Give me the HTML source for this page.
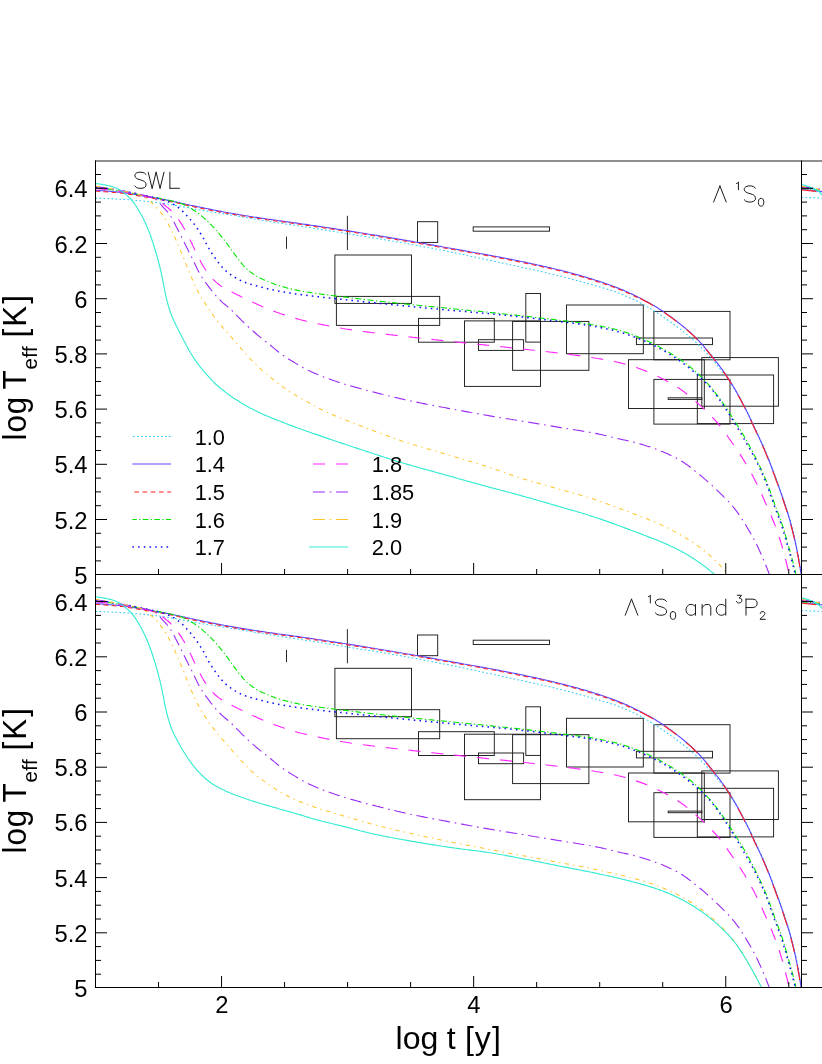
<!DOCTYPE html>
<html><head><meta charset="utf-8"><title>cooling curves</title>
<style>html,body{margin:0;padding:0;background:#fff;}svg{display:block;will-change:transform;}</style></head><body>
<svg width="822" height="1064" viewBox="0 0 822 1064">
<rect width="822" height="1064" fill="#fff"/>
<defs>
<clipPath id="c0"><rect x="95.5" y="161.0" width="706.6" height="413.5"/></clipPath>
<clipPath id="c1"><rect x="95.5" y="574.5" width="706.6" height="413.0"/></clipPath>
<clipPath id="r0"><rect x="801.5" y="161.0" width="20.5" height="413.5"/></clipPath>
<clipPath id="r1"><rect x="801.5" y="574.5" width="20.5" height="413.0"/></clipPath>
</defs>
<g clip-path="url(#c0)"><g fill="none" stroke="#1c1c1c" stroke-width="0.95">
<rect x="334.9" y="255.0" width="76.6" height="48.4"/>
<rect x="336.4" y="296.4" width="103.3" height="29.0"/>
<rect x="417.5" y="221.7" width="20.2" height="20.7"/>
<rect x="473.2" y="226.9" width="76.3" height="4.3"/>
<rect x="418.5" y="318.4" width="75.8" height="23.8"/>
<rect x="464.5" y="320.9" width="76.0" height="65.5"/>
<rect x="478.5" y="339.7" width="45.1" height="10.7"/>
<rect x="525.8" y="293.5" width="14.7" height="48.6"/>
<rect x="512.6" y="321.4" width="76.3" height="48.9"/>
<rect x="566.5" y="305.0" width="76.8" height="48.7"/>
<rect x="636.4" y="338.0" width="76.1" height="6.6"/>
<rect x="653.9" y="311.4" width="76.1" height="48.4"/>
<rect x="628.5" y="359.7" width="75.8" height="48.8"/>
<rect x="653.9" y="379.4" width="76.1" height="44.7"/>
<rect x="701.8" y="357.6" width="76.6" height="48.6"/>
<rect x="697.3" y="375.0" width="76.3" height="48.6"/>
<rect x="668.2" y="397.8" width="33.6" height="1.6"/>
<path d="M347.4 215.8V250.0"/>
<path d="M286.5 236.6V248.8"/>
</g><path d="M95.5 198.2L97.0 198.2L98.5 198.3L100.0 198.3L101.5 198.4L103.0 198.4L104.5 198.5L106.0 198.5L107.5 198.6L109.0 198.7L110.5 198.7L112.0 198.8L113.5 198.9L115.0 198.9L116.5 199.0L118.0 199.1L119.5 199.2L121.0 199.3L122.5 199.3L124.0 199.4L125.5 199.5L127.0 199.6L128.5 199.7L130.0 199.9L131.5 200.0L132.9 200.1L134.4 200.2L135.9 200.4L137.4 200.5L138.9 200.6L140.4 200.8L141.9 200.9L143.4 201.0L144.9 201.2L146.4 201.3L147.9 201.5L149.4 201.7L150.9 201.8L152.4 202.0L153.8 202.2L155.3 202.4L156.8 202.5L158.3 202.7L159.8 202.9L161.3 203.1L162.8 203.3L164.3 203.5L165.7 203.8L167.2 204.0L168.7 204.2L170.2 204.4L171.7 204.7L173.1 204.9L174.6 205.2L176.1 205.5L177.6 205.7L179.0 206.0L180.5 206.3L182.0 206.6L183.5 206.9L184.9 207.2L186.4 207.5L187.9 207.8L189.3 208.1L190.8 208.4L192.3 208.7L193.8 209.0L195.2 209.2L196.7 209.5L198.2 209.7L199.7 210.0L201.2 210.2L202.6 210.5L204.1 210.7L205.6 210.9L207.1 211.2L208.6 211.4L210.0 211.6L211.5 211.9L213.0 212.1L214.5 212.3L216.0 212.6L217.5 212.8L218.9 213.0L220.4 213.3L221.9 213.5L223.4 213.8L224.9 214.0L226.3 214.2L227.8 214.5L229.3 214.7L230.8 215.0L232.3 215.2L233.7 215.5L235.2 215.7L236.7 216.0L238.2 216.2L239.6 216.5L241.1 216.7L242.6 217.0L244.1 217.2L245.6 217.5L247.0 217.7L248.5 218.0L250.0 218.2L251.5 218.5L253.0 218.8L254.4 219.0L255.9 219.3L257.4 219.5L258.9 219.8L260.4 220.0L261.8 220.3L263.3 220.5L264.8 220.8L266.3 221.0L267.7 221.2L269.2 221.5L270.7 221.7L272.2 221.9L273.7 222.2L275.2 222.4L276.6 222.6L278.1 222.8L279.6 223.1L281.1 223.3L282.6 223.5L284.1 223.7L285.5 223.9L287.0 224.2L288.5 224.4L290.0 224.6L291.5 224.8L293.0 225.0L294.4 225.3L295.9 225.5L297.4 225.7L298.9 225.9L300.4 226.2L301.9 226.4L303.3 226.6L304.8 226.9L306.3 227.1L307.8 227.3L309.3 227.5L310.8 227.8L312.2 228.0L313.7 228.3L315.2 228.5L316.7 228.7L318.2 229.0L319.6 229.2L321.1 229.4L322.6 229.7L324.1 229.9L325.6 230.2L327.0 230.4L328.5 230.6L330.0 230.9L331.5 231.1L333.0 231.3L334.5 231.6L335.9 231.8L337.4 232.1L338.9 232.3L340.4 232.6L341.9 232.8L343.3 233.0L344.8 233.3L346.3 233.5L347.8 233.8L349.3 234.0L350.7 234.2L352.2 234.5L353.7 234.7L355.2 235.0L356.7 235.2L358.1 235.4L359.6 235.7L361.1 235.9L362.6 236.1L364.1 236.4L365.5 236.6L367.0 236.9L368.5 237.1L370.0 237.3L371.5 237.6L373.0 237.8L374.4 238.0L375.9 238.3L377.4 238.5L378.9 238.8L380.4 239.0L381.8 239.2L383.3 239.5L384.8 239.7L386.3 240.0L387.8 240.2L389.2 240.5L390.7 240.7L392.2 241.0L393.7 241.2L395.1 241.5L396.6 241.7L398.1 242.0L399.6 242.3L401.1 242.5L402.5 242.8L404.0 243.0L405.5 243.3L407.0 243.6L408.4 243.9L409.9 244.1L411.4 244.4L412.9 244.7L414.3 244.9L415.8 245.2L417.3 245.5L418.8 245.8L420.2 246.0L421.7 246.3L423.2 246.6L424.7 246.9L426.1 247.2L427.6 247.5L429.1 247.7L430.6 248.0L432.0 248.3L433.5 248.6L435.0 248.9L436.4 249.2L437.9 249.5L439.4 249.8L440.9 250.1L442.3 250.3L443.8 250.6L445.3 250.9L446.7 251.2L448.2 251.5L449.7 251.8L451.1 252.1L452.6 252.4L454.1 252.7L455.6 253.0L457.0 253.3L458.5 253.6L460.0 253.9L461.4 254.2L462.9 254.5L464.4 254.8L465.8 255.1L467.3 255.5L468.8 255.8L470.2 256.1L471.7 256.4L473.2 256.7L474.6 257.0L476.1 257.3L477.6 257.6L479.0 258.0L480.5 258.3L482.0 258.6L483.4 258.9L484.9 259.2L486.4 259.6L487.8 259.9L489.3 260.2L490.8 260.5L492.2 260.8L493.7 261.1L495.2 261.5L496.6 261.8L498.1 262.1L499.6 262.4L501.0 262.8L502.5 263.1L504.0 263.4L505.4 263.7L506.9 264.0L508.4 264.4L509.8 264.7L511.3 265.0L512.8 265.3L514.2 265.6L515.7 265.9L517.2 266.3L518.6 266.6L520.1 266.9L521.5 267.2L523.0 267.5L524.5 267.9L525.9 268.2L527.4 268.5L528.9 268.8L530.3 269.1L531.8 269.5L533.3 269.8L534.7 270.1L536.2 270.5L537.7 270.8L539.1 271.1L540.6 271.4L542.1 271.8L543.5 272.1L545.0 272.5L546.4 272.8L547.9 273.1L549.4 273.5L550.8 273.8L552.3 274.2L553.7 274.5L555.2 274.9L556.6 275.3L558.1 275.6L559.5 276.0L561.0 276.3L562.5 276.7L563.9 277.1L565.4 277.5L566.8 277.8L568.3 278.2L569.7 278.6L571.2 279.0L572.6 279.4L574.1 279.8L575.5 280.1L577.0 280.5L578.4 280.9L579.9 281.3L581.3 281.7L582.8 282.1L584.2 282.5L585.6 282.9L587.1 283.3L588.5 283.7L590.0 284.2L591.4 284.6L592.9 285.0L594.3 285.4L595.7 285.8L597.2 286.2L598.6 286.6L600.1 287.1L601.5 287.5L603.0 287.9L604.4 288.3L605.8 288.8L607.3 289.2L608.7 289.7L610.1 290.1L611.6 290.6L613.0 291.0L614.4 291.5L615.8 292.0L617.2 292.5L618.6 293.1L620.0 293.6L621.4 294.1L622.8 294.7L624.2 295.3L625.6 295.9L626.9 296.5L628.3 297.1L629.7 297.7L631.1 298.3L632.4 299.0L633.8 299.6L635.1 300.3L636.5 300.9L637.8 301.6L639.2 302.3L640.5 303.0L641.8 303.7L643.1 304.4L644.4 305.1L645.7 305.8L647.0 306.6L648.3 307.3L649.6 308.1L650.9 308.9L652.2 309.7L653.4 310.5L654.7 311.3L656.0 312.1L657.2 312.9L658.5 313.8L659.7 314.6L661.0 315.4L662.2 316.3L663.5 317.1L664.7 318.0L665.9 318.8L667.2 319.7L668.4 320.5L669.6 321.4L670.9 322.3L672.1 323.1L673.3 324.0L674.5 324.9L675.7 325.8L676.9 326.7L678.1 327.6L679.4 328.5L680.5 329.4L681.7 330.3L682.9 331.2L684.1 332.2L685.3 333.1L686.4 334.1L687.6 335.0L688.7 336.0L689.9 336.9L691.0 337.9L692.1 338.9L693.2 339.9L694.4 340.9L695.5 341.9L696.5 342.9L697.6 344.0L698.7 345.0L699.8 346.1L700.9 347.1L701.9 348.2L703.0 349.3L704.0 350.4L705.1 351.4L706.1 352.5L707.1 353.6L708.1 354.7L709.1 355.8L710.2 357.0L711.2 358.1L712.1 359.2L713.1 360.3L714.1 361.5L715.1 362.6L716.0 363.8L717.0 364.9L717.9 366.1L718.9 367.3L719.8 368.4L720.7 369.6L721.6 370.8L722.5 372.0L723.5 373.2L724.4 374.4L725.2 375.6L726.1 376.8L727.0 378.0L727.9 379.3L728.7 380.5L729.6 381.7L730.4 383.0L731.2 384.2L732.1 385.5L732.9 386.7L733.7 388.0L734.5 389.3L735.3 390.5L736.1 391.8L736.8 393.1L737.6 394.4L738.4 395.7L739.1 397.0L739.9 398.3L740.6 399.6L741.4 400.9L742.1 402.2L742.8 403.5L743.6 404.8L744.3 406.1L745.0 407.4L745.7 408.8L746.4 410.1L747.1 411.4L747.8 412.8L748.5 414.1L749.2 415.4L749.8 416.8L750.5 418.1L751.1 419.5L751.7 420.8L752.4 422.2L753.0 423.6L753.6 424.9L754.2 426.3L754.8 427.7L755.5 429.0L756.1 430.4L756.7 431.8L757.4 433.1L758.0 434.5L758.6 435.8L759.3 437.2L759.9 438.6L760.5 439.9L761.2 441.3L761.8 442.6L762.4 444.0L763.1 445.4L763.7 446.7L764.3 448.1L764.9 449.5L765.5 450.9L766.0 452.2L766.6 453.6L767.2 455.0L767.7 456.4L768.3 457.8L768.9 459.2L769.4 460.6L769.9 462.0L770.5 463.4L771.0 464.8L771.6 466.2L772.1 467.6L772.6 469.0L773.1 470.4L773.7 471.8L774.2 473.2L774.7 474.6L775.2 476.0L775.7 477.4L776.3 478.8L776.8 480.3L777.3 481.7L777.8 483.1L778.3 484.5L778.8 485.9L779.3 487.3L779.8 488.7L780.3 490.1L780.8 491.6L781.3 493.0L781.8 494.4L782.3 495.8L782.8 497.2L783.3 498.6L783.8 500.1L784.2 501.5L784.7 502.9L785.2 504.3L785.7 505.8L786.1 507.2L786.6 508.6L787.1 510.0L787.5 511.5L788.0 512.9L788.4 514.3L788.9 515.8L789.3 517.2L789.7 518.6L790.2 520.1L790.6 521.5L791.0 523.0L791.4 524.4L791.7 525.9L792.1 527.3L792.5 528.8L792.9 530.2L793.2 531.7L793.6 533.1L793.9 534.6L794.3 536.0L794.6 537.5L794.9 539.0L795.3 540.4L795.6 541.9L795.9 543.4L796.2 544.8L796.5 546.3L796.8 547.8L797.1 549.2L797.4 550.7L797.7 552.2L798.0 553.7L798.3 555.1L798.5 556.6L798.8 558.1L799.1 559.6L799.3 561.0L799.6 562.5L799.8 564.0L800.1 565.5L800.3 567.0L800.6 568.4L800.8 569.9L801.0 571.4L801.3 572.9L801.5 574.4L801.5 574.5" fill="none" stroke="#2cc8ff" stroke-width="1.05" stroke-dasharray="1.7 2.3" stroke-linejoin="round"/>
<path d="M95.5 190.4L97.0 190.5L98.5 190.5L100.0 190.6L101.5 190.7L103.0 190.8L104.5 190.9L106.0 191.0L107.5 191.1L109.0 191.3L110.5 191.4L112.0 191.5L113.5 191.7L115.0 191.8L116.5 191.9L117.9 192.1L119.4 192.2L120.9 192.4L122.4 192.6L123.9 192.8L125.4 193.0L126.9 193.2L128.3 193.4L129.8 193.6L131.3 193.9L132.8 194.1L134.3 194.3L135.8 194.6L137.2 194.9L138.7 195.1L140.2 195.4L141.7 195.6L143.2 195.9L144.6 196.1L146.1 196.4L147.6 196.6L149.1 196.9L150.5 197.1L152.0 197.4L153.5 197.6L155.0 197.9L156.5 198.2L157.9 198.4L159.4 198.7L160.9 199.0L162.4 199.2L163.8 199.5L165.3 199.8L166.8 200.1L168.3 200.4L169.7 200.6L171.2 200.9L172.7 201.2L174.1 201.6L175.6 201.9L177.1 202.2L178.5 202.5L180.0 202.8L181.5 203.2L182.9 203.5L184.4 203.8L185.8 204.2L187.3 204.5L188.8 204.8L190.2 205.2L191.7 205.5L193.2 205.8L194.6 206.1L196.1 206.4L197.6 206.7L199.0 207.0L200.5 207.3L202.0 207.6L203.4 207.9L204.9 208.2L206.4 208.5L207.9 208.8L209.3 209.1L210.8 209.4L212.3 209.7L213.7 210.0L215.2 210.3L216.7 210.6L218.2 210.9L219.6 211.1L221.1 211.4L222.6 211.7L224.1 212.0L225.5 212.2L227.0 212.5L228.5 212.8L230.0 213.0L231.4 213.3L232.9 213.5L234.4 213.8L235.9 214.1L237.4 214.3L238.8 214.6L240.3 214.8L241.8 215.1L243.3 215.3L244.7 215.6L246.2 215.8L247.7 216.0L249.2 216.3L250.7 216.5L252.2 216.7L253.6 217.0L255.1 217.2L256.6 217.4L258.1 217.6L259.6 217.9L261.1 218.1L262.5 218.3L264.0 218.5L265.5 218.7L267.0 219.0L268.5 219.2L270.0 219.4L271.4 219.6L272.9 219.8L274.4 220.0L275.9 220.2L277.4 220.5L278.9 220.7L280.4 220.9L281.8 221.1L283.3 221.3L284.8 221.5L286.3 221.7L287.8 221.9L289.3 222.1L290.8 222.3L292.2 222.5L293.7 222.7L295.2 222.9L296.7 223.1L298.2 223.3L299.7 223.6L301.2 223.8L302.6 224.0L304.1 224.2L305.6 224.4L307.1 224.6L308.6 224.8L310.1 225.1L311.5 225.3L313.0 225.5L314.5 225.7L316.0 225.9L317.5 226.2L319.0 226.4L320.4 226.6L321.9 226.8L323.4 227.0L324.9 227.3L326.4 227.5L327.9 227.7L329.3 227.9L330.8 228.2L332.3 228.4L333.8 228.6L335.3 228.8L336.8 229.1L338.2 229.3L339.7 229.5L341.2 229.7L342.7 230.0L344.2 230.2L345.7 230.4L347.1 230.7L348.6 230.9L350.1 231.1L351.6 231.4L353.1 231.6L354.5 231.8L356.0 232.1L357.5 232.3L359.0 232.5L360.5 232.8L362.0 233.0L363.4 233.3L364.9 233.5L366.4 233.7L367.9 234.0L369.4 234.2L370.8 234.5L372.3 234.7L373.8 234.9L375.3 235.2L376.8 235.4L378.2 235.7L379.7 235.9L381.2 236.2L382.7 236.4L384.2 236.7L385.6 236.9L387.1 237.2L388.6 237.4L390.1 237.7L391.6 237.9L393.0 238.2L394.5 238.4L396.0 238.7L397.5 238.9L398.9 239.2L400.4 239.4L401.9 239.7L403.4 239.9L404.9 240.2L406.3 240.4L407.8 240.7L409.3 240.9L410.8 241.2L412.3 241.4L413.7 241.7L415.2 242.0L416.7 242.2L418.2 242.5L419.6 242.7L421.1 243.0L422.6 243.3L424.1 243.5L425.5 243.8L427.0 244.1L428.5 244.3L430.0 244.6L431.5 244.8L432.9 245.1L434.4 245.4L435.9 245.6L437.4 245.9L438.8 246.2L440.3 246.4L441.8 246.7L443.3 247.0L444.7 247.2L446.2 247.5L447.7 247.8L449.2 248.0L450.6 248.3L452.1 248.6L453.6 248.8L455.1 249.1L456.6 249.3L458.0 249.6L459.5 249.9L461.0 250.1L462.5 250.4L463.9 250.7L465.4 250.9L466.9 251.2L468.4 251.4L469.8 251.7L471.3 252.0L472.8 252.2L474.3 252.5L475.8 252.8L477.2 253.0L478.7 253.3L480.2 253.6L481.7 253.8L483.1 254.1L484.6 254.4L486.1 254.6L487.6 254.9L489.0 255.2L490.5 255.4L492.0 255.7L493.5 256.0L494.9 256.3L496.4 256.6L497.9 256.8L499.4 257.1L500.8 257.4L502.3 257.7L503.8 258.0L505.2 258.3L506.7 258.6L508.2 258.9L509.7 259.1L511.1 259.4L512.6 259.7L514.1 260.0L515.5 260.3L517.0 260.6L518.5 260.9L519.9 261.2L521.4 261.5L522.9 261.8L524.4 262.1L525.8 262.4L527.3 262.8L528.8 263.1L530.2 263.4L531.7 263.7L533.2 264.0L534.6 264.3L536.1 264.6L537.6 265.0L539.0 265.3L540.5 265.6L542.0 265.9L543.4 266.3L544.9 266.6L546.3 266.9L547.8 267.3L549.3 267.6L550.7 267.9L552.2 268.3L553.6 268.6L555.1 269.0L556.6 269.3L558.0 269.7L559.5 270.0L560.9 270.4L562.4 270.8L563.8 271.1L565.3 271.5L566.7 271.9L568.2 272.3L569.6 272.7L571.1 273.0L572.5 273.4L574.0 273.8L575.4 274.2L576.9 274.6L578.3 275.0L579.8 275.4L581.2 275.9L582.7 276.3L584.1 276.7L585.5 277.1L587.0 277.5L588.4 278.0L589.8 278.4L591.3 278.8L592.7 279.3L594.1 279.7L595.6 280.2L597.0 280.6L598.4 281.1L599.9 281.6L601.3 282.0L602.7 282.5L604.1 283.0L605.5 283.5L607.0 284.0L608.4 284.5L609.8 285.0L611.2 285.5L612.6 286.0L614.0 286.5L615.4 287.0L616.8 287.6L618.2 288.1L619.6 288.7L621.0 289.3L622.4 289.8L623.8 290.4L625.1 291.0L626.5 291.6L627.9 292.2L629.3 292.9L630.6 293.5L632.0 294.1L633.3 294.8L634.7 295.4L636.0 296.1L637.4 296.7L638.7 297.4L640.1 298.1L641.4 298.8L642.7 299.5L644.1 300.2L645.4 300.9L646.7 301.6L648.0 302.3L649.3 303.0L650.6 303.8L652.0 304.5L653.2 305.3L654.5 306.0L655.8 306.8L657.1 307.6L658.4 308.4L659.6 309.2L660.9 310.0L662.1 310.8L663.4 311.6L664.6 312.5L665.9 313.3L667.1 314.2L668.3 315.1L669.5 316.0L670.8 316.8L672.0 317.7L673.2 318.6L674.4 319.5L675.6 320.4L676.7 321.3L677.9 322.3L679.1 323.2L680.3 324.1L681.5 325.1L682.6 326.0L683.8 327.0L685.0 327.9L686.1 328.9L687.3 329.9L688.4 330.8L689.5 331.8L690.7 332.8L691.8 333.8L692.9 334.9L694.0 335.9L695.0 336.9L696.1 338.0L697.1 339.0L698.1 340.1L699.2 341.2L700.2 342.3L701.2 343.4L702.2 344.5L703.2 345.7L704.2 346.8L705.1 347.9L706.1 349.1L707.1 350.3L708.0 351.4L709.0 352.6L709.9 353.8L710.9 354.9L711.8 356.1L712.7 357.3L713.7 358.5L714.6 359.7L715.5 360.8L716.4 362.0L717.4 363.2L718.3 364.4L719.2 365.6L720.1 366.8L721.0 368.0L721.9 369.2L722.8 370.4L723.6 371.6L724.5 372.8L725.4 374.1L726.2 375.3L727.0 376.6L727.9 377.8L728.7 379.1L729.5 380.3L730.3 381.6L731.1 382.9L731.9 384.1L732.7 385.4L733.4 386.7L734.2 388.0L735.0 389.3L735.7 390.6L736.5 391.9L737.2 393.2L737.9 394.5L738.6 395.8L739.4 397.1L740.1 398.5L740.8 399.8L741.5 401.1L742.2 402.4L742.9 403.8L743.6 405.1L744.3 406.4L744.9 407.8L745.6 409.1L746.3 410.5L747.0 411.8L747.6 413.1L748.3 414.5L749.0 415.8L749.6 417.2L750.2 418.5L750.9 419.9L751.5 421.3L752.1 422.6L752.8 424.0L753.4 425.4L754.0 426.7L754.6 428.1L755.2 429.5L755.9 430.8L756.5 432.2L757.1 433.5L757.8 434.9L758.4 436.3L759.1 437.6L759.7 439.0L760.3 440.3L761.0 441.7L761.6 443.1L762.2 444.4L762.8 445.8L763.4 447.2L764.1 448.5L764.6 449.9L765.2 451.3L765.8 452.7L766.4 454.0L766.9 455.4L767.5 456.8L768.1 458.2L768.6 459.6L769.2 461.0L769.7 462.4L770.2 463.8L770.8 465.2L771.3 466.6L771.8 468.0L772.4 469.4L772.9 470.8L773.4 472.2L773.9 473.6L774.5 475.0L775.0 476.5L775.5 477.9L776.0 479.3L776.5 480.7L777.1 482.1L777.6 483.5L778.1 484.9L778.6 486.3L779.1 487.7L779.6 489.1L780.1 490.6L780.6 492.0L781.1 493.4L781.6 494.8L782.1 496.2L782.5 497.6L783.0 499.1L783.5 500.5L784.0 501.9L784.4 503.3L784.9 504.8L785.4 506.2L785.9 507.6L786.3 509.0L786.8 510.5L787.3 511.9L787.7 513.3L788.2 514.8L788.6 516.2L789.0 517.6L789.5 519.1L789.9 520.5L790.3 521.9L790.7 523.4L791.1 524.8L791.4 526.3L791.8 527.7L792.2 529.2L792.6 530.6L792.9 532.1L793.3 533.6L793.6 535.0L794.0 536.5L794.3 537.9L794.6 539.4L795.0 540.9L795.3 542.3L795.6 543.8L795.9 545.3L796.2 546.7L796.5 548.2L796.8 549.7L797.1 551.2L797.4 552.6L797.7 554.1L798.0 555.6L798.3 557.0L798.5 558.5L798.8 560.0L799.1 561.5L799.3 562.9L799.6 564.4L799.8 565.9L800.1 567.4L800.3 568.9L800.6 570.3L800.8 571.8L801.0 573.3L801.2 574.5" fill="none" stroke="#5a46ff" stroke-width="1.15" stroke-linejoin="round"/>
<path d="M95.3 191.2L96.8 191.2L98.3 191.3L99.8 191.4L101.3 191.5L102.8 191.6L104.3 191.7L105.8 191.8L107.3 191.9L108.8 192.0L110.3 192.1L111.8 192.3L113.3 192.4L114.8 192.5L116.3 192.7L117.7 192.8L119.2 193.0L120.7 193.1L122.2 193.3L123.7 193.5L125.2 193.7L126.7 193.9L128.1 194.1L129.6 194.4L131.1 194.6L132.6 194.8L134.1 195.1L135.6 195.4L137.0 195.6L138.5 195.9L140.0 196.1L141.5 196.4L143.0 196.6L144.4 196.9L145.9 197.1L147.4 197.4L148.9 197.6L150.3 197.9L151.8 198.1L153.3 198.4L154.8 198.7L156.3 198.9L157.7 199.2L159.2 199.4L160.7 199.7L162.2 200.0L163.6 200.3L165.1 200.5L166.6 200.8L168.1 201.1L169.5 201.4L171.0 201.7L172.5 202.0L173.9 202.3L175.4 202.6L176.9 202.9L178.3 203.3L179.8 203.6L181.3 203.9L182.7 204.3L184.2 204.6L185.6 204.9L187.1 205.3L188.6 205.6L190.0 205.9L191.5 206.2L193.0 206.6L194.4 206.9L195.9 207.2L197.4 207.5L198.8 207.8L200.3 208.1L201.8 208.4L203.2 208.7L204.7 209.0L206.2 209.3L207.7 209.6L209.1 209.9L210.6 210.2L212.1 210.5L213.5 210.8L215.0 211.0L216.5 211.3L218.0 211.6L219.4 211.9L220.9 212.2L222.4 212.4L223.9 212.7L225.3 213.0L226.8 213.2L228.3 213.5L229.8 213.8L231.2 214.0L232.7 214.3L234.2 214.6L235.7 214.8L237.2 215.1L238.6 215.3L240.1 215.6L241.6 215.8L243.1 216.1L244.5 216.3L246.0 216.5L247.5 216.8L249.0 217.0L250.5 217.3L252.0 217.5L253.4 217.7L254.9 217.9L256.4 218.2L257.9 218.4L259.4 218.6L260.9 218.8L262.3 219.1L263.8 219.3L265.3 219.5L266.8 219.7L268.3 219.9L269.8 220.1L271.2 220.4L272.7 220.6L274.2 220.8L275.7 221.0L277.2 221.2L278.7 221.4L280.2 221.6L281.6 221.8L283.1 222.0L284.6 222.2L286.1 222.4L287.6 222.6L289.1 222.8L290.6 223.0L292.0 223.3L293.5 223.5L295.0 223.7L296.5 223.9L298.0 224.1L299.5 224.3L301.0 224.5L302.4 224.7L303.9 224.9L305.4 225.2L306.9 225.4L308.4 225.6L309.9 225.8L311.3 226.0L312.8 226.3L314.3 226.5L315.8 226.7L317.3 226.9L318.8 227.1L320.2 227.3L321.7 227.6L323.2 227.8L324.7 228.0L326.2 228.2L327.7 228.5L329.1 228.7L330.6 228.9L332.1 229.1L333.6 229.4L335.1 229.6L336.6 229.8L338.0 230.0L339.5 230.3L341.0 230.5L342.5 230.7L344.0 231.0L345.5 231.2L346.9 231.4L348.4 231.6L349.9 231.9L351.4 232.1L352.9 232.3L354.3 232.6L355.8 232.8L357.3 233.1L358.8 233.3L360.3 233.5L361.8 233.8L363.2 234.0L364.7 234.2L366.2 234.5L367.7 234.7L369.2 235.0L370.6 235.2L372.1 235.5L373.6 235.7L375.1 235.9L376.6 236.2L378.0 236.4L379.5 236.7L381.0 236.9L382.5 237.2L384.0 237.4L385.4 237.7L386.9 237.9L388.4 238.2L389.9 238.4L391.4 238.7L392.8 238.9L394.3 239.2L395.8 239.4L397.3 239.7L398.7 239.9L400.2 240.2L401.7 240.4L403.2 240.7L404.7 240.9L406.1 241.2L407.6 241.4L409.1 241.7L410.6 241.9L412.1 242.2L413.5 242.5L415.0 242.7L416.5 243.0L418.0 243.2L419.4 243.5L420.9 243.8L422.4 244.0L423.9 244.3L425.3 244.5L426.8 244.8L428.3 245.1L429.8 245.3L431.3 245.6L432.7 245.9L434.2 246.1L435.7 246.4L437.2 246.7L438.6 246.9L440.1 247.2L441.6 247.4L443.1 247.7L444.5 248.0L446.0 248.2L447.5 248.5L449.0 248.8L450.4 249.0L451.9 249.3L453.4 249.6L454.9 249.8L456.4 250.1L457.8 250.4L459.3 250.6L460.8 250.9L462.3 251.1L463.7 251.4L465.2 251.7L466.7 251.9L468.2 252.2L469.6 252.5L471.1 252.7L472.6 253.0L474.1 253.2L475.6 253.5L477.0 253.8L478.5 254.0L480.0 254.3L481.5 254.6L482.9 254.8L484.4 255.1L485.9 255.4L487.4 255.7L488.8 255.9L490.3 256.2L491.8 256.5L493.3 256.7L494.7 257.0L496.2 257.3L497.7 257.6L499.2 257.9L500.6 258.2L502.1 258.4L503.6 258.7L505.0 259.0L506.5 259.3L508.0 259.6L509.5 259.9L510.9 260.2L512.4 260.5L513.9 260.8L515.3 261.1L516.8 261.4L518.3 261.7L519.7 262.0L521.2 262.3L522.7 262.6L524.2 262.9L525.6 263.2L527.1 263.5L528.6 263.8L530.0 264.1L531.5 264.4L533.0 264.8L534.4 265.1L535.9 265.4L537.4 265.7L538.8 266.0L540.3 266.4L541.8 266.7L543.2 267.0L544.7 267.3L546.1 267.7L547.6 268.0L549.1 268.3L550.5 268.7L552.0 269.0L553.4 269.4L554.9 269.7L556.4 270.1L557.8 270.4L559.3 270.8L560.7 271.2L562.2 271.5L563.6 271.9L565.1 272.3L566.5 272.6L568.0 273.0L569.4 273.4L570.9 273.8L572.3 274.2L573.8 274.6L575.2 275.0L576.7 275.4L578.1 275.8L579.6 276.2L581.0 276.6L582.5 277.0L583.9 277.4L585.3 277.9L586.8 278.3L588.2 278.7L589.6 279.2L591.1 279.6L592.5 280.0L593.9 280.5L595.4 280.9L596.8 281.4L598.2 281.9L599.7 282.3L601.1 282.8L602.5 283.3L603.9 283.7L605.3 284.2L606.8 284.7L608.2 285.2L609.6 285.7L611.0 286.2L612.4 286.7L613.8 287.3L615.2 287.8L616.6 288.3L618.0 288.9L619.4 289.4L620.8 290.0L622.2 290.6L623.6 291.2L624.9 291.8L626.3 292.4L627.7 293.0L629.1 293.6L630.4 294.2L631.8 294.9L633.1 295.5L634.5 296.2L635.8 296.8L637.2 297.5L638.5 298.2L639.9 298.8" fill="none" stroke="#ff2020" stroke-width="1.05" stroke-dasharray="4.6 3.6"/><path d="M640.0 298.4L641.3 299.1L642.6 299.8L644.0 300.5L645.3 301.2L646.6 301.9L647.9 302.6L649.2 303.3L650.5 304.1L651.9 304.8L653.1 305.6L654.4 306.3L655.7 307.1L657.0 307.9L658.3 308.7L659.5 309.5L660.8 310.3L662.0 311.1L663.3 311.9L664.5 312.8L665.8 313.6L667.0 314.5L668.2 315.4L669.4 316.3L670.7 317.1L671.9 318.0L673.1 318.9L674.3 319.8L675.5 320.7L676.6 321.6L677.8 322.6L679.0 323.5L680.2 324.4L681.4 325.4L682.5 326.3L683.7 327.3L684.9 328.2L686.0 329.2L687.2 330.2L688.3 331.1L689.4 332.1L690.6 333.1L691.7 334.1L692.8 335.2L693.9 336.2L694.9 337.2L696.0 338.3L697.0 339.3L698.0 340.4L699.1 341.5L700.1 342.6L701.1 343.7L702.1 344.8L703.1 346.0L704.1 347.1L705.0 348.2L706.0 349.4L707.0 350.6L707.9 351.7L708.9 352.9L709.8 354.1L710.8 355.2L711.7 356.4L712.6 357.6L713.6 358.8L714.5 360.0L715.4 361.1L716.3 362.3L717.3 363.5L718.2 364.7L719.1 365.9L720.0 367.1L720.9 368.3L721.8 369.5L722.7 370.7L723.5 371.9L724.4 373.1L725.3 374.4L726.1 375.6L726.9 376.9L727.8 378.1L728.6 379.4L729.4 380.6L730.2 381.9L731.0 383.2L731.8 384.4L732.6 385.7L733.3 387.0L734.1 388.3L734.9 389.6L735.6 390.9L736.4 392.2L737.1 393.5L737.8 394.8L738.5 396.1L739.3 397.4L740.0 398.8L740.7 400.1L741.4 401.4L742.1 402.7L742.8 404.1L743.5 405.4L744.2 406.7L744.8 408.1L745.5 409.4L746.2 410.8L746.9 412.1L747.5 413.4L748.2 414.8L748.9 416.1L749.5 417.5L750.1 418.8L750.8 420.2L751.4 421.6L752.0 422.9L752.7 424.3L753.3 425.7L753.9 427.0L754.5 428.4L755.1 429.8L755.8 431.1L756.4 432.5L757.0 433.8L757.7 435.2L758.3 436.6L759.0 437.9L759.6 439.3L760.2 440.6L760.9 442.0L761.5 443.4L762.1 444.7L762.7 446.1L763.3 447.5L764.0 448.8L764.5 450.2L765.1 451.6L765.7 453.0L766.3 454.3L766.8 455.7L767.4 457.1L768.0 458.5L768.5 459.9L769.1 461.3L769.6 462.7L770.1 464.1L770.7 465.5L771.2 466.9L771.7 468.3L772.3 469.7L772.8 471.1L773.3 472.5L773.8 473.9L774.4 475.3L774.9 476.8L775.4 478.2L775.9 479.6L776.4 481.0L777.0 482.4L777.5 483.8L778.0 485.2L778.5 486.6L779.0 488.0L779.5 489.4L780.0 490.9L780.5 492.3L781.0 493.7L781.5 495.1L782.0 496.5L782.4 497.9L782.9 499.4L783.4 500.8L783.9 502.2L784.3 503.6L784.8 505.1L785.3 506.5L785.8 507.9L786.2 509.3L786.7 510.8L787.2 512.2L787.6 513.6L788.1 515.1L788.5 516.5L788.9 517.9L789.4 519.4L789.8 520.8L790.2 522.2L790.6 523.7L791.0 525.1L791.3 526.6L791.7 528.0L792.1 529.5L792.5 530.9L792.8 532.4L793.2 533.9L793.5 535.3L793.9 536.8L794.2 538.2L794.5 539.7L794.9 541.2L795.2 542.6L795.5 544.1L795.8 545.6L796.1 547.0L796.4 548.5L796.7 550.0L797.0 551.5L797.3 552.9L797.6 554.4L797.9 555.9L798.2 557.3L798.4 558.8L798.7 560.3L799.0 561.8L799.2 563.2L799.5 564.7L799.7 566.2L800.0 567.7L800.2 569.2L800.5 570.6L800.7 572.1L800.9 573.6L801.1 574.8" fill="none" stroke="#ff2020" stroke-width="1.1" stroke-dasharray="15 13"/>
<path d="M95.5 187.5L97.0 187.7L98.5 187.9L100.0 188.1L101.5 188.2L102.9 188.4L104.4 188.6L105.9 188.9L107.4 189.1L108.9 189.3L110.4 189.5L111.9 189.7L113.3 189.9L114.8 190.2L116.3 190.4L117.8 190.6L119.3 190.9L120.7 191.1L122.2 191.4L123.7 191.6L125.2 191.9L126.6 192.2L128.1 192.5L129.6 192.7L131.1 193.0L132.5 193.3L134.0 193.6L135.5 193.9L136.9 194.2L138.4 194.5L139.9 194.8L141.4 195.1L142.8 195.4L144.3 195.7L145.8 195.9L147.3 196.2L148.7 196.5L150.2 196.7L151.7 197.0L153.2 197.3L154.7 197.5L156.1 197.8L157.6 198.0L159.1 198.3L160.6 198.6L162.0 198.8L163.5 199.1L165.0 199.4L166.5 199.7L167.9 200.0L169.4 200.4L170.8 200.7L172.3 201.0L173.8 201.4L175.2 201.8L176.7 202.2L178.1 202.6L179.6 203.0L181.0 203.5L182.4 204.0L183.7 204.6L185.1 205.2L186.4 205.9L187.8 206.6L189.1 207.3L190.4 208.1L191.7 208.9L193.0 209.7L194.2 210.5L195.5 211.3L196.7 212.2L197.9 213.0L199.1 214.0L200.3 214.9L201.5 215.8L202.6 216.8L203.8 217.8L204.9 218.8L206.0 219.8L207.1 220.8L208.2 221.8L209.3 222.9L210.3 223.9L211.4 225.0L212.4 226.1L213.5 227.2L214.5 228.3L215.5 229.4L216.5 230.5L217.5 231.6L218.4 232.8L219.4 233.9L220.3 235.1L221.3 236.3L222.2 237.4L223.1 238.6L224.1 239.8L225.0 241.0L225.9 242.2L226.8 243.4L227.7 244.6L228.5 245.8L229.4 247.0L230.3 248.3L231.2 249.5L232.0 250.7L232.9 251.9L233.8 253.1L234.7 254.3L235.6 255.5L236.5 256.7L237.4 258.0L238.3 259.1L239.2 260.3L240.2 261.5L241.1 262.6L242.1 263.8L243.0 265.0L244.0 266.1L245.1 267.2L246.1 268.3L247.2 269.3L248.3 270.2L249.5 271.2L250.6 272.1L251.9 273.0L253.1 273.9L254.4 274.7L255.6 275.5L256.9 276.3L258.2 277.0L259.5 277.7L260.9 278.4L262.2 279.0L263.6 279.7L265.0 280.3L266.4 280.9L267.8 281.5L269.1 282.0L270.5 282.6L271.9 283.1L273.3 283.6L274.8 284.2L276.2 284.7L277.6 285.1L279.0 285.6L280.5 286.0L281.9 286.5L283.3 286.9L284.8 287.3L286.2 287.7L287.7 288.1L289.1 288.4L290.6 288.8L292.1 289.1L293.5 289.5L295.0 289.8L296.5 290.1L297.9 290.4L299.4 290.7L300.9 291.0L302.3 291.2L303.8 291.5L305.3 291.7L306.8 292.0L308.2 292.2L309.7 292.4L311.2 292.7L312.7 292.9L314.2 293.1L315.6 293.3L317.1 293.5L318.6 293.8L320.1 294.0L321.6 294.2L323.1 294.4L324.6 294.6L326.1 294.8L327.5 294.9L329.0 295.1L330.5 295.3L332.0 295.5L333.5 295.7L335.0 295.9L336.5 296.1L338.0 296.2L339.5 296.4L341.0 296.6L342.5 296.8L343.9 297.0L345.4 297.1L346.9 297.3L348.4 297.5L349.9 297.7L351.4 297.9L352.9 298.1L354.4 298.3L355.9 298.4L357.3 298.6L358.8 298.8L360.3 299.0L361.8 299.2L363.3 299.3L364.8 299.5L366.3 299.7L367.8 299.9L369.3 300.0L370.8 300.2L372.2 300.4L373.7 300.5L375.2 300.7L376.7 300.9L378.2 301.0L379.7 301.2L381.2 301.4L382.7 301.5L384.2 301.7L385.7 301.9L387.2 302.0L388.6 302.2L390.1 302.4L391.6 302.5L393.1 302.7L394.6 302.8L396.1 303.0L397.6 303.2L399.1 303.3L400.6 303.5L402.1 303.6L403.6 303.8L405.1 304.0L406.5 304.1L408.0 304.3L409.5 304.4L411.0 304.6L412.5 304.7L414.0 304.9L415.5 305.0L417.0 305.2L418.5 305.3L420.0 305.5L421.5 305.6L423.0 305.8L424.5 305.9L425.9 306.1L427.4 306.2L428.9 306.4L430.4 306.5L431.9 306.6L433.4 306.8L434.9 306.9L436.4 307.1L437.9 307.2L439.4 307.4L440.9 307.5L442.4 307.7L443.9 307.8L445.4 308.0L446.8 308.1L448.3 308.3L449.8 308.4L451.3 308.6L452.8 308.7L454.3 308.9L455.8 309.0L457.3 309.2L458.8 309.3L460.3 309.5L461.8 309.6L463.3 309.8L464.8 309.9L466.2 310.1L467.7 310.2L469.2 310.4L470.7 310.5L472.2 310.7L473.7 310.8L475.2 311.0L476.7 311.1L478.2 311.2L479.7 311.4L481.2 311.5L482.7 311.7L484.2 311.8L485.7 312.0L487.1 312.1L488.6 312.3L490.1 312.5L491.6 312.6L493.1 312.8L494.6 312.9L496.1 313.1L497.6 313.2L499.1 313.4L500.6 313.5L502.1 313.7L503.6 313.9L505.0 314.0L506.5 314.2L508.0 314.3L509.5 314.5L511.0 314.7L512.5 314.8L514.0 315.0L515.5 315.1L517.0 315.3L518.5 315.5L520.0 315.6L521.4 315.8L522.9 316.0L524.4 316.1L525.9 316.3L527.4 316.5L528.9 316.6L530.4 316.8L531.9 317.0L533.4 317.2L534.9 317.3L536.4 317.5L537.8 317.7L539.3 317.8L540.8 318.0L542.3 318.2L543.8 318.4L545.3 318.5L546.8 318.7L548.3 318.9L549.8 319.1L551.2 319.3L552.7 319.4L554.2 319.6L555.7 319.8L557.2 320.0L558.7 320.2L560.2 320.4L561.7 320.5L563.2 320.7L564.7 320.9L566.1 321.1L567.6 321.3L569.1 321.5L570.6 321.6L572.1 321.8L573.6 322.0L575.1 322.2L576.6 322.4L578.1 322.6L579.5 322.8L581.0 323.0L582.5 323.2L584.0 323.4L585.5 323.7L587.0 323.9L588.4 324.1L589.9 324.3L591.4 324.6L592.9 324.8L594.4 325.1L595.8 325.3L597.3 325.6L598.8 325.8L600.3 326.1L601.8 326.4L603.2 326.7L604.7 327.0L606.2 327.3L607.7 327.6L609.1 327.9L610.6 328.2L612.0 328.6L613.5 328.9L615.0 329.3L616.4 329.6L617.8 330.0L619.3 330.4L620.7 330.8L622.2 331.2L623.6 331.7L625.0 332.1L626.4 332.6L627.9 333.1L629.3 333.6L630.7 334.1L632.1 334.6L633.5 335.2L634.9 335.7L636.3 336.2L637.7 336.8L639.1 337.4L640.5 337.9L641.9 338.5L643.3 339.1L644.6 339.7L646.0 340.3L647.4 340.9L648.7 341.5L650.1 342.2L651.5 342.8L652.8 343.5L654.2 344.1L655.5 344.8L656.8 345.5L658.2 346.2L659.5 346.9L660.8 347.7L662.1 348.4L663.4 349.1L664.7 349.9L666.0 350.6L667.3 351.3L668.6 352.1L669.9 352.9L671.2 353.7L672.4 354.5L673.7 355.3L675.0 356.1L676.3 356.9L677.5 357.7L678.8 358.6L680.0 359.4L681.2 360.3L682.5 361.2L683.7 362.0L684.9 362.9L686.1 363.8L687.3 364.7L688.5 365.6L689.7 366.6L690.8 367.5L692.0 368.4L693.1 369.4L694.2 370.4L695.4 371.4L696.5 372.4L697.6 373.4L698.7 374.4L699.8 375.5L700.8 376.5L701.9 377.6L703.0 378.7L704.0 379.8L705.1 380.8L706.1 381.9L707.1 383.0L708.1 384.2L709.1 385.3L710.1 386.4L711.1 387.5L712.0 388.7L713.0 389.8L713.9 391.0L714.8 392.2L715.8 393.4L716.7 394.6L717.6 395.8L718.5 397.0L719.4 398.2L720.3 399.4L721.1 400.6L722.0 401.8L722.9 403.1L723.8 404.3L724.6 405.5L725.5 406.7L726.3 408.0L727.2 409.2L728.0 410.5L728.8 411.7L729.6 413.0L730.4 414.2L731.2 415.5L732.0 416.8L732.8 418.0L733.6 419.3L734.4 420.6L735.2 421.9L736.0 423.1L736.8 424.4L737.6 425.7L738.4 426.9L739.2 428.2L740.0 429.5L740.8 430.8L741.6 432.0L742.4 433.3L743.1 434.6L743.9 435.9L744.7 437.2L745.4 438.5L746.2 439.8L746.9 441.1L747.6 442.4L748.3 443.7L749.1 445.0L749.8 446.4L750.5 447.7L751.2 449.0L751.9 450.3L752.6 451.7L753.3 453.0L753.9 454.3L754.6 455.7L755.3 457.0L756.0 458.4L756.6 459.7L757.3 461.1L757.9 462.4L758.6 463.8L759.2 465.1L759.8 466.5L760.5 467.8L761.1 469.2L761.7 470.6L762.4 471.9L763.0 473.3L763.6 474.7L764.2 476.1L764.8 477.4L765.3 478.8L765.9 480.2L766.5 481.6L767.0 483.0L767.6 484.4L768.1 485.8L768.6 487.2L769.1 488.6L769.7 490.0L770.2 491.4L770.7 492.8L771.2 494.3L771.7 495.7L772.2 497.1L772.7 498.5L773.2 499.9L773.7 501.3L774.2 502.7L774.7 504.2L775.2 505.6L775.7 507.0L776.3 508.4L776.8 509.8L777.3 511.2L777.9 512.6L778.4 514.0L778.9 515.4L779.4 516.8L779.9 518.2L780.5 519.6L781.0 521.0L781.4 522.4L781.9 523.9L782.4 525.3L782.9 526.7L783.3 528.1L783.7 529.6L784.2 531.0L784.6 532.4L785.0 533.9L785.5 535.3L785.9 536.8L786.3 538.2L786.7 539.7L787.1 541.1L787.5 542.5L788.0 544.0L788.4 545.4L788.8 546.9L789.2 548.3L789.6 549.7L790.0 551.2L790.4 552.6L790.8 554.1L791.2 555.5L791.6 557.0L792.0 558.4L792.4 559.9L792.8 561.3L793.1 562.8L793.5 564.2L793.9 565.7L794.2 567.1L794.6 568.6L795.0 570.1L795.3 571.5L795.6 573.0L796.0 574.4L796.0 574.5" fill="none" stroke="#00e400" stroke-width="1.1" stroke-dasharray="6 2.5 1.3 2.5" stroke-linejoin="round"/>
<path d="M95.5 187.0L97.0 187.2L98.5 187.4L100.0 187.5L101.5 187.7L102.9 187.9L104.4 188.1L105.9 188.3L107.4 188.5L108.9 188.8L110.4 189.0L111.9 189.2L113.3 189.4L114.8 189.7L116.3 189.9L117.8 190.1L119.3 190.4L120.7 190.6L122.2 190.9L123.7 191.1L125.2 191.4L126.6 191.7L128.1 192.0L129.6 192.3L131.1 192.6L132.5 192.8L134.0 193.2L135.5 193.5L136.9 193.8L138.4 194.1L139.9 194.4L141.3 194.7L142.8 195.0L144.3 195.3L145.7 195.7L147.2 196.0L148.7 196.3L150.1 196.6L151.6 196.9L153.1 197.3L154.5 197.6L156.0 197.9L157.5 198.3L158.9 198.7L160.3 199.1L161.8 199.5L163.2 200.0L164.7 200.4L166.1 200.9L167.5 201.4L168.9 202.0L170.2 202.6L171.6 203.3L172.9 204.0L174.2 204.7L175.5 205.6L176.7 206.4L178.0 207.3L179.1 208.2L180.3 209.1L181.4 210.1L182.5 211.1L183.6 212.2L184.7 213.2L185.7 214.4L186.7 215.5L187.7 216.6L188.7 217.7L189.7 218.8L190.7 219.9L191.7 221.1L192.6 222.2L193.6 223.4L194.5 224.6L195.4 225.8L196.2 227.0L197.1 228.2L198.0 229.5L198.8 230.7L199.6 232.0L200.4 233.3L201.2 234.5L202.0 235.8L202.8 237.1L203.5 238.4L204.2 239.7L204.9 241.0L205.6 242.4L206.3 243.7L207.0 245.0L207.7 246.4L208.5 247.7L209.2 249.0L210.0 250.3L210.8 251.5L211.6 252.8L212.4 254.1L213.2 255.3L214.0 256.6L214.9 257.8L215.8 259.0L216.6 260.2L217.5 261.4L218.4 262.6L219.4 263.8L220.3 265.0L221.3 266.2L222.3 267.3L223.3 268.4L224.3 269.5L225.4 270.5L226.5 271.4L227.7 272.4L228.9 273.3L230.1 274.2L231.3 275.1L232.6 275.9L233.9 276.7L235.1 277.5L236.4 278.3L237.7 279.0L239.1 279.7L240.4 280.4L241.8 281.0L243.2 281.6L244.6 282.2L245.9 282.7L247.4 283.2L248.8 283.6L250.2 284.1L251.7 284.5L253.1 284.9L254.6 285.3L256.0 285.7L257.5 286.1L258.9 286.5L260.4 286.9L261.8 287.3L263.3 287.7L264.7 288.0L266.2 288.4L267.6 288.7L269.1 289.1L270.6 289.4L272.0 289.7L273.5 290.0L275.0 290.4L276.4 290.7L277.9 290.9L279.4 291.2L280.8 291.5L282.3 291.8L283.8 292.0L285.3 292.3L286.8 292.5L288.2 292.8L289.7 293.0L291.2 293.2L292.7 293.5L294.2 293.7L295.7 293.9L297.1 294.1L298.6 294.3L300.1 294.5L301.6 294.7L303.1 294.9L304.6 295.1L306.1 295.3L307.5 295.5L309.0 295.7L310.5 295.8L312.0 296.0L313.5 296.2L315.0 296.4L316.5 296.6L318.0 296.7L319.5 296.9L321.0 297.1L322.4 297.2L323.9 297.4L325.4 297.6L326.9 297.7L328.4 297.9L329.9 298.1L331.4 298.2L332.9 298.4L334.4 298.5L335.9 298.7L337.4 298.9L338.9 299.0L340.3 299.2L341.8 299.3L343.3 299.5L344.8 299.7L346.3 299.8L347.8 300.0L349.3 300.1L350.8 300.3L352.3 300.5L353.8 300.6L355.3 300.8L356.7 300.9L358.2 301.1L359.7 301.3L361.2 301.4L362.7 301.6L364.2 301.7L365.7 301.9L367.2 302.1L368.7 302.2L370.2 302.4L371.7 302.5L373.2 302.7L374.6 302.8L376.1 303.0L377.6 303.1L379.1 303.3L380.6 303.5L382.1 303.6L383.6 303.8L385.1 303.9L386.6 304.1L388.1 304.2L389.6 304.4L391.1 304.5L392.6 304.7L394.0 304.8L395.5 305.0L397.0 305.1L398.5 305.3L400.0 305.4L401.5 305.6L403.0 305.7L404.5 305.9L406.0 306.0L407.5 306.2L409.0 306.3L410.5 306.5L412.0 306.6L413.5 306.8L414.9 306.9L416.4 307.0L417.9 307.2L419.4 307.3L420.9 307.5L422.4 307.6L423.9 307.8L425.4 307.9L426.9 308.1L428.4 308.2L429.9 308.3L431.4 308.5L432.9 308.6L434.4 308.8L435.8 308.9L437.3 309.0L438.8 309.2L440.3 309.3L441.8 309.5L443.3 309.6L444.8 309.8L446.3 309.9L447.8 310.0L449.3 310.2L450.8 310.3L452.3 310.4L453.8 310.6L455.3 310.7L456.8 310.9L458.3 311.0L459.7 311.1L461.2 311.3L462.7 311.4L464.2 311.5L465.7 311.6L467.2 311.8L468.7 311.9L470.2 312.0L471.7 312.2L473.2 312.3L474.7 312.4L476.2 312.6L477.7 312.7L479.2 312.8L480.7 312.9L482.2 313.1L483.7 313.2L485.2 313.3L486.6 313.5L488.1 313.6L489.6 313.7L491.1 313.9L492.6 314.0L494.1 314.2L495.6 314.3L497.1 314.4L498.6 314.6L500.1 314.7L501.6 314.9L503.1 315.0L504.6 315.2L506.1 315.3L507.5 315.5L509.0 315.6L510.5 315.8L512.0 315.9L513.5 316.1L515.0 316.3L516.5 316.4L518.0 316.6L519.5 316.7L521.0 316.9L522.5 317.1L524.0 317.2L525.4 317.4L526.9 317.6L528.4 317.7L529.9 317.9L531.4 318.1L532.9 318.3L534.4 318.4L535.9 318.6L537.4 318.8L538.9 319.0L540.3 319.1L541.8 319.3L543.3 319.5L544.8 319.7L546.3 319.9L547.8 320.0L549.3 320.2L550.8 320.4L552.3 320.6L553.7 320.8L555.2 321.0L556.7 321.1L558.2 321.3L559.7 321.5L561.2 321.7L562.7 321.9L564.2 322.1L565.7 322.2L567.1 322.4L568.6 322.6L570.1 322.8L571.6 323.0L573.1 323.2L574.6 323.4L576.1 323.6L577.6 323.8L579.1 324.0L580.5 324.2L582.0 324.4L583.5 324.6L585.0 324.9L586.5 325.1L588.0 325.3L589.4 325.5L590.9 325.8L592.4 326.0L593.9 326.3L595.3 326.5L596.8 326.8L598.3 327.1L599.8 327.4L601.2 327.7L602.7 328.0L604.2 328.3L605.7 328.6L607.1 328.9L608.6 329.2L610.1 329.6L611.5 329.9L613.0 330.3L614.4 330.6L615.9 331.0L617.3 331.4L618.8 331.8L620.2 332.2L621.6 332.6L623.1 333.0L624.5 333.5L625.9 333.9L627.4 334.4L628.8 334.9L630.2 335.4L631.6 335.9L633.0 336.4L634.5 337.0L635.9 337.5L637.3 338.0L638.7 338.6L640.0 339.1L641.4 339.7L642.8 340.3L644.2 340.9L645.5 341.5L646.9 342.1L648.3 342.7L649.6 343.4L651.0 344.0L652.3 344.7L653.7 345.3L655.0 346.0L656.4 346.7L657.7 347.4L659.0 348.1L660.4 348.9L661.7 349.6L663.0 350.3L664.3 351.1L665.6 351.8L666.9 352.6L668.1 353.3L669.4 354.1L670.7 354.9L672.0 355.7L673.2 356.5L674.5 357.3L675.7 358.2L677.0 359.0L678.2 359.9L679.5 360.7L680.7 361.6L681.9 362.5L683.1 363.3L684.3 364.2L685.6 365.1L686.8 366.0L687.9 367.0L689.1 367.9L690.3 368.8L691.5 369.7L692.6 370.7L693.8 371.6L694.9 372.6L696.1 373.5L697.2 374.5L698.4 375.5L699.5 376.5L700.6 377.5L701.7 378.6L702.8 379.6L703.9 380.6L705.0 381.7L706.0 382.8L707.1 383.8L708.1 384.9L709.1 386.0L710.1 387.1L711.0 388.3L712.0 389.4L712.9 390.6L713.8 391.8L714.7 393.0L715.6 394.2L716.5 395.4L717.4 396.6L718.3 397.9L719.1 399.1L720.0 400.3L720.8 401.6L721.7 402.8L722.5 404.1L723.4 405.3L724.2 406.5L725.1 407.8L725.9 409.0L726.7 410.3L727.5 411.5L728.3 412.8L729.1 414.1L729.9 415.3L730.7 416.6L731.5 417.9L732.3 419.2L733.1 420.5L733.9 421.7L734.7 423.0L735.4 424.3L736.2 425.6L737.0 426.9L737.8 428.2L738.5 429.4L739.3 430.7L740.0 432.0L740.8 433.3L741.6 434.6L742.3 435.9L743.1 437.2L743.8 438.5L744.5 439.8L745.3 441.1L746.0 442.4L746.8 443.7L747.5 445.0L748.3 446.3L749.0 447.6L749.8 448.9L750.5 450.3L751.2 451.6L752.0 452.9L752.7 454.2L753.4 455.5L754.1 456.8L754.8 458.2L755.5 459.5L756.2 460.8L756.8 462.2L757.5 463.5L758.1 464.9L758.8 466.2L759.4 467.6L760.1 468.9L760.7 470.3L761.3 471.7L761.9 473.0L762.5 474.4L763.1 475.8L763.7 477.2L764.3 478.6L764.9 479.9L765.4 481.3L766.0 482.7L766.6 484.1L767.1 485.5L767.6 486.9L768.1 488.3L768.7 489.7L769.2 491.1L769.7 492.5L770.2 494.0L770.7 495.4L771.2 496.8L771.7 498.2L772.2 499.6L772.7 501.0L773.2 502.4L773.7 503.9L774.2 505.3L774.7 506.7L775.3 508.1L775.8 509.5L776.3 510.9L776.8 512.3L777.4 513.7L777.9 515.1L778.4 516.5L778.9 517.9L779.5 519.3L780.0 520.7L780.5 522.1L781.0 523.6L781.4 525.0L781.9 526.4L782.4 527.8L782.8 529.3L783.2 530.7L783.7 532.1L784.1 533.6L784.5 535.0L785.0 536.5L785.4 537.9L785.8 539.3L786.2 540.8L786.6 542.2L787.0 543.7L787.4 545.1L787.9 546.5L788.3 548.0L788.7 549.4L789.1 550.9L789.5 552.3L789.9 553.8L790.3 555.2L790.7 556.7L791.1 558.1L791.5 559.6L791.9 561.0L792.3 562.5L792.6 563.9L793.0 565.3L793.4 566.8L793.8 568.3L794.2 569.7L794.5 571.2L794.9 572.6L795.3 574.1L795.4 574.5" fill="none" stroke="#1010ff" stroke-width="1.55" stroke-dasharray="1.55 4.15" stroke-linejoin="round"/>
<path d="M95.5 188.5L97.0 188.6L98.5 188.8L100.0 188.9L101.5 189.1L103.0 189.3L104.5 189.4L105.9 189.6L107.4 189.8L108.9 190.0L110.4 190.2L111.9 190.4L113.4 190.6L114.9 190.8L116.4 191.0L117.8 191.2L119.3 191.4L120.8 191.6L122.3 191.8L123.8 192.1L125.3 192.3L126.7 192.5L128.2 192.8L129.7 193.0L131.2 193.3L132.7 193.5L134.1 193.8L135.6 194.1L137.1 194.4L138.6 194.6L140.0 194.9L141.5 195.2L143.0 195.6L144.4 195.9L145.9 196.2L147.4 196.6L148.8 196.9L150.2 197.4L151.7 197.8L153.1 198.4L154.4 199.0L155.8 199.6L157.1 200.3L158.4 201.1L159.7 201.8L161.0 202.6L162.2 203.5L163.5 204.3L164.7 205.2L165.8 206.2L167.0 207.1L168.2 208.0L169.3 209.0L170.4 210.0L171.5 211.1L172.6 212.2L173.6 213.3L174.5 214.4L175.5 215.5L176.4 216.7L177.3 217.9L178.2 219.1L179.1 220.4L179.9 221.6L180.8 222.9L181.6 224.1L182.3 225.4L183.1 226.7L183.9 228.0L184.6 229.3L185.3 230.6L186.1 231.9L186.8 233.2L187.5 234.6L188.1 235.9L188.8 237.3L189.5 238.6L190.1 239.9L190.8 241.3L191.5 242.6L192.1 244.0L192.7 245.4L193.4 246.7L194.0 248.1L194.6 249.4L195.3 250.8L195.9 252.2L196.6 253.5L197.2 254.8L197.9 256.2L198.6 257.5L199.3 258.9L200.0 260.2L200.7 261.5L201.4 262.9L202.1 264.2L202.9 265.5L203.6 266.8L204.4 268.0L205.2 269.3L206.0 270.5L206.9 271.8L207.7 273.0L208.6 274.3L209.6 275.5L210.5 276.6L211.5 277.7L212.5 278.8L213.5 279.9L214.6 280.9L215.7 281.9L216.9 282.9L218.1 283.8L219.3 284.8L220.5 285.7L221.7 286.5L223.0 287.4L224.2 288.2L225.5 289.0L226.8 289.7L228.1 290.4L229.5 291.1L230.8 291.7L232.2 292.3L233.6 293.0L234.9 293.6L236.2 294.3L237.6 295.0L238.9 295.6L240.3 296.3L241.6 297.0L243.0 297.6L244.3 298.3L245.7 298.9L247.0 299.6L248.4 300.2L249.8 300.8L251.1 301.5L252.5 302.1L253.8 302.7L255.2 303.3L256.6 304.0L257.9 304.6L259.3 305.2L260.7 305.8L262.0 306.4L263.4 307.1L264.8 307.7L266.2 308.3L267.5 308.9L268.9 309.4L270.3 310.0L271.7 310.5L273.1 311.0L274.5 311.5L275.9 312.0L277.4 312.5L278.8 313.0L280.2 313.5L281.6 314.0L283.1 314.4L284.5 314.9L285.9 315.4L287.3 315.9L288.8 316.3L290.2 316.8L291.6 317.2L293.1 317.7L294.5 318.1L295.9 318.5L297.4 318.9L298.8 319.3L300.3 319.7L301.7 320.0L303.2 320.4L304.6 320.7L306.1 321.1L307.5 321.4L309.0 321.8L310.5 322.1L311.9 322.4L313.4 322.8L314.9 323.1L316.3 323.4L317.8 323.7L319.3 324.0L320.7 324.3L322.2 324.6L323.7 324.9L325.2 325.2L326.6 325.5L328.1 325.8L329.6 326.1L331.1 326.4L332.5 326.7L334.0 326.9L335.5 327.2L337.0 327.5L338.4 327.7L339.9 328.0L341.4 328.2L342.9 328.5L344.4 328.7L345.8 329.0L347.3 329.2L348.8 329.4L350.3 329.7L351.8 329.9L353.2 330.1L354.7 330.3L356.2 330.5L357.7 330.7L359.2 330.9L360.7 331.1L362.2 331.3L363.6 331.5L365.1 331.7L366.6 331.9L368.1 332.1L369.6 332.3L371.1 332.5L372.6 332.7L374.1 332.8L375.6 333.0L377.0 333.2L378.5 333.4L380.0 333.5L381.5 333.7L383.0 333.9L384.5 334.0L386.0 334.2L387.5 334.4L389.0 334.6L390.5 334.7L392.0 334.9L393.4 335.1L394.9 335.2L396.4 335.4L397.9 335.6L399.4 335.8L400.9 335.9L402.4 336.1L403.9 336.3L405.4 336.4L406.9 336.6L408.4 336.8L409.8 337.0L411.3 337.1L412.8 337.3L414.3 337.5L415.8 337.6L417.3 337.8L418.8 338.0L420.3 338.1L421.8 338.3L423.3 338.4L424.8 338.6L426.2 338.8L427.7 338.9L429.2 339.1L430.7 339.3L432.2 339.4L433.7 339.6L435.2 339.7L436.7 339.9L438.2 340.1L439.7 340.2L441.2 340.4L442.6 340.6L444.1 340.7L445.6 340.9L447.1 341.0L448.6 341.2L450.1 341.4L451.6 341.5L453.1 341.7L454.6 341.8L456.1 342.0L457.6 342.1L459.1 342.3L460.5 342.5L462.0 342.6L463.5 342.8L465.0 342.9L466.5 343.1L468.0 343.2L469.5 343.4L471.0 343.6L472.5 343.7L474.0 343.9L475.5 344.0L477.0 344.2L478.4 344.3L479.9 344.5L481.4 344.6L482.9 344.8L484.4 344.9L485.9 345.1L487.4 345.3L488.9 345.4L490.4 345.6L491.9 345.7L493.4 345.9L494.9 346.0L496.4 346.2L497.8 346.3L499.3 346.5L500.8 346.7L502.3 346.8L503.8 347.0L505.3 347.1L506.8 347.3L508.3 347.5L509.8 347.6L511.3 347.8L512.8 347.9L514.3 348.1L515.7 348.3L517.2 348.4L518.7 348.6L520.2 348.7L521.7 348.9L523.2 349.0L524.7 349.2L526.2 349.4L527.7 349.5L529.2 349.7L530.7 349.9L532.1 350.0L533.6 350.2L535.1 350.3L536.6 350.5L538.1 350.7L539.6 350.8L541.1 351.0L542.6 351.2L544.1 351.3L545.6 351.5L547.1 351.7L548.5 351.9L550.0 352.0L551.5 352.2L553.0 352.4L554.5 352.6L556.0 352.7L557.5 352.9L559.0 353.1L560.5 353.3L561.9 353.5L563.4 353.7L564.9 353.8L566.4 354.0L567.9 354.2L569.4 354.4L570.9 354.6L572.4 354.8L573.9 355.0L575.3 355.2L576.8 355.4L578.3 355.6L579.8 355.8L581.3 356.0L582.8 356.2L584.3 356.4L585.7 356.6L587.2 356.8L588.7 357.1L590.2 357.3L591.7 357.5L593.2 357.7L594.6 358.0L596.1 358.2L597.6 358.5L599.1 358.7L600.6 358.9L602.1 359.2L603.5 359.4L605.0 359.7L606.5 360.0L608.0 360.2L609.4 360.5L610.9 360.8L612.4 361.1L613.9 361.4L615.3 361.7L616.8 362.0L618.2 362.4L619.7 362.7L621.1 363.1L622.6 363.5L624.0 363.8L625.5 364.2L626.9 364.7L628.4 365.1L629.8 365.5L631.2 366.0L632.7 366.4L634.1 366.9L635.5 367.4L637.0 367.8L638.4 368.3L639.8 368.8L641.2 369.3L642.6 369.8L644.0 370.3L645.4 370.9L646.8 371.5L648.2 372.0L649.6 372.6L651.0 373.2L652.3 373.8L653.7 374.5L655.0 375.1L656.4 375.7L657.7 376.4L659.1 377.1L660.4 377.7L661.8 378.4L663.1 379.1L664.5 379.8L665.8 380.5L667.1 381.2L668.5 381.9L669.8 382.7L671.1 383.4L672.4 384.2L673.7 384.9L674.9 385.7L676.2 386.5L677.5 387.3L678.7 388.1L680.0 388.9L681.2 389.8L682.4 390.6L683.6 391.5L684.8 392.4L686.0 393.3L687.2 394.3L688.3 395.2L689.5 396.2L690.7 397.1L691.8 398.1L693.0 399.1L694.1 400.1L695.2 401.1L696.4 402.1L697.5 403.1L698.6 404.1L699.7 405.1L700.8 406.1L701.9 407.1L703.0 408.1L704.1 409.1L705.2 410.2L706.3 411.2L707.4 412.2L708.5 413.3L709.6 414.3L710.6 415.4L711.7 416.5L712.7 417.6L713.7 418.7L714.7 419.8L715.7 420.9L716.7 422.0L717.7 423.1L718.6 424.3L719.6 425.4L720.5 426.6L721.4 427.8L722.3 429.0L723.2 430.2L724.1 431.4L725.0 432.6L725.9 433.9L726.8 435.1L727.6 436.3L728.5 437.5L729.3 438.8L730.2 440.0L731.1 441.3L731.9 442.5L732.8 443.7L733.6 444.9L734.5 446.2L735.3 447.4L736.2 448.6L737.0 449.9L737.9 451.1L738.7 452.4L739.6 453.6L740.4 454.9L741.2 456.1L742.0 457.4L742.8 458.7L743.6 459.9L744.4 461.2L745.2 462.5L745.9 463.8L746.7 465.1L747.5 466.4L748.2 467.7L748.9 469.0L749.7 470.3L750.4 471.6L751.1 472.9L751.8 474.2L752.6 475.6L753.3 476.9L754.0 478.2L754.6 479.5L755.3 480.9L756.0 482.2L756.7 483.6L757.3 484.9L758.0 486.2L758.6 487.6L759.3 489.0L759.9 490.3L760.5 491.7L761.1 493.0L761.8 494.4L762.4 495.8L763.0 497.2L763.6 498.5L764.2 499.9L764.8 501.3L765.4 502.7L766.0 504.0L766.6 505.4L767.2 506.8L767.8 508.2L768.4 509.5L769.0 510.9L769.6 512.3L770.2 513.7L770.8 515.0L771.4 516.4L772.0 517.8L772.6 519.2L773.1 520.6L773.7 522.0L774.3 523.4L774.8 524.7L775.4 526.1L775.9 527.5L776.4 529.0L776.9 530.4L777.4 531.8L777.9 533.2L778.4 534.6L778.8 536.0L779.3 537.5L779.8 538.9L780.2 540.3L780.7 541.8L781.1 543.2L781.5 544.6L782.0 546.1L782.4 547.5L782.8 549.0L783.2 550.4L783.6 551.8L784.0 553.3L784.4 554.7L784.8 556.2L785.1 557.6L785.5 559.1L785.9 560.5L786.2 562.0L786.6 563.5L787.0 564.9L787.3 566.4L787.6 567.8L788.0 569.3L788.3 570.8L788.6 572.2L788.9 573.7L789.1 574.5" fill="none" stroke="#ff22ff" stroke-width="1.15" stroke-dasharray="12 11" stroke-linejoin="round"/>
<path d="M95.5 186.5L97.0 186.7L98.5 186.9L100.0 187.2L101.4 187.4L102.9 187.6L104.4 187.8L105.9 188.1L107.4 188.3L108.8 188.6L110.3 188.8L111.8 189.1L113.3 189.3L114.8 189.6L116.2 189.8L117.7 190.1L119.2 190.4L120.7 190.6L122.1 190.9L123.6 191.2L125.1 191.4L126.6 191.7L128.1 192.0L129.5 192.2L131.0 192.5L132.5 192.8L134.0 193.1L135.4 193.4L136.9 193.7L138.4 194.0L139.8 194.4L141.3 194.7L142.7 195.0L144.2 195.4L145.6 195.8L147.1 196.1L148.6 196.5L150.1 196.9L151.6 197.4L153.0 197.9L154.3 198.4L155.5 199.1L156.7 199.9L157.7 200.9L158.8 202.1L159.8 203.2L160.8 204.5L161.8 205.6L162.8 206.8L163.8 207.9L164.9 209.0L165.9 210.1L166.9 211.2L167.9 212.3L168.8 213.5L169.7 214.7L170.5 215.9L171.3 217.2L172.0 218.5L172.8 219.8L173.5 221.1L174.2 222.5L174.9 223.8L175.5 225.2L176.2 226.5L176.9 227.8L177.6 229.2L178.3 230.5L179.0 231.8L179.6 233.2L180.3 234.5L181.0 235.9L181.6 237.2L182.3 238.6L183.0 239.9L183.6 241.3L184.3 242.6L185.0 243.9L185.6 245.3L186.3 246.6L187.0 248.0L187.7 249.3L188.3 250.6L189.0 252.0L189.7 253.3L190.4 254.6L191.0 256.0L191.7 257.3L192.4 258.7L193.0 260.0L193.7 261.4L194.3 262.7L195.0 264.1L195.6 265.5L196.3 266.8L196.9 268.2L197.6 269.5L198.3 270.9L199.0 272.2L199.7 273.5L200.4 274.8L201.2 276.0L202.0 277.3L202.9 278.6L203.7 279.8L204.6 281.0L205.4 282.3L206.3 283.5L207.2 284.7L208.1 285.9L209.0 287.1L209.9 288.3L210.8 289.5L211.8 290.6L212.7 291.8L213.7 293.0L214.6 294.1L215.6 295.3L216.6 296.4L217.6 297.5L218.6 298.6L219.7 299.7L220.7 300.7L221.8 301.8L222.9 302.8L224.0 303.8L225.2 304.7L226.3 305.7L227.5 306.7L228.6 307.7L229.7 308.7L230.9 309.7L232.0 310.7L233.0 311.7L234.1 312.8L235.2 313.8L236.2 314.9L237.3 316.0L238.3 317.1L239.4 318.1L240.4 319.2L241.4 320.3L242.5 321.4L243.6 322.4L244.7 323.4L245.7 324.5L246.8 325.5L247.9 326.5L249.0 327.5L250.2 328.5L251.3 329.5L252.4 330.5L253.5 331.5L254.7 332.5L255.8 333.5L256.9 334.5L258.1 335.4L259.2 336.4L260.4 337.3L261.6 338.3L262.8 339.2L263.9 340.1L265.1 341.1L266.3 342.0L267.5 342.9L268.6 343.8L269.8 344.8L271.0 345.7L272.1 346.7L273.3 347.6L274.4 348.6L275.6 349.6L276.8 350.5L277.9 351.5L279.1 352.4L280.3 353.3L281.5 354.2L282.7 355.1L283.9 355.9L285.2 356.8L286.4 357.6L287.7 358.4L288.9 359.2L290.2 360.0L291.5 360.8L292.8 361.6L294.1 362.3L295.4 363.1L296.7 363.9L298.0 364.6L299.3 365.4L300.6 366.1L301.9 366.9L303.2 367.7L304.5 368.4L305.8 369.1L307.1 369.8L308.4 370.5L309.8 371.1L311.2 371.7L312.5 372.3L313.9 372.9L315.3 373.5L316.7 374.1L318.0 374.7L319.4 375.2L320.8 375.8L322.2 376.3L323.6 376.9L325.0 377.4L326.5 377.9L327.9 378.5L329.3 379.0L330.7 379.5L332.1 380.0L333.5 380.5L335.0 381.0L336.4 381.4L337.8 381.9L339.2 382.4L340.6 382.8L342.1 383.3L343.5 383.7L344.9 384.2L346.4 384.6L347.8 385.1L349.2 385.5L350.7 385.9L352.1 386.3L353.6 386.7L355.0 387.1L356.5 387.5L357.9 387.9L359.3 388.3L360.8 388.7L362.3 389.1L363.7 389.5L365.2 389.9L366.6 390.3L368.1 390.6L369.5 391.0L371.0 391.4L372.4 391.8L373.9 392.1L375.3 392.5L376.8 392.9L378.2 393.2L379.7 393.6L381.1 394.0L382.6 394.3L384.1 394.7L385.5 395.1L387.0 395.4L388.4 395.8L389.9 396.1L391.3 396.5L392.8 396.8L394.3 397.2L395.7 397.5L397.2 397.9L398.6 398.2L400.1 398.6L401.6 398.9L403.0 399.2L404.5 399.6L406.0 399.9L407.4 400.2L408.9 400.5L410.4 400.9L411.8 401.2L413.3 401.5L414.7 401.8L416.2 402.1L417.7 402.4L419.2 402.7L420.6 403.0L422.1 403.3L423.6 403.6L425.0 403.9L426.5 404.2L428.0 404.5L429.5 404.8L430.9 405.0L432.4 405.3L433.9 405.6L435.3 405.9L436.8 406.2L438.3 406.4L439.8 406.7L441.2 407.0L442.7 407.3L444.2 407.5L445.7 407.8L447.1 408.1L448.6 408.4L450.1 408.6L451.6 408.9L453.0 409.2L454.5 409.5L456.0 409.7L457.5 410.0L458.9 410.3L460.4 410.6L461.9 410.8L463.4 411.1L464.8 411.4L466.3 411.6L467.8 411.9L469.3 412.2L470.7 412.5L472.2 412.7L473.7 413.0L475.2 413.3L476.7 413.5L478.1 413.8L479.6 414.1L481.1 414.3L482.6 414.6L484.0 414.8L485.5 415.1L487.0 415.3L488.5 415.6L489.9 415.9L491.4 416.1L492.9 416.4L494.4 416.6L495.9 416.8L497.3 417.1L498.8 417.3L500.3 417.6L501.8 417.8L503.3 418.1L504.7 418.3L506.2 418.6L507.7 418.8L509.2 419.0L510.7 419.3L512.1 419.5L513.6 419.8L515.1 420.0L516.6 420.2L518.1 420.5L519.5 420.7L521.0 421.0L522.5 421.2L524.0 421.5L525.5 421.7L526.9 422.0L528.4 422.2L529.9 422.4L531.4 422.7L532.9 422.9L534.3 423.2L535.8 423.4L537.3 423.7L538.8 423.9L540.3 424.2L541.7 424.4L543.2 424.6L544.7 424.9L546.2 425.1L547.7 425.4L549.1 425.6L550.6 425.9L552.1 426.1L553.6 426.4L555.1 426.6L556.5 426.9L558.0 427.1L559.5 427.4L561.0 427.6L562.5 427.8L563.9 428.1L565.4 428.3L566.9 428.6L568.4 428.8L569.9 429.0L571.4 429.3L572.8 429.5L574.3 429.7L575.8 430.0L577.3 430.2L578.8 430.4L580.3 430.7L581.7 430.9L583.2 431.2L584.7 431.4L586.2 431.7L587.6 431.9L589.1 432.2L590.6 432.4L592.1 432.7L593.5 433.0L595.0 433.3L596.5 433.6L598.0 433.9L599.4 434.2L600.9 434.5L602.3 434.8L603.8 435.2L605.3 435.5L606.7 435.9L608.2 436.2L609.6 436.6L611.1 437.0L612.5 437.3L614.0 437.7L615.5 438.0L616.9 438.4L618.4 438.7L619.9 439.0L621.3 439.4L622.8 439.7L624.3 440.0L625.7 440.3L627.2 440.6L628.7 441.0L630.1 441.3L631.6 441.6L633.0 442.0L634.5 442.4L635.9 442.8L637.4 443.2L638.8 443.6L640.3 444.0L641.7 444.4L643.1 444.8L644.6 445.3L646.0 445.7L647.4 446.2L648.9 446.6L650.3 447.1L651.7 447.6L653.1 448.1L654.6 448.6L656.0 449.1L657.4 449.6L658.8 450.2L660.2 450.7L661.5 451.3L662.9 451.8L664.3 452.4L665.7 453.0L667.1 453.6L668.5 454.2L669.8 454.9L671.2 455.5L672.6 456.2L673.9 456.8L675.2 457.5L676.6 458.2L677.9 459.0L679.2 459.7L680.4 460.4L681.7 461.2L683.0 462.0L684.2 462.8L685.4 463.7L686.7 464.5L687.9 465.4L689.1 466.3L690.3 467.2L691.5 468.2L692.7 469.1L693.9 470.0L695.0 471.0L696.2 471.9L697.4 472.9L698.5 473.8L699.7 474.8L700.9 475.7L702.0 476.7L703.2 477.6L704.3 478.6L705.4 479.6L706.6 480.6L707.7 481.6L708.8 482.6L709.9 483.6L711.1 484.6L712.2 485.6L713.3 486.6L714.4 487.6L715.4 488.7L716.5 489.7L717.6 490.8L718.7 491.8L719.8 492.8L720.8 493.9L721.9 494.9L723.0 496.0L724.0 497.1L725.1 498.1L726.2 499.2L727.2 500.3L728.3 501.4L729.3 502.5L730.3 503.6L731.3 504.7L732.3 505.8L733.2 507.0L734.2 508.1L735.1 509.3L736.0 510.5L736.9 511.7L737.8 512.9L738.7 514.1L739.5 515.3L740.3 516.6L741.2 517.8L742.0 519.1L742.8 520.4L743.6 521.6L744.4 522.9L745.2 524.2L746.0 525.5L746.7 526.8L747.5 528.1L748.3 529.3L749.0 530.6L749.8 531.9L750.6 533.2L751.3 534.5L752.0 535.8L752.8 537.2L753.5 538.5L754.2 539.8L754.9 541.1L755.6 542.5L756.3 543.8L756.9 545.1L757.6 546.5L758.2 547.8L758.8 549.2L759.5 550.6L760.1 551.9L760.7 553.3L761.3 554.7L761.9 556.1L762.5 557.4L763.1 558.8L763.7 560.2L764.2 561.6L764.8 563.0L765.4 564.4L766.0 565.7L766.5 567.1L767.1 568.5L767.6 569.9L768.2 571.3L768.7 572.7L769.3 574.1L769.4 574.5" fill="none" stroke="#9a28f5" stroke-width="1.1" stroke-dasharray="11.5 4.8 1.6 4.8" stroke-linejoin="round"/>
<path d="M95.5 186.0L97.0 186.3L98.5 186.5L99.9 186.8L101.4 187.0L102.9 187.3L104.4 187.6L105.8 187.8L107.3 188.1L108.8 188.4L110.3 188.6L111.7 188.9L113.2 189.2L114.7 189.5L116.2 189.8L117.6 190.0L119.1 190.3L120.6 190.6L122.1 190.9L123.5 191.2L125.0 191.4L126.5 191.7L128.0 192.0L129.4 192.3L130.9 192.6L132.4 192.9L133.9 193.2L135.3 193.5L136.8 193.9L138.2 194.3L139.7 194.7L141.1 195.2L142.5 195.7L143.8 196.4L145.0 197.3L146.2 198.2L147.4 199.1L148.6 200.1L149.7 201.0L150.9 202.0L152.0 203.0L153.1 204.1L154.1 205.1L155.2 206.2L156.3 207.2L157.3 208.3L158.4 209.4L159.3 210.5L160.3 211.7L161.2 212.8L162.1 214.1L162.9 215.3L163.8 216.5L164.6 217.8L165.4 219.1L166.2 220.4L166.9 221.7L167.7 223.0L168.4 224.3L169.1 225.6L169.8 226.9L170.5 228.3L171.1 229.6L171.8 231.0L172.4 232.3L173.1 233.7L173.7 235.0L174.3 236.4L175.0 237.8L175.6 239.1L176.2 240.5L176.8 241.9L177.4 243.2L178.0 244.6L178.6 246.0L179.2 247.4L179.8 248.8L180.4 250.1L180.9 251.5L181.5 252.9L182.1 254.3L182.7 255.7L183.2 257.1L183.8 258.5L184.3 259.9L184.9 261.3L185.4 262.7L186.0 264.1L186.5 265.4L187.1 266.8L187.6 268.2L188.2 269.6L188.8 271.0L189.3 272.4L189.9 273.8L190.5 275.2L191.1 276.5L191.7 277.9L192.3 279.3L192.9 280.7L193.5 282.1L194.1 283.4L194.7 284.8L195.4 286.2L196.0 287.5L196.7 288.9L197.3 290.2L198.0 291.5L198.7 292.8L199.5 294.1L200.2 295.4L201.0 296.7L201.7 298.0L202.5 299.3L203.3 300.6L204.2 301.8L205.0 303.1L205.8 304.4L206.6 305.6L207.4 306.9L208.3 308.1L209.1 309.4L209.9 310.6L210.8 311.9L211.6 313.1L212.5 314.3L213.3 315.6L214.2 316.8L215.1 318.0L216.0 319.2L216.9 320.4L217.8 321.6L218.7 322.8L219.7 323.9L220.6 325.1L221.6 326.2L222.6 327.3L223.6 328.4L224.6 329.5L225.7 330.6L226.7 331.8L227.7 332.9L228.7 334.0L229.6 335.1L230.6 336.3L231.6 337.4L232.5 338.6L233.5 339.7L234.4 340.9L235.4 342.1L236.4 343.2L237.3 344.3L238.3 345.5L239.3 346.6L240.3 347.7L241.3 348.9L242.3 350.0L243.2 351.1L244.2 352.3L245.2 353.4L246.2 354.5L247.2 355.6L248.2 356.7L249.3 357.8L250.3 358.9L251.3 360.0L252.4 361.1L253.4 362.1L254.5 363.2L255.6 364.2L256.7 365.3L257.8 366.3L258.9 367.3L260.0 368.3L261.1 369.4L262.2 370.4L263.3 371.3L264.4 372.3L265.6 373.3L266.7 374.3L267.9 375.2L269.0 376.2L270.2 377.1L271.4 378.1L272.5 379.0L273.7 379.9L274.9 380.9L276.1 381.8L277.3 382.7L278.5 383.6L279.7 384.5L280.9 385.4L282.1 386.3L283.3 387.2L284.5 388.1L285.7 389.0L286.9 389.8L288.2 390.7L289.4 391.5L290.7 392.3L292.0 393.1L293.3 393.9L294.6 394.6L295.9 395.3L297.2 396.1L298.5 396.8L299.8 397.5L301.1 398.2L302.4 399.0L303.7 399.7L305.1 400.4L306.4 401.2L307.7 401.9L309.0 402.7L310.3 403.4L311.6 404.1L312.9 404.9L314.2 405.6L315.5 406.3L316.9 407.1L318.2 407.8L319.5 408.5L320.8 409.2L322.2 409.8L323.5 410.5L324.8 411.2L326.2 411.8L327.5 412.5L328.9 413.1L330.3 413.7L331.6 414.3L333.0 414.9L334.4 415.5L335.7 416.1L337.1 416.7L338.5 417.2L339.9 417.8L341.3 418.4L342.7 418.9L344.1 419.5L345.5 420.0L346.9 420.6L348.3 421.1L349.7 421.7L351.1 422.2L352.5 422.7L353.9 423.3L355.3 423.8L356.7 424.3L358.1 424.9L359.5 425.4L360.9 425.9L362.3 426.5L363.7 427.0L365.1 427.5L366.5 428.1L367.9 428.6L369.3 429.1L370.7 429.7L372.1 430.2L373.5 430.7L374.9 431.3L376.3 431.8L377.7 432.3L379.2 432.9L380.6 433.4L382.0 433.9L383.4 434.5L384.8 435.0L386.2 435.5L387.6 436.0L389.0 436.5L390.4 437.0L391.8 437.5L393.2 438.0L394.7 438.5L396.1 439.0L397.5 439.5L398.9 440.0L400.3 440.5L401.7 441.0L403.2 441.4L404.6 441.9L406.0 442.3L407.5 442.8L408.9 443.2L410.3 443.7L411.7 444.1L413.2 444.6L414.6 445.0L416.1 445.4L417.5 445.8L418.9 446.3L420.4 446.7L421.8 447.1L423.3 447.5L424.7 447.9L426.1 448.4L427.6 448.8L429.0 449.2L430.5 449.6L431.9 450.0L433.3 450.4L434.8 450.9L436.2 451.3L437.7 451.7L439.1 452.2L440.5 452.6L442.0 453.0L443.4 453.4L444.9 453.9L446.3 454.3L447.7 454.7L449.2 455.2L450.6 455.6L452.0 456.0L453.5 456.4L454.9 456.9L456.4 457.3L457.8 457.7L459.2 458.1L460.7 458.6L462.1 459.0L463.5 459.4L465.0 459.9L466.4 460.3L467.9 460.7L469.3 461.2L470.7 461.6L472.2 462.0L473.6 462.5L475.0 462.9L476.5 463.3L477.9 463.8L479.3 464.2L480.8 464.7L482.2 465.1L483.6 465.6L485.1 466.0L486.5 466.5L487.9 466.9L489.3 467.4L490.8 467.9L492.2 468.3L493.6 468.8L495.0 469.3L496.5 469.8L497.9 470.3L499.3 470.8L500.7 471.3L502.1 471.8L503.5 472.3L505.0 472.7L506.4 473.2L507.8 473.7L509.2 474.2L510.6 474.7L512.0 475.2L513.5 475.7L514.9 476.2L516.3 476.6L517.7 477.1L519.2 477.6L520.6 478.0L522.0 478.5L523.4 478.9L524.9 479.4L526.3 479.8L527.7 480.2L529.2 480.7L530.6 481.1L532.1 481.5L533.5 481.9L534.9 482.3L536.4 482.7L537.8 483.1L539.3 483.6L540.7 484.0L542.2 484.4L543.6 484.8L545.1 485.2L546.5 485.6L547.9 486.0L549.4 486.4L550.8 486.8L552.3 487.2L553.7 487.6L555.2 488.0L556.6 488.4L558.1 488.8L559.5 489.2L560.9 489.6L562.4 490.0L563.8 490.4L565.3 490.8L566.7 491.2L568.2 491.6L569.6 492.0L571.1 492.4L572.5 492.8L574.0 493.2L575.4 493.6L576.9 494.0L578.3 494.4L579.7 494.8L581.2 495.3L582.6 495.7L584.1 496.1L585.5 496.5L586.9 497.0L588.4 497.4L589.8 497.8L591.2 498.3L592.7 498.8L594.1 499.2L595.5 499.7L596.9 500.2L598.3 500.7L599.7 501.2L601.2 501.7L602.6 502.2L604.0 502.7L605.4 503.2L606.8 503.7L608.2 504.2L609.6 504.8L611.0 505.3L612.4 505.8L613.8 506.3L615.3 506.8L616.7 507.4L618.1 507.9L619.5 508.4L620.9 509.0L622.3 509.5L623.7 510.0L625.1 510.6L626.5 511.1L627.9 511.6L629.3 512.2L630.7 512.7L632.1 513.2L633.5 513.8L634.9 514.3L636.3 514.8L637.7 515.4L639.1 515.9L640.5 516.5L641.9 517.0L643.3 517.5L644.7 518.1L646.1 518.6L647.5 519.1L648.9 519.7L650.3 520.2L651.7 520.8L653.1 521.3L654.5 521.9L655.9 522.5L657.2 523.0L658.6 523.6L660.0 524.2L661.4 524.9L662.7 525.5L664.1 526.2L665.4 526.8L666.8 527.5L668.1 528.1L669.4 528.8L670.8 529.5L672.1 530.2L673.4 530.9L674.7 531.6L676.0 532.4L677.4 533.1L678.7 533.8L680.0 534.5L681.3 535.3L682.6 536.0L683.9 536.8L685.2 537.6L686.4 538.3L687.7 539.1L689.0 539.9L690.3 540.7L691.5 541.6L692.8 542.4L694.0 543.2L695.2 544.1L696.5 545.0L697.7 545.8L698.9 546.7L700.1 547.6L701.3 548.5L702.5 549.5L703.7 550.4L704.8 551.3L706.0 552.2L707.2 553.2L708.3 554.1L709.5 555.1L710.6 556.1L711.7 557.1L712.8 558.1L713.9 559.1L715.0 560.2L716.1 561.2L717.2 562.3L718.2 563.3L719.2 564.4L720.2 565.5L721.2 566.7L722.2 567.8L723.2 569.0L724.1 570.1L725.1 571.3L726.0 572.5L726.8 573.7L727.4 574.5" fill="none" stroke="#ffc428" stroke-width="1.05" stroke-dasharray="4.4 4.3 1.4 4.3" stroke-linejoin="round"/>
<path d="M95.5 183.5L97.0 183.7L98.5 183.8L100.0 184.1L101.5 184.3L102.9 184.6L104.4 184.8L105.9 185.1L107.3 185.5L108.8 185.8L110.3 186.1L111.7 186.5L113.2 187.0L114.6 187.5L116.0 188.0L117.3 188.6L118.7 189.3L119.9 190.1L121.2 190.9L122.4 191.8L123.6 192.7L124.8 193.6L125.9 194.6L127.1 195.6L128.2 196.6L129.3 197.6L130.4 198.7L131.4 199.8L132.4 200.9L133.3 202.1L134.2 203.3L135.1 204.5L135.9 205.8L136.7 207.0L137.5 208.3L138.3 209.6L139.0 210.9L139.8 212.2L140.5 213.5L141.3 214.8L142.0 216.1L142.7 217.5L143.4 218.8L144.0 220.1L144.7 221.5L145.3 222.8L145.9 224.2L146.5 225.6L147.1 227.0L147.7 228.4L148.2 229.8L148.8 231.1L149.3 232.6L149.9 234.0L150.4 235.4L150.9 236.8L151.4 238.2L151.9 239.6L152.3 241.0L152.8 242.4L153.3 243.9L153.7 245.3L154.2 246.7L154.6 248.2L155.1 249.6L155.5 251.0L155.9 252.5L156.3 253.9L156.8 255.4L157.2 256.8L157.6 258.3L158.0 259.7L158.4 261.2L158.7 262.6L159.1 264.1L159.5 265.5L159.8 267.0L160.2 268.4L160.5 269.9L160.9 271.3L161.2 272.8L161.5 274.3L161.8 275.7L162.1 277.2L162.4 278.7L162.7 280.2L163.0 281.6L163.3 283.1L163.6 284.6L163.9 286.0L164.1 287.5L164.4 289.0L164.7 290.5L165.0 291.9L165.3 293.4L165.6 294.9L166.0 296.3L166.3 297.8L166.6 299.3L167.0 300.7L167.4 302.2L167.8 303.6L168.1 305.1L168.6 306.5L169.0 307.9L169.4 309.4L169.9 310.8L170.4 312.2L170.9 313.6L171.4 315.0L172.0 316.4L172.6 317.8L173.2 319.2L173.8 320.6L174.4 321.9L175.1 323.3L175.7 324.6L176.4 326.0L177.1 327.3L177.7 328.6L178.4 330.0L179.1 331.3L179.7 332.7L180.4 334.0L181.1 335.3L181.8 336.7L182.5 338.0L183.2 339.3L183.9 340.7L184.6 342.0L185.3 343.3L186.0 344.7L186.7 346.0L187.4 347.3L188.1 348.6L188.8 349.9L189.6 351.2L190.3 352.5L191.1 353.8L191.9 355.1L192.7 356.3L193.5 357.6L194.4 358.9L195.2 360.1L196.1 361.3L196.9 362.6L197.8 363.8L198.7 365.0L199.6 366.2L200.5 367.3L201.5 368.5L202.4 369.7L203.4 370.8L204.4 371.9L205.4 373.1L206.4 374.2L207.4 375.3L208.4 376.4L209.4 377.6L210.4 378.7L211.4 379.8L212.4 380.9L213.5 381.9L214.5 383.0L215.6 384.0L216.7 385.0L217.9 386.0L219.0 387.0L220.2 388.0L221.3 388.9L222.5 389.8L223.7 390.8L224.9 391.7L226.0 392.6L227.2 393.5L228.4 394.4L229.6 395.3L230.9 396.2L232.1 397.1L233.3 397.9L234.6 398.7L235.8 399.5L237.1 400.3L238.4 401.1L239.7 401.9L240.9 402.7L242.2 403.5L243.5 404.2L244.8 405.0L246.1 405.8L247.4 406.5L248.7 407.2L250.0 407.9L251.4 408.6L252.7 409.3L254.0 410.0L255.4 410.7L256.7 411.3L258.1 412.0L259.4 412.6L260.8 413.3L262.2 413.9L263.5 414.5L264.9 415.1L266.3 415.7L267.7 416.3L269.1 416.8L270.4 417.4L271.8 418.0L273.2 418.5L274.6 419.1L276.0 419.6L277.4 420.2L278.8 420.8L280.2 421.3L281.6 421.9L283.0 422.4L284.4 423.0L285.8 423.5L287.2 424.0L288.6 424.6L290.0 425.1L291.4 425.6L292.8 426.1L294.2 426.6L295.6 427.2L297.0 427.7L298.4 428.2L299.8 428.7L301.3 429.2L302.7 429.7L304.1 430.2L305.5 430.7L306.9 431.2L308.3 431.7L309.7 432.2L311.2 432.7L312.6 433.2L314.0 433.6L315.4 434.1L316.8 434.6L318.3 435.1L319.7 435.6L321.1 436.1L322.5 436.6L323.9 437.1L325.3 437.6L326.8 438.1L328.2 438.6L329.6 439.1L331.0 439.5L332.4 440.0L333.9 440.5L335.3 441.0L336.7 441.5L338.1 442.0L339.5 442.4L341.0 442.9L342.4 443.4L343.8 443.9L345.2 444.3L346.6 444.8L348.1 445.3L349.5 445.8L350.9 446.2L352.3 446.7L353.8 447.2L355.2 447.6L356.6 448.1L358.0 448.6L359.5 449.1L360.9 449.5L362.3 450.0L363.7 450.5L365.2 450.9L366.6 451.4L368.0 451.9L369.4 452.3L370.9 452.8L372.3 453.3L373.7 453.7L375.1 454.2L376.6 454.7L378.0 455.1L379.4 455.6L380.8 456.1L382.3 456.5L383.7 457.0L385.1 457.5L386.6 457.9L388.0 458.4L389.4 458.8L390.8 459.3L392.3 459.7L393.7 460.2L395.1 460.6L396.6 461.1L398.0 461.5L399.4 462.0L400.9 462.4L402.3 462.8L403.7 463.3L405.2 463.7L406.6 464.1L408.1 464.5L409.5 464.9L410.9 465.4L412.4 465.8L413.8 466.2L415.3 466.6L416.7 467.0L418.2 467.4L419.6 467.8L421.1 468.2L422.5 468.6L423.9 469.0L425.4 469.4L426.8 469.8L428.3 470.2L429.7 470.6L431.2 471.0L432.6 471.4L434.1 471.8L435.5 472.2L437.0 472.6L438.4 473.0L439.9 473.4L441.3 473.8L442.7 474.2L444.2 474.6L445.6 475.0L447.1 475.4L448.5 475.8L450.0 476.2L451.4 476.6L452.9 477.0L454.3 477.4L455.7 477.8L457.2 478.2L458.6 478.7L460.1 479.1L461.5 479.5L463.0 479.9L464.4 480.3L465.8 480.7L467.3 481.1L468.7 481.5L470.2 481.9L471.6 482.3L473.1 482.7L474.5 483.1L476.0 483.5L477.4 483.9L478.8 484.3L480.3 484.7L481.7 485.1L483.2 485.5L484.6 485.9L486.1 486.3L487.5 486.7L489.0 487.1L490.4 487.5L491.9 487.9L493.3 488.2L494.8 488.6L496.2 489.0L497.7 489.4L499.1 489.8L500.6 490.2L502.0 490.5L503.5 490.9L504.9 491.3L506.4 491.7L507.8 492.1L509.3 492.5L510.7 492.8L512.2 493.2L513.6 493.6L515.1 494.0L516.5 494.4L518.0 494.8L519.4 495.2L520.9 495.6L522.3 496.0L523.8 496.4L525.2 496.8L526.6 497.2L528.1 497.6L529.5 498.0L531.0 498.4L532.4 498.8L533.9 499.2L535.3 499.6L536.7 500.0L538.2 500.5L539.6 500.9L541.1 501.3L542.5 501.7L544.0 502.1L545.4 502.5L546.8 502.9L548.3 503.4L549.7 503.8L551.2 504.2L552.6 504.6L554.0 505.0L555.5 505.4L556.9 505.9L558.4 506.3L559.8 506.7L561.2 507.1L562.7 507.5L564.1 508.0L565.6 508.4L567.0 508.8L568.5 509.2L569.9 509.6L571.3 510.0L572.8 510.4L574.2 510.8L575.7 511.3L577.1 511.7L578.5 512.1L580.0 512.5L581.4 513.0L582.9 513.4L584.3 513.8L585.7 514.3L587.2 514.7L588.6 515.2L590.0 515.6L591.4 516.1L592.9 516.5L594.3 517.0L595.7 517.5L597.1 518.0L598.6 518.5L600.0 518.9L601.4 519.4L602.8 519.9L604.2 520.4L605.6 520.9L607.1 521.4L608.5 521.9L609.9 522.4L611.3 522.9L612.7 523.4L614.1 523.9L615.5 524.5L616.9 525.0L618.3 525.5L619.8 526.0L621.2 526.5L622.6 527.0L624.0 527.6L625.4 528.1L626.8 528.6L628.2 529.1L629.6 529.6L631.0 530.2L632.4 530.7L633.8 531.2L635.2 531.8L636.6 532.3L638.0 532.8L639.4 533.4L640.8 533.9L642.2 534.4L643.6 535.0L645.0 535.5L646.4 536.0L647.8 536.6L649.2 537.1L650.6 537.6L652.0 538.2L653.4 538.7L654.8 539.3L656.2 539.8L657.6 540.4L659.0 541.0L660.4 541.5L661.8 542.1L663.2 542.7L664.5 543.3L665.9 543.9L667.3 544.5L668.6 545.1L670.0 545.7L671.4 546.4L672.7 547.0L674.1 547.7L675.4 548.3L676.8 549.0L678.1 549.7L679.4 550.4L680.8 551.1L682.1 551.8L683.4 552.5L684.7 553.3L686.0 554.0L687.3 554.8L688.6 555.5L689.8 556.3L691.1 557.1L692.4 557.9L693.7 558.7L694.9 559.5L696.2 560.4L697.4 561.2L698.6 562.1L699.9 562.9L701.1 563.8L702.3 564.7L703.5 565.5L704.7 566.4L705.9 567.3L707.1 568.3L708.3 569.2L709.5 570.1L710.6 571.1L711.8 572.1L712.9 573.0L714.0 574.0L714.5 574.5" fill="none" stroke="#33ebd0" stroke-width="1.15" stroke-linejoin="round"/></g>
<g clip-path="url(#c1)"><g fill="none" stroke="#1c1c1c" stroke-width="0.95">
<rect x="334.9" y="668.3" width="76.6" height="48.4"/>
<rect x="336.4" y="709.7" width="103.3" height="29.0"/>
<rect x="417.5" y="635.0" width="20.2" height="20.7"/>
<rect x="473.2" y="640.2" width="76.3" height="4.3"/>
<rect x="418.5" y="731.7" width="75.8" height="23.8"/>
<rect x="464.5" y="734.2" width="76.0" height="65.5"/>
<rect x="478.5" y="753.0" width="45.1" height="10.7"/>
<rect x="525.8" y="706.8" width="14.7" height="48.6"/>
<rect x="512.6" y="734.7" width="76.3" height="48.9"/>
<rect x="566.5" y="718.3" width="76.8" height="48.7"/>
<rect x="636.4" y="751.3" width="76.1" height="6.6"/>
<rect x="653.9" y="724.7" width="76.1" height="48.4"/>
<rect x="628.5" y="773.0" width="75.8" height="48.8"/>
<rect x="653.9" y="792.7" width="76.1" height="44.7"/>
<rect x="701.8" y="770.9" width="76.6" height="48.6"/>
<rect x="697.3" y="788.3" width="76.3" height="48.6"/>
<rect x="668.2" y="811.1" width="33.6" height="1.6"/>
<path d="M347.4 629.1V663.3"/>
<path d="M286.5 649.9V662.1"/>
</g><path d="M95.5 611.5L97.0 611.5L98.5 611.6L100.0 611.6L101.5 611.7L103.0 611.7L104.5 611.8L106.0 611.8L107.5 611.9L109.0 612.0L110.5 612.0L112.0 612.1L113.5 612.2L115.0 612.2L116.5 612.3L118.0 612.4L119.5 612.5L121.0 612.6L122.5 612.6L124.0 612.7L125.5 612.8L127.0 612.9L128.5 613.0L130.0 613.2L131.5 613.3L132.9 613.4L134.4 613.5L135.9 613.7L137.4 613.8L138.9 613.9L140.4 614.1L141.9 614.2L143.4 614.3L144.9 614.5L146.4 614.6L147.9 614.8L149.4 615.0L150.9 615.1L152.4 615.3L153.8 615.5L155.3 615.7L156.8 615.8L158.3 616.0L159.8 616.2L161.3 616.4L162.8 616.6L164.3 616.8L165.7 617.1L167.2 617.3L168.7 617.5L170.2 617.7L171.7 618.0L173.1 618.2L174.6 618.5L176.1 618.8L177.6 619.0L179.0 619.3L180.5 619.6L182.0 619.9L183.5 620.2L184.9 620.5L186.4 620.8L187.9 621.1L189.3 621.4L190.8 621.7L192.3 622.0L193.8 622.3L195.2 622.5L196.7 622.8L198.2 623.0L199.7 623.3L201.2 623.5L202.6 623.8L204.1 624.0L205.6 624.2L207.1 624.5L208.6 624.7L210.0 624.9L211.5 625.2L213.0 625.4L214.5 625.6L216.0 625.9L217.5 626.1L218.9 626.3L220.4 626.6L221.9 626.8L223.4 627.1L224.9 627.3L226.3 627.5L227.8 627.8L229.3 628.0L230.8 628.3L232.3 628.5L233.7 628.8L235.2 629.0L236.7 629.3L238.2 629.5L239.6 629.8L241.1 630.0L242.6 630.3L244.1 630.5L245.6 630.8L247.0 631.0L248.5 631.3L250.0 631.5L251.5 631.8L253.0 632.1L254.4 632.3L255.9 632.6L257.4 632.8L258.9 633.1L260.4 633.3L261.8 633.6L263.3 633.8L264.8 634.1L266.3 634.3L267.7 634.5L269.2 634.8L270.7 635.0L272.2 635.2L273.7 635.5L275.2 635.7L276.6 635.9L278.1 636.1L279.6 636.4L281.1 636.6L282.6 636.8L284.1 637.0L285.5 637.2L287.0 637.5L288.5 637.7L290.0 637.9L291.5 638.1L293.0 638.3L294.4 638.6L295.9 638.8L297.4 639.0L298.9 639.2L300.4 639.5L301.9 639.7L303.3 639.9L304.8 640.2L306.3 640.4L307.8 640.6L309.3 640.8L310.8 641.1L312.2 641.3L313.7 641.6L315.2 641.8L316.7 642.0L318.2 642.3L319.6 642.5L321.1 642.7L322.6 643.0L324.1 643.2L325.6 643.5L327.0 643.7L328.5 643.9L330.0 644.2L331.5 644.4L333.0 644.6L334.5 644.9L335.9 645.1L337.4 645.4L338.9 645.6L340.4 645.9L341.9 646.1L343.3 646.3L344.8 646.6L346.3 646.8L347.8 647.1L349.3 647.3L350.7 647.5L352.2 647.8L353.7 648.0L355.2 648.3L356.7 648.5L358.1 648.7L359.6 649.0L361.1 649.2L362.6 649.4L364.1 649.7L365.5 649.9L367.0 650.2L368.5 650.4L370.0 650.6L371.5 650.9L373.0 651.1L374.4 651.3L375.9 651.6L377.4 651.8L378.9 652.1L380.4 652.3L381.8 652.5L383.3 652.8L384.8 653.0L386.3 653.3L387.8 653.5L389.2 653.8L390.7 654.0L392.2 654.3L393.7 654.5L395.1 654.8L396.6 655.0L398.1 655.3L399.6 655.6L401.1 655.8L402.5 656.1L404.0 656.3L405.5 656.6L407.0 656.9L408.4 657.2L409.9 657.4L411.4 657.7L412.9 658.0L414.3 658.2L415.8 658.5L417.3 658.8L418.8 659.1L420.2 659.3L421.7 659.6L423.2 659.9L424.7 660.2L426.1 660.5L427.6 660.8L429.1 661.0L430.6 661.3L432.0 661.6L433.5 661.9L435.0 662.2L436.4 662.5L437.9 662.8L439.4 663.1L440.9 663.4L442.3 663.6L443.8 663.9L445.3 664.2L446.7 664.5L448.2 664.8L449.7 665.1L451.1 665.4L452.6 665.7L454.1 666.0L455.6 666.3L457.0 666.6L458.5 666.9L460.0 667.2L461.4 667.5L462.9 667.8L464.4 668.1L465.8 668.4L467.3 668.8L468.8 669.1L470.2 669.4L471.7 669.7L473.2 670.0L474.6 670.3L476.1 670.6L477.6 670.9L479.0 671.3L480.5 671.6L482.0 671.9L483.4 672.2L484.9 672.5L486.4 672.9L487.8 673.2L489.3 673.5L490.8 673.8L492.2 674.1L493.7 674.4L495.2 674.8L496.6 675.1L498.1 675.4L499.6 675.7L501.0 676.1L502.5 676.4L504.0 676.7L505.4 677.0L506.9 677.3L508.4 677.7L509.8 678.0L511.3 678.3L512.8 678.6L514.2 678.9L515.7 679.2L517.2 679.6L518.6 679.9L520.1 680.2L521.5 680.5L523.0 680.8L524.5 681.2L525.9 681.5L527.4 681.8L528.9 682.1L530.3 682.4L531.8 682.8L533.3 683.1L534.7 683.4L536.2 683.8L537.7 684.1L539.1 684.4L540.6 684.7L542.1 685.1L543.5 685.4L545.0 685.8L546.4 686.1L547.9 686.4L549.4 686.8L550.8 687.1L552.3 687.5L553.7 687.8L555.2 688.2L556.6 688.6L558.1 688.9L559.5 689.3L561.0 689.6L562.5 690.0L563.9 690.4L565.4 690.8L566.8 691.1L568.3 691.5L569.7 691.9L571.2 692.3L572.6 692.7L574.1 693.1L575.5 693.4L577.0 693.8L578.4 694.2L579.9 694.6L581.3 695.0L582.8 695.4L584.2 695.8L585.6 696.2L587.1 696.6L588.5 697.0L590.0 697.5L591.4 697.9L592.9 698.3L594.3 698.7L595.7 699.1L597.2 699.5L598.6 699.9L600.1 700.4L601.5 700.8L603.0 701.2L604.4 701.6L605.8 702.1L607.3 702.5L608.7 703.0L610.1 703.4L611.6 703.9L613.0 704.3L614.4 704.8L615.8 705.3L617.2 705.8L618.6 706.4L620.0 706.9L621.4 707.4L622.8 708.0L624.2 708.6L625.6 709.2L626.9 709.8L628.3 710.4L629.7 711.0L631.1 711.6L632.4 712.3L633.8 712.9L635.1 713.6L636.5 714.2L637.8 714.9L639.2 715.6L640.5 716.3L641.8 717.0L643.1 717.7L644.4 718.4L645.7 719.1L647.0 719.9L648.3 720.6L649.6 721.4L650.9 722.2L652.2 723.0L653.4 723.8L654.7 724.6L656.0 725.4L657.2 726.2L658.5 727.1L659.7 727.9L661.0 728.7L662.2 729.6L663.5 730.4L664.7 731.3L665.9 732.1L667.2 733.0L668.4 733.8L669.6 734.7L670.9 735.6L672.1 736.4L673.3 737.3L674.5 738.2L675.7 739.1L676.9 740.0L678.1 740.9L679.4 741.8L680.5 742.7L681.7 743.6L682.9 744.5L684.1 745.5L685.3 746.4L686.4 747.4L687.6 748.3L688.7 749.3L689.9 750.2L691.0 751.2L692.1 752.2L693.2 753.2L694.4 754.2L695.5 755.2L696.5 756.2L697.6 757.3L698.7 758.3L699.8 759.4L700.9 760.4L701.9 761.5L703.0 762.6L704.0 763.7L705.1 764.7L706.1 765.8L707.1 766.9L708.1 768.0L709.1 769.1L710.2 770.3L711.2 771.4L712.1 772.5L713.1 773.6L714.1 774.8L715.1 775.9L716.0 777.1L717.0 778.2L717.9 779.4L718.9 780.6L719.8 781.7L720.7 782.9L721.6 784.1L722.5 785.3L723.5 786.5L724.4 787.7L725.2 788.9L726.1 790.1L727.0 791.3L727.9 792.6L728.7 793.8L729.6 795.0L730.4 796.3L731.2 797.5L732.1 798.8L732.9 800.0L733.7 801.3L734.5 802.6L735.3 803.8L736.1 805.1L736.8 806.4L737.6 807.7L738.4 809.0L739.1 810.3L739.9 811.6L740.6 812.9L741.4 814.2L742.1 815.5L742.8 816.8L743.6 818.1L744.3 819.4L745.0 820.7L745.7 822.1L746.4 823.4L747.1 824.7L747.8 826.1L748.5 827.4L749.2 828.7L749.8 830.1L750.5 831.4L751.1 832.8L751.7 834.1L752.4 835.5L753.0 836.9L753.6 838.2L754.2 839.6L754.8 841.0L755.5 842.3L756.1 843.7L756.7 845.1L757.4 846.4L758.0 847.8L758.6 849.1L759.3 850.5L759.9 851.9L760.5 853.2L761.2 854.6L761.8 855.9L762.4 857.3L763.1 858.7L763.7 860.0L764.3 861.4L764.9 862.8L765.5 864.2L766.0 865.5L766.6 866.9L767.2 868.3L767.7 869.7L768.3 871.1L768.9 872.5L769.4 873.9L769.9 875.3L770.5 876.7L771.0 878.1L771.6 879.5L772.1 880.9L772.6 882.3L773.1 883.7L773.7 885.1L774.2 886.5L774.7 887.9L775.2 889.3L775.7 890.7L776.3 892.1L776.8 893.6L777.3 895.0L777.8 896.4L778.3 897.8L778.8 899.2L779.3 900.6L779.8 902.0L780.3 903.4L780.8 904.9L781.3 906.3L781.8 907.7L782.3 909.1L782.8 910.5L783.3 911.9L783.8 913.4L784.2 914.8L784.7 916.2L785.2 917.6L785.7 919.1L786.1 920.5L786.6 921.9L787.1 923.3L787.5 924.8L788.0 926.2L788.4 927.6L788.9 929.1L789.3 930.5L789.7 931.9L790.2 933.4L790.6 934.8L791.0 936.3L791.4 937.7L791.7 939.2L792.1 940.6L792.5 942.1L792.9 943.5L793.2 945.0L793.6 946.4L793.9 947.9L794.3 949.3L794.6 950.8L794.9 952.3L795.3 953.7L795.6 955.2L795.9 956.7L796.2 958.1L796.5 959.6L796.8 961.1L797.1 962.5L797.4 964.0L797.7 965.5L798.0 967.0L798.3 968.4L798.5 969.9L798.8 971.4L799.1 972.9L799.3 974.3L799.6 975.8L799.8 977.3L800.1 978.8L800.3 980.3L800.6 981.7L800.8 983.2L801.0 984.7L801.3 986.2L801.5 987.7L801.5 987.8" fill="none" stroke="#2cc8ff" stroke-width="1.05" stroke-dasharray="1.7 2.3" stroke-linejoin="round"/>
<path d="M95.5 603.7L97.0 603.8L98.5 603.8L100.0 603.9L101.5 604.0L103.0 604.1L104.5 604.2L106.0 604.3L107.5 604.4L109.0 604.6L110.5 604.7L112.0 604.8L113.5 605.0L115.0 605.1L116.5 605.2L117.9 605.4L119.4 605.5L120.9 605.7L122.4 605.9L123.9 606.1L125.4 606.3L126.9 606.5L128.3 606.7L129.8 606.9L131.3 607.2L132.8 607.4L134.3 607.6L135.8 607.9L137.2 608.2L138.7 608.4L140.2 608.7L141.7 608.9L143.2 609.2L144.6 609.4L146.1 609.7L147.6 609.9L149.1 610.2L150.5 610.4L152.0 610.7L153.5 610.9L155.0 611.2L156.5 611.5L157.9 611.7L159.4 612.0L160.9 612.3L162.4 612.5L163.8 612.8L165.3 613.1L166.8 613.4L168.3 613.7L169.7 613.9L171.2 614.2L172.7 614.5L174.1 614.9L175.6 615.2L177.1 615.5L178.5 615.8L180.0 616.1L181.5 616.5L182.9 616.8L184.4 617.1L185.8 617.5L187.3 617.8L188.8 618.1L190.2 618.5L191.7 618.8L193.2 619.1L194.6 619.4L196.1 619.7L197.6 620.0L199.0 620.3L200.5 620.6L202.0 620.9L203.4 621.2L204.9 621.5L206.4 621.8L207.9 622.1L209.3 622.4L210.8 622.7L212.3 623.0L213.7 623.3L215.2 623.6L216.7 623.9L218.2 624.2L219.6 624.4L221.1 624.7L222.6 625.0L224.1 625.3L225.5 625.5L227.0 625.8L228.5 626.1L230.0 626.3L231.4 626.6L232.9 626.8L234.4 627.1L235.9 627.4L237.4 627.6L238.8 627.9L240.3 628.1L241.8 628.4L243.3 628.6L244.7 628.9L246.2 629.1L247.7 629.3L249.2 629.6L250.7 629.8L252.2 630.0L253.6 630.3L255.1 630.5L256.6 630.7L258.1 630.9L259.6 631.2L261.1 631.4L262.5 631.6L264.0 631.8L265.5 632.0L267.0 632.3L268.5 632.5L270.0 632.7L271.4 632.9L272.9 633.1L274.4 633.3L275.9 633.5L277.4 633.8L278.9 634.0L280.4 634.2L281.8 634.4L283.3 634.6L284.8 634.8L286.3 635.0L287.8 635.2L289.3 635.4L290.8 635.6L292.2 635.8L293.7 636.0L295.2 636.2L296.7 636.4L298.2 636.6L299.7 636.9L301.2 637.1L302.6 637.3L304.1 637.5L305.6 637.7L307.1 637.9L308.6 638.1L310.1 638.4L311.5 638.6L313.0 638.8L314.5 639.0L316.0 639.2L317.5 639.5L319.0 639.7L320.4 639.9L321.9 640.1L323.4 640.3L324.9 640.6L326.4 640.8L327.9 641.0L329.3 641.2L330.8 641.5L332.3 641.7L333.8 641.9L335.3 642.1L336.8 642.4L338.2 642.6L339.7 642.8L341.2 643.0L342.7 643.3L344.2 643.5L345.7 643.7L347.1 644.0L348.6 644.2L350.1 644.4L351.6 644.7L353.1 644.9L354.5 645.1L356.0 645.4L357.5 645.6L359.0 645.8L360.5 646.1L362.0 646.3L363.4 646.6L364.9 646.8L366.4 647.0L367.9 647.3L369.4 647.5L370.8 647.8L372.3 648.0L373.8 648.2L375.3 648.5L376.8 648.7L378.2 649.0L379.7 649.2L381.2 649.5L382.7 649.7L384.2 650.0L385.6 650.2L387.1 650.5L388.6 650.7L390.1 651.0L391.6 651.2L393.0 651.5L394.5 651.7L396.0 652.0L397.5 652.2L398.9 652.5L400.4 652.7L401.9 653.0L403.4 653.2L404.9 653.5L406.3 653.7L407.8 654.0L409.3 654.2L410.8 654.5L412.3 654.7L413.7 655.0L415.2 655.3L416.7 655.5L418.2 655.8L419.6 656.0L421.1 656.3L422.6 656.6L424.1 656.8L425.5 657.1L427.0 657.4L428.5 657.6L430.0 657.9L431.5 658.1L432.9 658.4L434.4 658.7L435.9 658.9L437.4 659.2L438.8 659.5L440.3 659.7L441.8 660.0L443.3 660.3L444.7 660.5L446.2 660.8L447.7 661.1L449.2 661.3L450.6 661.6L452.1 661.9L453.6 662.1L455.1 662.4L456.6 662.6L458.0 662.9L459.5 663.2L461.0 663.4L462.5 663.7L463.9 664.0L465.4 664.2L466.9 664.5L468.4 664.7L469.8 665.0L471.3 665.3L472.8 665.5L474.3 665.8L475.8 666.1L477.2 666.3L478.7 666.6L480.2 666.9L481.7 667.1L483.1 667.4L484.6 667.7L486.1 667.9L487.6 668.2L489.0 668.5L490.5 668.7L492.0 669.0L493.5 669.3L494.9 669.6L496.4 669.9L497.9 670.1L499.4 670.4L500.8 670.7L502.3 671.0L503.8 671.3L505.2 671.6L506.7 671.9L508.2 672.2L509.7 672.4L511.1 672.7L512.6 673.0L514.1 673.3L515.5 673.6L517.0 673.9L518.5 674.2L519.9 674.5L521.4 674.8L522.9 675.1L524.4 675.4L525.8 675.7L527.3 676.1L528.8 676.4L530.2 676.7L531.7 677.0L533.2 677.3L534.6 677.6L536.1 677.9L537.6 678.3L539.0 678.6L540.5 678.9L542.0 679.2L543.4 679.6L544.9 679.9L546.3 680.2L547.8 680.6L549.3 680.9L550.7 681.2L552.2 681.6L553.6 681.9L555.1 682.3L556.6 682.6L558.0 683.0L559.5 683.3L560.9 683.7L562.4 684.1L563.8 684.4L565.3 684.8L566.7 685.2L568.2 685.6L569.6 686.0L571.1 686.3L572.5 686.7L574.0 687.1L575.4 687.5L576.9 687.9L578.3 688.3L579.8 688.7L581.2 689.2L582.7 689.6L584.1 690.0L585.5 690.4L587.0 690.8L588.4 691.3L589.8 691.7L591.3 692.1L592.7 692.6L594.1 693.0L595.6 693.5L597.0 693.9L598.4 694.4L599.9 694.9L601.3 695.3L602.7 695.8L604.1 696.3L605.5 696.8L607.0 697.3L608.4 697.8L609.8 698.3L611.2 698.8L612.6 699.3L614.0 699.8L615.4 700.3L616.8 700.9L618.2 701.4L619.6 702.0L621.0 702.6L622.4 703.1L623.8 703.7L625.1 704.3L626.5 704.9L627.9 705.5L629.3 706.2L630.6 706.8L632.0 707.4L633.3 708.1L634.7 708.7L636.0 709.4L637.4 710.0L638.7 710.7L640.1 711.4L641.4 712.1L642.7 712.8L644.1 713.5L645.4 714.2L646.7 714.9L648.0 715.6L649.3 716.3L650.6 717.1L652.0 717.8L653.2 718.6L654.5 719.3L655.8 720.1L657.1 720.9L658.4 721.7L659.6 722.5L660.9 723.3L662.1 724.1L663.4 724.9L664.6 725.8L665.9 726.6L667.1 727.5L668.3 728.4L669.5 729.3L670.8 730.1L672.0 731.0L673.2 731.9L674.4 732.8L675.6 733.7L676.7 734.6L677.9 735.6L679.1 736.5L680.3 737.4L681.5 738.4L682.6 739.3L683.8 740.3L685.0 741.2L686.1 742.2L687.3 743.2L688.4 744.1L689.5 745.1L690.7 746.1L691.8 747.1L692.9 748.2L694.0 749.2L695.0 750.2L696.1 751.3L697.1 752.3L698.1 753.4L699.2 754.5L700.2 755.6L701.2 756.7L702.2 757.8L703.2 759.0L704.2 760.1L705.1 761.2L706.1 762.4L707.1 763.6L708.0 764.7L709.0 765.9L709.9 767.1L710.9 768.2L711.8 769.4L712.7 770.6L713.7 771.8L714.6 773.0L715.5 774.1L716.4 775.3L717.4 776.5L718.3 777.7L719.2 778.9L720.1 780.1L721.0 781.3L721.9 782.5L722.8 783.7L723.6 784.9L724.5 786.1L725.4 787.4L726.2 788.6L727.0 789.9L727.9 791.1L728.7 792.4L729.5 793.6L730.3 794.9L731.1 796.2L731.9 797.4L732.7 798.7L733.4 800.0L734.2 801.3L735.0 802.6L735.7 803.9L736.5 805.2L737.2 806.5L737.9 807.8L738.6 809.1L739.4 810.4L740.1 811.8L740.8 813.1L741.5 814.4L742.2 815.7L742.9 817.1L743.6 818.4L744.3 819.7L744.9 821.1L745.6 822.4L746.3 823.8L747.0 825.1L747.6 826.4L748.3 827.8L749.0 829.1L749.6 830.5L750.2 831.8L750.9 833.2L751.5 834.6L752.1 835.9L752.8 837.3L753.4 838.7L754.0 840.0L754.6 841.4L755.2 842.8L755.9 844.1L756.5 845.5L757.1 846.8L757.8 848.2L758.4 849.6L759.1 850.9L759.7 852.3L760.3 853.6L761.0 855.0L761.6 856.4L762.2 857.7L762.8 859.1L763.4 860.5L764.1 861.8L764.6 863.2L765.2 864.6L765.8 866.0L766.4 867.3L766.9 868.7L767.5 870.1L768.1 871.5L768.6 872.9L769.2 874.3L769.7 875.7L770.2 877.1L770.8 878.5L771.3 879.9L771.8 881.3L772.4 882.7L772.9 884.1L773.4 885.5L773.9 886.9L774.5 888.3L775.0 889.8L775.5 891.2L776.0 892.6L776.5 894.0L777.1 895.4L777.6 896.8L778.1 898.2L778.6 899.6L779.1 901.0L779.6 902.4L780.1 903.9L780.6 905.3L781.1 906.7L781.6 908.1L782.1 909.5L782.5 910.9L783.0 912.4L783.5 913.8L784.0 915.2L784.4 916.6L784.9 918.1L785.4 919.5L785.9 920.9L786.3 922.3L786.8 923.8L787.3 925.2L787.7 926.6L788.2 928.1L788.6 929.5L789.0 930.9L789.5 932.4L789.9 933.8L790.3 935.2L790.7 936.7L791.1 938.1L791.4 939.6L791.8 941.0L792.2 942.5L792.6 943.9L792.9 945.4L793.3 946.9L793.6 948.3L794.0 949.8L794.3 951.2L794.6 952.7L795.0 954.2L795.3 955.6L795.6 957.1L795.9 958.6L796.2 960.0L796.5 961.5L796.8 963.0L797.1 964.5L797.4 965.9L797.7 967.4L798.0 968.9L798.3 970.3L798.5 971.8L798.8 973.3L799.1 974.8L799.3 976.2L799.6 977.7L799.8 979.2L800.1 980.7L800.3 982.2L800.6 983.6L800.8 985.1L801.0 986.6L801.2 987.8" fill="none" stroke="#5a46ff" stroke-width="1.15" stroke-linejoin="round"/>
<path d="M95.3 604.5L96.8 604.5L98.3 604.6L99.8 604.7L101.3 604.8L102.8 604.9L104.3 605.0L105.8 605.1L107.3 605.2L108.8 605.3L110.3 605.4L111.8 605.6L113.3 605.7L114.8 605.8L116.3 606.0L117.7 606.1L119.2 606.3L120.7 606.4L122.2 606.6L123.7 606.8L125.2 607.0L126.7 607.2L128.1 607.4L129.6 607.7L131.1 607.9L132.6 608.1L134.1 608.4L135.6 608.7L137.0 608.9L138.5 609.2L140.0 609.4L141.5 609.7L143.0 609.9L144.4 610.2L145.9 610.4L147.4 610.7L148.9 610.9L150.3 611.2L151.8 611.4L153.3 611.7L154.8 612.0L156.3 612.2L157.7 612.5L159.2 612.7L160.7 613.0L162.2 613.3L163.6 613.6L165.1 613.8L166.6 614.1L168.1 614.4L169.5 614.7L171.0 615.0L172.5 615.3L173.9 615.6L175.4 615.9L176.9 616.2L178.3 616.6L179.8 616.9L181.3 617.2L182.7 617.6L184.2 617.9L185.6 618.2L187.1 618.6L188.6 618.9L190.0 619.2L191.5 619.5L193.0 619.9L194.4 620.2L195.9 620.5L197.4 620.8L198.8 621.1L200.3 621.4L201.8 621.7L203.2 622.0L204.7 622.3L206.2 622.6L207.7 622.9L209.1 623.2L210.6 623.5L212.1 623.8L213.5 624.1L215.0 624.3L216.5 624.6L218.0 624.9L219.4 625.2L220.9 625.5L222.4 625.7L223.9 626.0L225.3 626.3L226.8 626.5L228.3 626.8L229.8 627.1L231.2 627.3L232.7 627.6L234.2 627.9L235.7 628.1L237.2 628.4L238.6 628.6L240.1 628.9L241.6 629.1L243.1 629.4L244.5 629.6L246.0 629.8L247.5 630.1L249.0 630.3L250.5 630.6L252.0 630.8L253.4 631.0L254.9 631.2L256.4 631.5L257.9 631.7L259.4 631.9L260.9 632.1L262.3 632.4L263.8 632.6L265.3 632.8L266.8 633.0L268.3 633.2L269.8 633.4L271.2 633.7L272.7 633.9L274.2 634.1L275.7 634.3L277.2 634.5L278.7 634.7L280.2 634.9L281.6 635.1L283.1 635.3L284.6 635.5L286.1 635.7L287.6 635.9L289.1 636.1L290.6 636.3L292.0 636.6L293.5 636.8L295.0 637.0L296.5 637.2L298.0 637.4L299.5 637.6L301.0 637.8L302.4 638.0L303.9 638.2L305.4 638.5L306.9 638.7L308.4 638.9L309.9 639.1L311.3 639.3L312.8 639.6L314.3 639.8L315.8 640.0L317.3 640.2L318.8 640.4L320.2 640.6L321.7 640.9L323.2 641.1L324.7 641.3L326.2 641.5L327.7 641.8L329.1 642.0L330.6 642.2L332.1 642.4L333.6 642.7L335.1 642.9L336.6 643.1L338.0 643.3L339.5 643.6L341.0 643.8L342.5 644.0L344.0 644.3L345.5 644.5L346.9 644.7L348.4 644.9L349.9 645.2L351.4 645.4L352.9 645.6L354.3 645.9L355.8 646.1L357.3 646.4L358.8 646.6L360.3 646.8L361.8 647.1L363.2 647.3L364.7 647.5L366.2 647.8L367.7 648.0L369.2 648.3L370.6 648.5L372.1 648.8L373.6 649.0L375.1 649.2L376.6 649.5L378.0 649.7L379.5 650.0L381.0 650.2L382.5 650.5L384.0 650.7L385.4 651.0L386.9 651.2L388.4 651.5L389.9 651.7L391.4 652.0L392.8 652.2L394.3 652.5L395.8 652.7L397.3 653.0L398.7 653.2L400.2 653.5L401.7 653.7L403.2 654.0L404.7 654.2L406.1 654.5L407.6 654.7L409.1 655.0L410.6 655.2L412.1 655.5L413.5 655.8L415.0 656.0L416.5 656.3L418.0 656.5L419.4 656.8L420.9 657.1L422.4 657.3L423.9 657.6L425.3 657.8L426.8 658.1L428.3 658.4L429.8 658.6L431.3 658.9L432.7 659.2L434.2 659.4L435.7 659.7L437.2 660.0L438.6 660.2L440.1 660.5L441.6 660.7L443.1 661.0L444.5 661.3L446.0 661.5L447.5 661.8L449.0 662.1L450.4 662.3L451.9 662.6L453.4 662.9L454.9 663.1L456.4 663.4L457.8 663.7L459.3 663.9L460.8 664.2L462.3 664.4L463.7 664.7L465.2 665.0L466.7 665.2L468.2 665.5L469.6 665.8L471.1 666.0L472.6 666.3L474.1 666.5L475.6 666.8L477.0 667.1L478.5 667.3L480.0 667.6L481.5 667.9L482.9 668.1L484.4 668.4L485.9 668.7L487.4 669.0L488.8 669.2L490.3 669.5L491.8 669.8L493.3 670.0L494.7 670.3L496.2 670.6L497.7 670.9L499.2 671.2L500.6 671.5L502.1 671.7L503.6 672.0L505.0 672.3L506.5 672.6L508.0 672.9L509.5 673.2L510.9 673.5L512.4 673.8L513.9 674.1L515.3 674.4L516.8 674.7L518.3 675.0L519.7 675.3L521.2 675.6L522.7 675.9L524.2 676.2L525.6 676.5L527.1 676.8L528.6 677.1L530.0 677.4L531.5 677.7L533.0 678.1L534.4 678.4L535.9 678.7L537.4 679.0L538.8 679.3L540.3 679.7L541.8 680.0L543.2 680.3L544.7 680.6L546.1 681.0L547.6 681.3L549.1 681.6L550.5 682.0L552.0 682.3L553.4 682.7L554.9 683.0L556.4 683.4L557.8 683.7L559.3 684.1L560.7 684.5L562.2 684.8L563.6 685.2L565.1 685.6L566.5 685.9L568.0 686.3L569.4 686.7L570.9 687.1L572.3 687.5L573.8 687.9L575.2 688.3L576.7 688.7L578.1 689.1L579.6 689.5L581.0 689.9L582.5 690.3L583.9 690.7L585.3 691.2L586.8 691.6L588.2 692.0L589.6 692.5L591.1 692.9L592.5 693.3L593.9 693.8L595.4 694.2L596.8 694.7L598.2 695.2L599.7 695.6L601.1 696.1L602.5 696.6L603.9 697.0L605.3 697.5L606.8 698.0L608.2 698.5L609.6 699.0L611.0 699.5L612.4 700.0L613.8 700.6L615.2 701.1L616.6 701.6L618.0 702.2L619.4 702.7L620.8 703.3L622.2 703.9L623.6 704.5L624.9 705.1L626.3 705.7L627.7 706.3L629.1 706.9L630.4 707.5L631.8 708.2L633.1 708.8L634.5 709.5L635.8 710.1L637.2 710.8L638.5 711.5L639.9 712.1" fill="none" stroke="#ff2020" stroke-width="1.05" stroke-dasharray="4.6 3.6"/><path d="M640.0 711.7L641.3 712.4L642.6 713.1L644.0 713.8L645.3 714.5L646.6 715.2L647.9 715.9L649.2 716.6L650.5 717.4L651.9 718.1L653.1 718.9L654.4 719.6L655.7 720.4L657.0 721.2L658.3 722.0L659.5 722.8L660.8 723.6L662.0 724.4L663.3 725.2L664.5 726.1L665.8 726.9L667.0 727.8L668.2 728.7L669.4 729.6L670.7 730.4L671.9 731.3L673.1 732.2L674.3 733.1L675.5 734.0L676.6 734.9L677.8 735.9L679.0 736.8L680.2 737.7L681.4 738.7L682.5 739.6L683.7 740.6L684.9 741.5L686.0 742.5L687.2 743.5L688.3 744.4L689.4 745.4L690.6 746.4L691.7 747.4L692.8 748.5L693.9 749.5L694.9 750.5L696.0 751.6L697.0 752.6L698.0 753.7L699.1 754.8L700.1 755.9L701.1 757.0L702.1 758.1L703.1 759.3L704.1 760.4L705.0 761.5L706.0 762.7L707.0 763.9L707.9 765.0L708.9 766.2L709.8 767.4L710.8 768.5L711.7 769.7L712.6 770.9L713.6 772.1L714.5 773.3L715.4 774.4L716.3 775.6L717.3 776.8L718.2 778.0L719.1 779.2L720.0 780.4L720.9 781.6L721.8 782.8L722.7 784.0L723.5 785.2L724.4 786.4L725.3 787.7L726.1 788.9L726.9 790.2L727.8 791.4L728.6 792.7L729.4 793.9L730.2 795.2L731.0 796.5L731.8 797.7L732.6 799.0L733.3 800.3L734.1 801.6L734.9 802.9L735.6 804.2L736.4 805.5L737.1 806.8L737.8 808.1L738.5 809.4L739.3 810.7L740.0 812.1L740.7 813.4L741.4 814.7L742.1 816.0L742.8 817.4L743.5 818.7L744.2 820.0L744.8 821.4L745.5 822.7L746.2 824.1L746.9 825.4L747.5 826.7L748.2 828.1L748.9 829.4L749.5 830.8L750.1 832.1L750.8 833.5L751.4 834.9L752.0 836.2L752.7 837.6L753.3 839.0L753.9 840.3L754.5 841.7L755.1 843.1L755.8 844.4L756.4 845.8L757.0 847.1L757.7 848.5L758.3 849.9L759.0 851.2L759.6 852.6L760.2 853.9L760.9 855.3L761.5 856.7L762.1 858.0L762.7 859.4L763.3 860.8L764.0 862.1L764.5 863.5L765.1 864.9L765.7 866.3L766.3 867.6L766.8 869.0L767.4 870.4L768.0 871.8L768.5 873.2L769.1 874.6L769.6 876.0L770.1 877.4L770.7 878.8L771.2 880.2L771.7 881.6L772.3 883.0L772.8 884.4L773.3 885.8L773.8 887.2L774.4 888.6L774.9 890.1L775.4 891.5L775.9 892.9L776.4 894.3L777.0 895.7L777.5 897.1L778.0 898.5L778.5 899.9L779.0 901.3L779.5 902.7L780.0 904.2L780.5 905.6L781.0 907.0L781.5 908.4L782.0 909.8L782.4 911.2L782.9 912.7L783.4 914.1L783.9 915.5L784.3 916.9L784.8 918.4L785.3 919.8L785.8 921.2L786.2 922.6L786.7 924.1L787.2 925.5L787.6 926.9L788.1 928.4L788.5 929.8L788.9 931.2L789.4 932.7L789.8 934.1L790.2 935.5L790.6 937.0L791.0 938.4L791.3 939.9L791.7 941.3L792.1 942.8L792.5 944.2L792.8 945.7L793.2 947.2L793.5 948.6L793.9 950.1L794.2 951.5L794.5 953.0L794.9 954.5L795.2 955.9L795.5 957.4L795.8 958.9L796.1 960.3L796.4 961.8L796.7 963.3L797.0 964.8L797.3 966.2L797.6 967.7L797.9 969.2L798.2 970.6L798.4 972.1L798.7 973.6L799.0 975.1L799.2 976.5L799.5 978.0L799.7 979.5L800.0 981.0L800.2 982.5L800.5 983.9L800.7 985.4L800.9 986.9L801.1 988.1" fill="none" stroke="#ff2020" stroke-width="1.1" stroke-dasharray="15 13"/>
<path d="M95.5 600.8L97.0 601.0L98.5 601.2L100.0 601.4L101.5 601.5L102.9 601.7L104.4 601.9L105.9 602.2L107.4 602.4L108.9 602.6L110.4 602.8L111.9 603.0L113.3 603.2L114.8 603.5L116.3 603.7L117.8 603.9L119.3 604.2L120.7 604.4L122.2 604.7L123.7 604.9L125.2 605.2L126.6 605.5L128.1 605.8L129.6 606.0L131.1 606.3L132.5 606.6L134.0 606.9L135.5 607.2L136.9 607.5L138.4 607.8L139.9 608.1L141.4 608.4L142.8 608.7L144.3 609.0L145.8 609.2L147.3 609.5L148.7 609.8L150.2 610.0L151.7 610.3L153.2 610.6L154.7 610.8L156.1 611.1L157.6 611.3L159.1 611.6L160.6 611.9L162.0 612.1L163.5 612.4L165.0 612.7L166.5 613.0L167.9 613.3L169.4 613.7L170.8 614.0L172.3 614.3L173.8 614.7L175.2 615.1L176.7 615.5L178.1 615.9L179.6 616.3L181.0 616.8L182.4 617.3L183.7 617.9L185.1 618.5L186.4 619.2L187.8 619.9L189.1 620.6L190.4 621.4L191.7 622.2L193.0 623.0L194.2 623.8L195.5 624.6L196.7 625.5L197.9 626.3L199.1 627.3L200.3 628.2L201.5 629.1L202.6 630.1L203.8 631.1L204.9 632.1L206.0 633.1L207.1 634.1L208.2 635.1L209.3 636.2L210.3 637.2L211.4 638.3L212.4 639.4L213.5 640.5L214.5 641.6L215.5 642.7L216.5 643.8L217.5 644.9L218.4 646.1L219.4 647.2L220.3 648.4L221.3 649.6L222.2 650.7L223.1 651.9L224.1 653.1L225.0 654.3L225.9 655.5L226.8 656.7L227.7 657.9L228.5 659.1L229.4 660.3L230.3 661.6L231.2 662.8L232.0 664.0L232.9 665.2L233.8 666.4L234.7 667.6L235.6 668.8L236.5 670.0L237.4 671.3L238.3 672.4L239.2 673.6L240.2 674.8L241.1 675.9L242.1 677.1L243.0 678.3L244.0 679.4L245.1 680.5L246.1 681.6L247.2 682.6L248.3 683.5L249.5 684.5L250.6 685.4L251.9 686.3L253.1 687.2L254.4 688.0L255.6 688.8L256.9 689.6L258.2 690.3L259.5 691.0L260.9 691.7L262.2 692.3L263.6 693.0L265.0 693.6L266.4 694.2L267.8 694.8L269.1 695.3L270.5 695.9L271.9 696.4L273.3 696.9L274.8 697.5L276.2 698.0L277.6 698.4L279.0 698.9L280.5 699.3L281.9 699.8L283.3 700.2L284.8 700.6L286.2 701.0L287.7 701.4L289.1 701.7L290.6 702.1L292.1 702.4L293.5 702.8L295.0 703.1L296.5 703.4L297.9 703.7L299.4 704.0L300.9 704.3L302.3 704.5L303.8 704.8L305.3 705.0L306.8 705.3L308.2 705.5L309.7 705.7L311.2 706.0L312.7 706.2L314.2 706.4L315.6 706.6L317.1 706.8L318.6 707.1L320.1 707.3L321.6 707.5L323.1 707.7L324.6 707.9L326.1 708.1L327.5 708.2L329.0 708.4L330.5 708.6L332.0 708.8L333.5 709.0L335.0 709.2L336.5 709.4L338.0 709.5L339.5 709.7L341.0 709.9L342.5 710.1L343.9 710.3L345.4 710.4L346.9 710.6L348.4 710.8L349.9 711.0L351.4 711.2L352.9 711.4L354.4 711.6L355.9 711.7L357.3 711.9L358.8 712.1L360.3 712.3L361.8 712.5L363.3 712.6L364.8 712.8L366.3 713.0L367.8 713.2L369.3 713.3L370.8 713.5L372.2 713.7L373.7 713.8L375.2 714.0L376.7 714.2L378.2 714.3L379.7 714.5L381.2 714.7L382.7 714.8L384.2 715.0L385.7 715.2L387.2 715.3L388.6 715.5L390.1 715.7L391.6 715.8L393.1 716.0L394.6 716.1L396.1 716.3L397.6 716.5L399.1 716.6L400.6 716.8L402.1 716.9L403.6 717.1L405.1 717.3L406.5 717.4L408.0 717.6L409.5 717.7L411.0 717.9L412.5 718.0L414.0 718.2L415.5 718.3L417.0 718.5L418.5 718.6L420.0 718.8L421.5 718.9L423.0 719.1L424.5 719.2L425.9 719.4L427.4 719.5L428.9 719.7L430.4 719.8L431.9 719.9L433.4 720.1L434.9 720.2L436.4 720.4L437.9 720.5L439.4 720.7L440.9 720.8L442.4 721.0L443.9 721.1L445.4 721.3L446.8 721.4L448.3 721.6L449.8 721.7L451.3 721.9L452.8 722.0L454.3 722.2L455.8 722.3L457.3 722.5L458.8 722.6L460.3 722.8L461.8 722.9L463.3 723.1L464.8 723.2L466.2 723.4L467.7 723.5L469.2 723.7L470.7 723.8L472.2 724.0L473.7 724.1L475.2 724.3L476.7 724.4L478.2 724.5L479.7 724.7L481.2 724.8L482.7 725.0L484.2 725.1L485.7 725.3L487.1 725.4L488.6 725.6L490.1 725.8L491.6 725.9L493.1 726.1L494.6 726.2L496.1 726.4L497.6 726.5L499.1 726.7L500.6 726.8L502.1 727.0L503.6 727.2L505.0 727.3L506.5 727.5L508.0 727.6L509.5 727.8L511.0 728.0L512.5 728.1L514.0 728.3L515.5 728.4L517.0 728.6L518.5 728.8L520.0 728.9L521.4 729.1L522.9 729.3L524.4 729.4L525.9 729.6L527.4 729.8L528.9 729.9L530.4 730.1L531.9 730.3L533.4 730.5L534.9 730.6L536.4 730.8L537.8 731.0L539.3 731.1L540.8 731.3L542.3 731.5L543.8 731.7L545.3 731.8L546.8 732.0L548.3 732.2L549.8 732.4L551.2 732.6L552.7 732.7L554.2 732.9L555.7 733.1L557.2 733.3L558.7 733.5L560.2 733.7L561.7 733.8L563.2 734.0L564.7 734.2L566.1 734.4L567.6 734.6L569.1 734.8L570.6 734.9L572.1 735.1L573.6 735.3L575.1 735.5L576.6 735.7L578.1 735.9L579.5 736.1L581.0 736.3L582.5 736.5L584.0 736.7L585.5 737.0L587.0 737.2L588.4 737.4L589.9 737.6L591.4 737.9L592.9 738.1L594.4 738.4L595.8 738.6L597.3 738.9L598.8 739.1L600.3 739.4L601.8 739.7L603.2 740.0L604.7 740.3L606.2 740.6L607.7 740.9L609.1 741.2L610.6 741.5L612.0 741.9L613.5 742.2L615.0 742.6L616.4 742.9L617.8 743.3L619.3 743.7L620.7 744.1L622.2 744.5L623.6 745.0L625.0 745.4L626.4 745.9L627.9 746.4L629.3 746.9L630.7 747.4L632.1 747.9L633.5 748.5L634.9 749.0L636.3 749.5L637.7 750.1L639.1 750.7L640.5 751.2L641.9 751.8L643.3 752.4L644.6 753.0L646.0 753.6L647.4 754.2L648.7 754.8L650.1 755.5L651.5 756.1L652.8 756.8L654.2 757.4L655.5 758.1L656.8 758.8L658.2 759.5L659.5 760.2L660.8 761.0L662.1 761.7L663.4 762.4L664.7 763.2L666.0 763.9L667.3 764.6L668.6 765.4L669.9 766.2L671.2 767.0L672.4 767.8L673.7 768.6L675.0 769.4L676.3 770.2L677.5 771.0L678.8 771.9L680.0 772.7L681.2 773.6L682.5 774.5L683.7 775.3L684.9 776.2L686.1 777.1L687.3 778.0L688.5 778.9L689.7 779.9L690.8 780.8L692.0 781.7L693.1 782.7L694.2 783.7L695.4 784.7L696.5 785.7L697.6 786.7L698.7 787.7L699.8 788.8L700.8 789.8L701.9 790.9L703.0 792.0L704.0 793.1L705.1 794.1L706.1 795.2L707.1 796.3L708.1 797.5L709.1 798.6L710.1 799.7L711.1 800.8L712.0 802.0L713.0 803.1L713.9 804.3L714.8 805.5L715.8 806.7L716.7 807.9L717.6 809.1L718.5 810.3L719.4 811.5L720.3 812.7L721.1 813.9L722.0 815.1L722.9 816.4L723.8 817.6L724.6 818.8L725.5 820.0L726.3 821.3L727.2 822.5L728.0 823.8L728.8 825.0L729.6 826.3L730.4 827.5L731.2 828.8L732.0 830.1L732.8 831.3L733.6 832.6L734.4 833.9L735.2 835.2L736.0 836.4L736.8 837.7L737.6 839.0L738.4 840.2L739.2 841.5L740.0 842.8L740.8 844.1L741.6 845.3L742.4 846.6L743.1 847.9L743.9 849.2L744.7 850.5L745.4 851.8L746.2 853.1L746.9 854.4L747.6 855.7L748.3 857.0L749.1 858.3L749.8 859.7L750.5 861.0L751.2 862.3L751.9 863.6L752.6 865.0L753.3 866.3L753.9 867.6L754.6 869.0L755.3 870.3L756.0 871.7L756.6 873.0L757.3 874.4L757.9 875.7L758.6 877.1L759.2 878.4L759.8 879.8L760.5 881.1L761.1 882.5L761.7 883.9L762.4 885.2L763.0 886.6L763.6 888.0L764.2 889.4L764.8 890.7L765.3 892.1L765.9 893.5L766.5 894.9L767.0 896.3L767.6 897.7L768.1 899.1L768.6 900.5L769.1 901.9L769.7 903.3L770.2 904.7L770.7 906.1L771.2 907.6L771.7 909.0L772.2 910.4L772.7 911.8L773.2 913.2L773.7 914.6L774.2 916.0L774.7 917.5L775.2 918.9L775.7 920.3L776.3 921.7L776.8 923.1L777.3 924.5L777.9 925.9L778.4 927.3L778.9 928.7L779.4 930.1L779.9 931.5L780.5 932.9L781.0 934.3L781.4 935.7L781.9 937.2L782.4 938.6L782.9 940.0L783.3 941.4L783.7 942.9L784.2 944.3L784.6 945.7L785.0 947.2L785.5 948.6L785.9 950.1L786.3 951.5L786.7 953.0L787.1 954.4L787.5 955.8L788.0 957.3L788.4 958.7L788.8 960.2L789.2 961.6L789.6 963.0L790.0 964.5L790.4 965.9L790.8 967.4L791.2 968.8L791.6 970.3L792.0 971.7L792.4 973.2L792.8 974.6L793.1 976.1L793.5 977.5L793.9 979.0L794.2 980.4L794.6 981.9L795.0 983.4L795.3 984.8L795.6 986.3L796.0 987.7L796.0 987.8" fill="none" stroke="#00e400" stroke-width="1.1" stroke-dasharray="6 2.5 1.3 2.5" stroke-linejoin="round"/>
<path d="M95.5 600.3L97.0 600.5L98.5 600.7L100.0 600.8L101.5 601.0L102.9 601.2L104.4 601.4L105.9 601.6L107.4 601.8L108.9 602.1L110.4 602.3L111.9 602.5L113.3 602.7L114.8 603.0L116.3 603.2L117.8 603.4L119.3 603.7L120.7 603.9L122.2 604.2L123.7 604.4L125.2 604.7L126.6 605.0L128.1 605.3L129.6 605.6L131.1 605.9L132.5 606.1L134.0 606.5L135.5 606.8L136.9 607.1L138.4 607.4L139.9 607.7L141.3 608.0L142.8 608.3L144.3 608.6L145.7 609.0L147.2 609.3L148.7 609.6L150.1 609.9L151.6 610.2L153.1 610.6L154.5 610.9L156.0 611.2L157.5 611.6L158.9 612.0L160.3 612.4L161.8 612.8L163.2 613.3L164.7 613.7L166.1 614.2L167.5 614.7L168.9 615.3L170.2 615.9L171.6 616.6L172.9 617.3L174.2 618.0L175.5 618.9L176.7 619.7L178.0 620.6L179.1 621.5L180.3 622.4L181.4 623.4L182.5 624.4L183.6 625.5L184.7 626.5L185.7 627.7L186.7 628.8L187.7 629.9L188.7 631.0L189.7 632.1L190.7 633.2L191.7 634.4L192.6 635.5L193.6 636.7L194.5 637.9L195.4 639.1L196.2 640.3L197.1 641.5L198.0 642.8L198.8 644.0L199.6 645.3L200.4 646.6L201.2 647.8L202.0 649.1L202.8 650.4L203.5 651.7L204.2 653.0L204.9 654.3L205.6 655.7L206.3 657.0L207.0 658.3L207.7 659.7L208.5 661.0L209.2 662.3L210.0 663.6L210.8 664.8L211.6 666.1L212.4 667.4L213.2 668.6L214.0 669.9L214.9 671.1L215.8 672.3L216.6 673.5L217.5 674.7L218.4 675.9L219.4 677.1L220.3 678.3L221.3 679.5L222.3 680.6L223.3 681.7L224.3 682.8L225.4 683.8L226.5 684.7L227.7 685.7L228.9 686.6L230.1 687.5L231.3 688.4L232.6 689.2L233.9 690.0L235.1 690.8L236.4 691.6L237.7 692.3L239.1 693.0L240.4 693.7L241.8 694.3L243.2 694.9L244.6 695.5L245.9 696.0L247.4 696.5L248.8 696.9L250.2 697.4L251.7 697.8L253.1 698.2L254.6 698.6L256.0 699.0L257.5 699.4L258.9 699.8L260.4 700.2L261.8 700.6L263.3 701.0L264.7 701.3L266.2 701.7L267.6 702.0L269.1 702.4L270.6 702.7L272.0 703.0L273.5 703.3L275.0 703.7L276.4 704.0L277.9 704.2L279.4 704.5L280.8 704.8L282.3 705.1L283.8 705.3L285.3 705.6L286.8 705.8L288.2 706.1L289.7 706.3L291.2 706.5L292.7 706.8L294.2 707.0L295.7 707.2L297.1 707.4L298.6 707.6L300.1 707.8L301.6 708.0L303.1 708.2L304.6 708.4L306.1 708.6L307.5 708.8L309.0 709.0L310.5 709.1L312.0 709.3L313.5 709.5L315.0 709.7L316.5 709.9L318.0 710.0L319.5 710.2L321.0 710.4L322.4 710.5L323.9 710.7L325.4 710.9L326.9 711.0L328.4 711.2L329.9 711.4L331.4 711.5L332.9 711.7L334.4 711.8L335.9 712.0L337.4 712.2L338.9 712.3L340.3 712.5L341.8 712.6L343.3 712.8L344.8 713.0L346.3 713.1L347.8 713.3L349.3 713.4L350.8 713.6L352.3 713.8L353.8 713.9L355.3 714.1L356.7 714.2L358.2 714.4L359.7 714.6L361.2 714.7L362.7 714.9L364.2 715.0L365.7 715.2L367.2 715.4L368.7 715.5L370.2 715.7L371.7 715.8L373.2 716.0L374.6 716.1L376.1 716.3L377.6 716.4L379.1 716.6L380.6 716.8L382.1 716.9L383.6 717.1L385.1 717.2L386.6 717.4L388.1 717.5L389.6 717.7L391.1 717.8L392.6 718.0L394.0 718.1L395.5 718.3L397.0 718.4L398.5 718.6L400.0 718.7L401.5 718.9L403.0 719.0L404.5 719.2L406.0 719.3L407.5 719.5L409.0 719.6L410.5 719.8L412.0 719.9L413.5 720.1L414.9 720.2L416.4 720.3L417.9 720.5L419.4 720.6L420.9 720.8L422.4 720.9L423.9 721.1L425.4 721.2L426.9 721.4L428.4 721.5L429.9 721.6L431.4 721.8L432.9 721.9L434.4 722.1L435.8 722.2L437.3 722.3L438.8 722.5L440.3 722.6L441.8 722.8L443.3 722.9L444.8 723.1L446.3 723.2L447.8 723.3L449.3 723.5L450.8 723.6L452.3 723.7L453.8 723.9L455.3 724.0L456.8 724.2L458.3 724.3L459.7 724.4L461.2 724.6L462.7 724.7L464.2 724.8L465.7 724.9L467.2 725.1L468.7 725.2L470.2 725.3L471.7 725.5L473.2 725.6L474.7 725.7L476.2 725.9L477.7 726.0L479.2 726.1L480.7 726.2L482.2 726.4L483.7 726.5L485.2 726.6L486.6 726.8L488.1 726.9L489.6 727.0L491.1 727.2L492.6 727.3L494.1 727.5L495.6 727.6L497.1 727.7L498.6 727.9L500.1 728.0L501.6 728.2L503.1 728.3L504.6 728.5L506.1 728.6L507.5 728.8L509.0 728.9L510.5 729.1L512.0 729.2L513.5 729.4L515.0 729.6L516.5 729.7L518.0 729.9L519.5 730.0L521.0 730.2L522.5 730.4L524.0 730.5L525.4 730.7L526.9 730.9L528.4 731.0L529.9 731.2L531.4 731.4L532.9 731.6L534.4 731.7L535.9 731.9L537.4 732.1L538.9 732.3L540.3 732.4L541.8 732.6L543.3 732.8L544.8 733.0L546.3 733.2L547.8 733.3L549.3 733.5L550.8 733.7L552.3 733.9L553.7 734.1L555.2 734.3L556.7 734.4L558.2 734.6L559.7 734.8L561.2 735.0L562.7 735.2L564.2 735.4L565.7 735.5L567.1 735.7L568.6 735.9L570.1 736.1L571.6 736.3L573.1 736.5L574.6 736.7L576.1 736.9L577.6 737.1L579.1 737.3L580.5 737.5L582.0 737.7L583.5 737.9L585.0 738.2L586.5 738.4L588.0 738.6L589.4 738.8L590.9 739.1L592.4 739.3L593.9 739.6L595.3 739.8L596.8 740.1L598.3 740.4L599.8 740.7L601.2 741.0L602.7 741.3L604.2 741.6L605.7 741.9L607.1 742.2L608.6 742.5L610.1 742.9L611.5 743.2L613.0 743.6L614.4 743.9L615.9 744.3L617.3 744.7L618.8 745.1L620.2 745.5L621.6 745.9L623.1 746.3L624.5 746.8L625.9 747.2L627.4 747.7L628.8 748.2L630.2 748.7L631.6 749.2L633.0 749.7L634.5 750.3L635.9 750.8L637.3 751.3L638.7 751.9L640.0 752.4L641.4 753.0L642.8 753.6L644.2 754.2L645.5 754.8L646.9 755.4L648.3 756.0L649.6 756.7L651.0 757.3L652.3 758.0L653.7 758.6L655.0 759.3L656.4 760.0L657.7 760.7L659.0 761.4L660.4 762.2L661.7 762.9L663.0 763.6L664.3 764.4L665.6 765.1L666.9 765.9L668.1 766.6L669.4 767.4L670.7 768.2L672.0 769.0L673.2 769.8L674.5 770.6L675.7 771.5L677.0 772.3L678.2 773.2L679.5 774.0L680.7 774.9L681.9 775.8L683.1 776.6L684.3 777.5L685.6 778.4L686.8 779.3L687.9 780.3L689.1 781.2L690.3 782.1L691.5 783.0L692.6 784.0L693.8 784.9L694.9 785.9L696.1 786.8L697.2 787.8L698.4 788.8L699.5 789.8L700.6 790.8L701.7 791.9L702.8 792.9L703.9 793.9L705.0 795.0L706.0 796.1L707.1 797.1L708.1 798.2L709.1 799.3L710.1 800.4L711.0 801.6L712.0 802.7L712.9 803.9L713.8 805.1L714.7 806.3L715.6 807.5L716.5 808.7L717.4 809.9L718.3 811.2L719.1 812.4L720.0 813.6L720.8 814.9L721.7 816.1L722.5 817.4L723.4 818.6L724.2 819.8L725.1 821.1L725.9 822.3L726.7 823.6L727.5 824.8L728.3 826.1L729.1 827.4L729.9 828.6L730.7 829.9L731.5 831.2L732.3 832.5L733.1 833.8L733.9 835.0L734.7 836.3L735.4 837.6L736.2 838.9L737.0 840.2L737.8 841.5L738.5 842.7L739.3 844.0L740.0 845.3L740.8 846.6L741.6 847.9L742.3 849.2L743.1 850.5L743.8 851.8L744.5 853.1L745.3 854.4L746.0 855.7L746.8 857.0L747.5 858.3L748.3 859.6L749.0 860.9L749.8 862.2L750.5 863.6L751.2 864.9L752.0 866.2L752.7 867.5L753.4 868.8L754.1 870.1L754.8 871.5L755.5 872.8L756.2 874.1L756.8 875.5L757.5 876.8L758.1 878.2L758.8 879.5L759.4 880.9L760.1 882.2L760.7 883.6L761.3 885.0L761.9 886.3L762.5 887.7L763.1 889.1L763.7 890.5L764.3 891.9L764.9 893.2L765.4 894.6L766.0 896.0L766.6 897.4L767.1 898.8L767.6 900.2L768.1 901.6L768.7 903.0L769.2 904.4L769.7 905.8L770.2 907.3L770.7 908.7L771.2 910.1L771.7 911.5L772.2 912.9L772.7 914.3L773.2 915.7L773.7 917.2L774.2 918.6L774.7 920.0L775.3 921.4L775.8 922.8L776.3 924.2L776.8 925.6L777.4 927.0L777.9 928.4L778.4 929.8L778.9 931.2L779.5 932.6L780.0 934.0L780.5 935.4L781.0 936.9L781.4 938.3L781.9 939.7L782.4 941.1L782.8 942.6L783.2 944.0L783.7 945.4L784.1 946.9L784.5 948.3L785.0 949.8L785.4 951.2L785.8 952.6L786.2 954.1L786.6 955.5L787.0 957.0L787.4 958.4L787.9 959.8L788.3 961.3L788.7 962.7L789.1 964.2L789.5 965.6L789.9 967.1L790.3 968.5L790.7 970.0L791.1 971.4L791.5 972.9L791.9 974.3L792.3 975.8L792.6 977.2L793.0 978.6L793.4 980.1L793.8 981.6L794.2 983.0L794.5 984.5L794.9 985.9L795.3 987.4L795.4 987.8" fill="none" stroke="#1010ff" stroke-width="1.55" stroke-dasharray="1.55 4.15" stroke-linejoin="round"/>
<path d="M95.5 601.8L97.0 601.9L98.5 602.1L100.0 602.2L101.5 602.4L103.0 602.6L104.5 602.7L105.9 602.9L107.4 603.1L108.9 603.3L110.4 603.5L111.9 603.7L113.4 603.9L114.9 604.1L116.4 604.3L117.8 604.5L119.3 604.7L120.8 604.9L122.3 605.1L123.8 605.4L125.3 605.6L126.7 605.8L128.2 606.1L129.7 606.3L131.2 606.6L132.7 606.8L134.1 607.1L135.6 607.4L137.1 607.7L138.6 607.9L140.0 608.2L141.5 608.5L143.0 608.9L144.4 609.2L145.9 609.5L147.4 609.9L148.8 610.2L150.2 610.7L151.7 611.1L153.1 611.7L154.4 612.3L155.8 612.9L157.1 613.6L158.4 614.4L159.7 615.1L161.0 615.9L162.2 616.8L163.5 617.6L164.7 618.5L165.8 619.5L167.0 620.4L168.2 621.3L169.3 622.3L170.4 623.3L171.5 624.4L172.6 625.5L173.6 626.6L174.5 627.7L175.5 628.8L176.4 630.0L177.3 631.2L178.2 632.4L179.1 633.7L179.9 634.9L180.8 636.2L181.6 637.4L182.3 638.7L183.1 640.0L183.9 641.3L184.6 642.6L185.3 643.9L186.1 645.2L186.8 646.5L187.5 647.9L188.1 649.2L188.8 650.6L189.5 651.9L190.1 653.2L190.8 654.6L191.5 655.9L192.1 657.3L192.7 658.7L193.4 660.0L194.0 661.4L194.6 662.7L195.3 664.1L195.9 665.5L196.6 666.8L197.2 668.1L197.9 669.5L198.6 670.8L199.3 672.2L200.0 673.5L200.7 674.8L201.4 676.2L202.1 677.5L202.9 678.8L203.6 680.1L204.4 681.3L205.2 682.6L206.0 683.8L206.9 685.1L207.7 686.3L208.6 687.6L209.6 688.8L210.5 689.9L211.5 691.0L212.5 692.1L213.5 693.2L214.6 694.2L215.7 695.2L216.9 696.2L218.1 697.1L219.3 698.1L220.5 699.0L221.7 699.8L223.0 700.7L224.2 701.5L225.5 702.3L226.8 703.0L228.1 703.7L229.5 704.4L230.8 705.0L232.2 705.6L233.6 706.3L234.9 706.9L236.2 707.6L237.6 708.3L238.9 708.9L240.3 709.6L241.6 710.3L243.0 710.9L244.3 711.6L245.7 712.2L247.0 712.9L248.4 713.5L249.8 714.1L251.1 714.8L252.5 715.4L253.8 716.0L255.2 716.6L256.6 717.3L257.9 717.9L259.3 718.5L260.7 719.1L262.0 719.7L263.4 720.4L264.8 721.0L266.2 721.6L267.5 722.2L268.9 722.7L270.3 723.3L271.7 723.8L273.1 724.3L274.5 724.8L275.9 725.3L277.4 725.8L278.8 726.3L280.2 726.8L281.6 727.3L283.1 727.7L284.5 728.2L285.9 728.7L287.3 729.2L288.8 729.6L290.2 730.1L291.6 730.5L293.1 731.0L294.5 731.4L295.9 731.8L297.4 732.2L298.8 732.6L300.3 733.0L301.7 733.3L303.2 733.7L304.6 734.0L306.1 734.4L307.5 734.7L309.0 735.1L310.5 735.4L311.9 735.7L313.4 736.1L314.9 736.4L316.3 736.7L317.8 737.0L319.3 737.3L320.7 737.6L322.2 737.9L323.7 738.2L325.2 738.5L326.6 738.8L328.1 739.1L329.6 739.4L331.1 739.7L332.5 740.0L334.0 740.2L335.5 740.5L337.0 740.8L338.4 741.0L339.9 741.3L341.4 741.5L342.9 741.8L344.4 742.0L345.8 742.3L347.3 742.5L348.8 742.7L350.3 743.0L351.8 743.2L353.2 743.4L354.7 743.6L356.2 743.8L357.7 744.0L359.2 744.2L360.7 744.4L362.2 744.6L363.6 744.8L365.1 745.0L366.6 745.2L368.1 745.4L369.6 745.6L371.1 745.8L372.6 746.0L374.1 746.1L375.6 746.3L377.0 746.5L378.5 746.7L380.0 746.8L381.5 747.0L383.0 747.2L384.5 747.3L386.0 747.5L387.5 747.7L389.0 747.9L390.5 748.0L392.0 748.2L393.4 748.4L394.9 748.5L396.4 748.7L397.9 748.9L399.4 749.1L400.9 749.2L402.4 749.4L403.9 749.6L405.4 749.7L406.9 749.9L408.4 750.1L409.8 750.3L411.3 750.4L412.8 750.6L414.3 750.8L415.8 750.9L417.3 751.1L418.8 751.3L420.3 751.4L421.8 751.6L423.3 751.7L424.8 751.9L426.2 752.1L427.7 752.2L429.2 752.4L430.7 752.6L432.2 752.7L433.7 752.9L435.2 753.0L436.7 753.2L438.2 753.4L439.7 753.5L441.2 753.7L442.6 753.9L444.1 754.0L445.6 754.2L447.1 754.3L448.6 754.5L450.1 754.7L451.6 754.8L453.1 755.0L454.6 755.1L456.1 755.3L457.6 755.4L459.1 755.6L460.5 755.8L462.0 755.9L463.5 756.1L465.0 756.2L466.5 756.4L468.0 756.5L469.5 756.7L471.0 756.9L472.5 757.0L474.0 757.2L475.5 757.3L477.0 757.5L478.4 757.6L479.9 757.8L481.4 757.9L482.9 758.1L484.4 758.2L485.9 758.4L487.4 758.6L488.9 758.7L490.4 758.9L491.9 759.0L493.4 759.2L494.9 759.3L496.4 759.5L497.8 759.6L499.3 759.8L500.8 760.0L502.3 760.1L503.8 760.3L505.3 760.4L506.8 760.6L508.3 760.8L509.8 760.9L511.3 761.1L512.8 761.2L514.3 761.4L515.7 761.6L517.2 761.7L518.7 761.9L520.2 762.0L521.7 762.2L523.2 762.3L524.7 762.5L526.2 762.7L527.7 762.8L529.2 763.0L530.7 763.2L532.1 763.3L533.6 763.5L535.1 763.6L536.6 763.8L538.1 764.0L539.6 764.1L541.1 764.3L542.6 764.5L544.1 764.6L545.6 764.8L547.1 765.0L548.5 765.2L550.0 765.3L551.5 765.5L553.0 765.7L554.5 765.9L556.0 766.0L557.5 766.2L559.0 766.4L560.5 766.6L561.9 766.8L563.4 767.0L564.9 767.1L566.4 767.3L567.9 767.5L569.4 767.7L570.9 767.9L572.4 768.1L573.9 768.3L575.3 768.5L576.8 768.7L578.3 768.9L579.8 769.1L581.3 769.3L582.8 769.5L584.3 769.7L585.7 769.9L587.2 770.1L588.7 770.4L590.2 770.6L591.7 770.8L593.2 771.0L594.6 771.3L596.1 771.5L597.6 771.8L599.1 772.0L600.6 772.2L602.1 772.5L603.5 772.7L605.0 773.0L606.5 773.3L608.0 773.5L609.4 773.8L610.9 774.1L612.4 774.4L613.9 774.7L615.3 775.0L616.8 775.3L618.2 775.7L619.7 776.0L621.1 776.4L622.6 776.8L624.0 777.1L625.5 777.5L626.9 778.0L628.4 778.4L629.8 778.8L631.2 779.3L632.7 779.7L634.1 780.2L635.5 780.7L637.0 781.1L638.4 781.6L639.8 782.1L641.2 782.6L642.6 783.1L644.0 783.6L645.4 784.2L646.8 784.8L648.2 785.3L649.6 785.9L651.0 786.5L652.3 787.1L653.7 787.8L655.0 788.4L656.4 789.0L657.7 789.7L659.1 790.4L660.4 791.0L661.8 791.7L663.1 792.4L664.5 793.1L665.8 793.8L667.1 794.5L668.5 795.2L669.8 796.0L671.1 796.7L672.4 797.5L673.7 798.2L674.9 799.0L676.2 799.8L677.5 800.6L678.7 801.4L680.0 802.2L681.2 803.1L682.4 803.9L683.6 804.8L684.8 805.7L686.0 806.6L687.2 807.6L688.3 808.5L689.5 809.5L690.7 810.4L691.8 811.4L693.0 812.4L694.1 813.4L695.2 814.4L696.4 815.4L697.5 816.4L698.6 817.4L699.7 818.4L700.8 819.4L701.9 820.4L703.0 821.4L704.1 822.4L705.2 823.5L706.3 824.5L707.4 825.5L708.5 826.6L709.6 827.6L710.6 828.7L711.7 829.8L712.7 830.9L713.7 832.0L714.7 833.1L715.7 834.2L716.7 835.3L717.7 836.4L718.6 837.6L719.6 838.7L720.5 839.9L721.4 841.1L722.3 842.3L723.2 843.5L724.1 844.7L725.0 845.9L725.9 847.2L726.8 848.4L727.6 849.6L728.5 850.8L729.3 852.1L730.2 853.3L731.1 854.6L731.9 855.8L732.8 857.0L733.6 858.2L734.5 859.5L735.3 860.7L736.2 861.9L737.0 863.2L737.9 864.4L738.7 865.7L739.6 866.9L740.4 868.2L741.2 869.4L742.0 870.7L742.8 872.0L743.6 873.2L744.4 874.5L745.2 875.8L745.9 877.1L746.7 878.4L747.5 879.7L748.2 881.0L748.9 882.3L749.7 883.6L750.4 884.9L751.1 886.2L751.8 887.5L752.6 888.9L753.3 890.2L754.0 891.5L754.6 892.8L755.3 894.2L756.0 895.5L756.7 896.9L757.3 898.2L758.0 899.5L758.6 900.9L759.3 902.3L759.9 903.6L760.5 905.0L761.1 906.3L761.8 907.7L762.4 909.1L763.0 910.5L763.6 911.8L764.2 913.2L764.8 914.6L765.4 916.0L766.0 917.3L766.6 918.7L767.2 920.1L767.8 921.5L768.4 922.8L769.0 924.2L769.6 925.6L770.2 927.0L770.8 928.3L771.4 929.7L772.0 931.1L772.6 932.5L773.1 933.9L773.7 935.3L774.3 936.7L774.8 938.0L775.4 939.4L775.9 940.8L776.4 942.3L776.9 943.7L777.4 945.1L777.9 946.5L778.4 947.9L778.8 949.3L779.3 950.8L779.8 952.2L780.2 953.6L780.7 955.1L781.1 956.5L781.5 957.9L782.0 959.4L782.4 960.8L782.8 962.3L783.2 963.7L783.6 965.1L784.0 966.6L784.4 968.0L784.8 969.5L785.1 970.9L785.5 972.4L785.9 973.8L786.2 975.3L786.6 976.8L787.0 978.2L787.3 979.7L787.6 981.1L788.0 982.6L788.3 984.1L788.6 985.5L788.9 987.0L789.1 987.8" fill="none" stroke="#ff22ff" stroke-width="1.15" stroke-dasharray="12 11" stroke-linejoin="round"/>
<path d="M95.5 599.8L97.0 600.0L98.5 600.2L100.0 600.5L101.4 600.7L102.9 600.9L104.4 601.1L105.9 601.4L107.4 601.6L108.8 601.9L110.3 602.1L111.8 602.4L113.3 602.6L114.8 602.9L116.2 603.1L117.7 603.4L119.2 603.7L120.7 603.9L122.1 604.2L123.6 604.5L125.1 604.7L126.6 605.0L128.1 605.3L129.5 605.5L131.0 605.8L132.5 606.1L134.0 606.4L135.4 606.7L136.9 607.0L138.4 607.3L139.8 607.7L141.3 608.0L142.7 608.3L144.2 608.7L145.6 609.1L147.1 609.4L148.6 609.8L150.1 610.2L151.6 610.7L153.0 611.2L154.3 611.7L155.5 612.4L156.7 613.2L157.7 614.2L158.8 615.4L159.8 616.5L160.8 617.8L161.8 618.9L162.8 620.1L163.8 621.2L164.9 622.3L165.9 623.4L166.9 624.5L167.9 625.6L168.8 626.8L169.7 628.0L170.5 629.2L171.3 630.5L172.0 631.8L172.8 633.1L173.5 634.4L174.2 635.8L174.9 637.1L175.5 638.5L176.2 639.8L176.9 641.1L177.6 642.5L178.3 643.8L179.0 645.1L179.6 646.5L180.3 647.8L181.0 649.2L181.6 650.5L182.3 651.9L183.0 653.2L183.6 654.6L184.3 655.9L185.0 657.2L185.6 658.6L186.3 659.9L187.0 661.3L187.7 662.6L188.3 663.9L189.0 665.3L189.7 666.6L190.4 667.9L191.0 669.3L191.7 670.6L192.4 672.0L193.0 673.3L193.7 674.7L194.3 676.0L195.0 677.4L195.6 678.8L196.3 680.1L196.9 681.5L197.6 682.8L198.3 684.2L199.0 685.5L199.7 686.8L200.4 688.1L201.2 689.3L202.0 690.6L202.9 691.9L203.7 693.1L204.6 694.3L205.4 695.6L206.3 696.8L207.2 698.0L208.1 699.2L209.0 700.4L209.9 701.6L210.8 702.8L211.8 703.9L212.7 705.1L213.7 706.3L214.6 707.4L215.6 708.6L216.6 709.7L217.6 710.8L218.6 711.9L219.7 713.0L220.7 714.0L221.8 715.1L222.9 716.1L224.0 717.1L225.2 718.0L226.3 719.0L227.5 720.0L228.6 721.0L229.7 722.0L230.9 723.0L232.0 724.0L233.0 725.0L234.1 726.1L235.2 727.1L236.2 728.2L237.3 729.3L238.3 730.4L239.4 731.4L240.4 732.5L241.4 733.6L242.5 734.7L243.6 735.7L244.7 736.7L245.7 737.8L246.8 738.8L247.9 739.8L249.0 740.8L250.2 741.8L251.3 742.8L252.4 743.8L253.5 744.8L254.7 745.8L255.8 746.8L256.9 747.8L258.1 748.7L259.2 749.7L260.4 750.6L261.6 751.6L262.8 752.5L263.9 753.4L265.1 754.4L266.3 755.3L267.5 756.2L268.6 757.1L269.8 758.1L271.0 759.0L272.1 760.0L273.3 760.9L274.4 761.9L275.6 762.9L276.8 763.8L277.9 764.8L279.1 765.7L280.3 766.6L281.5 767.5L282.7 768.4L283.9 769.2L285.2 770.1L286.4 770.9L287.7 771.7L288.9 772.5L290.2 773.3L291.5 774.1L292.8 774.9L294.1 775.6L295.4 776.4L296.7 777.2L298.0 777.9L299.3 778.7L300.6 779.4L301.9 780.2L303.2 781.0L304.5 781.7L305.8 782.4L307.1 783.1L308.4 783.8L309.8 784.4L311.2 785.0L312.5 785.6L313.9 786.2L315.3 786.8L316.7 787.4L318.0 788.0L319.4 788.5L320.8 789.1L322.2 789.6L323.6 790.2L325.0 790.7L326.5 791.2L327.9 791.8L329.3 792.3L330.7 792.8L332.1 793.3L333.5 793.8L335.0 794.3L336.4 794.7L337.8 795.2L339.2 795.7L340.6 796.1L342.1 796.6L343.5 797.0L344.9 797.5L346.4 797.9L347.8 798.4L349.2 798.8L350.7 799.2L352.1 799.6L353.6 800.0L355.0 800.4L356.5 800.8L357.9 801.2L359.3 801.6L360.8 802.0L362.3 802.4L363.7 802.8L365.2 803.2L366.6 803.6L368.1 803.9L369.5 804.3L371.0 804.7L372.4 805.1L373.9 805.4L375.3 805.8L376.8 806.2L378.2 806.5L379.7 806.9L381.1 807.3L382.6 807.6L384.1 808.0L385.5 808.4L387.0 808.7L388.4 809.1L389.9 809.4L391.3 809.8L392.8 810.1L394.3 810.5L395.7 810.8L397.2 811.2L398.6 811.5L400.1 811.9L401.6 812.2L403.0 812.5L404.5 812.9L406.0 813.2L407.4 813.5L408.9 813.8L410.4 814.2L411.8 814.5L413.3 814.8L414.7 815.1L416.2 815.4L417.7 815.7L419.2 816.0L420.6 816.3L422.1 816.6L423.6 816.9L425.0 817.2L426.5 817.5L428.0 817.8L429.5 818.1L430.9 818.3L432.4 818.6L433.9 818.9L435.3 819.2L436.8 819.5L438.3 819.7L439.8 820.0L441.2 820.3L442.7 820.6L444.2 820.8L445.7 821.1L447.1 821.4L448.6 821.7L450.1 821.9L451.6 822.2L453.0 822.5L454.5 822.8L456.0 823.0L457.5 823.3L458.9 823.6L460.4 823.9L461.9 824.1L463.4 824.4L464.8 824.7L466.3 824.9L467.8 825.2L469.3 825.5L470.7 825.8L472.2 826.0L473.7 826.3L475.2 826.6L476.7 826.8L478.1 827.1L479.6 827.4L481.1 827.6L482.6 827.9L484.0 828.1L485.5 828.4L487.0 828.6L488.5 828.9L489.9 829.2L491.4 829.4L492.9 829.7L494.4 829.9L495.9 830.1L497.3 830.4L498.8 830.6L500.3 830.9L501.8 831.1L503.3 831.4L504.7 831.6L506.2 831.9L507.7 832.1L509.2 832.3L510.7 832.6L512.1 832.8L513.6 833.1L515.1 833.3L516.6 833.5L518.1 833.8L519.5 834.0L521.0 834.3L522.5 834.5L524.0 834.8L525.5 835.0L526.9 835.3L528.4 835.5L529.9 835.7L531.4 836.0L532.9 836.2L534.3 836.5L535.8 836.7L537.3 837.0L538.8 837.2L540.3 837.5L541.7 837.7L543.2 837.9L544.7 838.2L546.2 838.4L547.7 838.7L549.1 838.9L550.6 839.2L552.1 839.4L553.6 839.7L555.1 839.9L556.5 840.2L558.0 840.4L559.5 840.7L561.0 840.9L562.5 841.1L563.9 841.4L565.4 841.6L566.9 841.9L568.4 842.1L569.9 842.3L571.4 842.6L572.8 842.8L574.3 843.0L575.8 843.3L577.3 843.5L578.8 843.7L580.3 844.0L581.7 844.2L583.2 844.5L584.7 844.7L586.2 845.0L587.6 845.2L589.1 845.5L590.6 845.7L592.1 846.0L593.5 846.3L595.0 846.6L596.5 846.9L598.0 847.2L599.4 847.5L600.9 847.8L602.3 848.1L603.8 848.5L605.3 848.8L606.7 849.2L608.2 849.5L609.6 849.9L611.1 850.3L612.5 850.6L614.0 851.0L615.5 851.3L616.9 851.7L618.4 852.0L619.9 852.3L621.3 852.7L622.8 853.0L624.3 853.3L625.7 853.6L627.2 853.9L628.7 854.3L630.1 854.6L631.6 854.9L633.0 855.3L634.5 855.7L635.9 856.1L637.4 856.5L638.8 856.9L640.3 857.3L641.7 857.7L643.1 858.1L644.6 858.6L646.0 859.0L647.4 859.5L648.9 859.9L650.3 860.4L651.7 860.9L653.1 861.4L654.6 861.9L656.0 862.4L657.4 862.9L658.8 863.5L660.2 864.0L661.5 864.6L662.9 865.1L664.3 865.7L665.7 866.3L667.1 866.9L668.5 867.5L669.8 868.2L671.2 868.8L672.6 869.5L673.9 870.1L675.2 870.8L676.6 871.5L677.9 872.3L679.2 873.0L680.4 873.7L681.7 874.5L683.0 875.3L684.2 876.1L685.4 877.0L686.7 877.8L687.9 878.7L689.1 879.6L690.3 880.5L691.5 881.5L692.7 882.4L693.9 883.3L695.0 884.3L696.2 885.2L697.4 886.2L698.5 887.1L699.7 888.1L700.9 889.0L702.0 890.0L703.2 890.9L704.3 891.9L705.4 892.9L706.6 893.9L707.7 894.9L708.8 895.9L709.9 896.9L711.1 897.9L712.2 898.9L713.3 899.9L714.4 900.9L715.4 902.0L716.5 903.0L717.6 904.1L718.7 905.1L719.8 906.1L720.8 907.2L721.9 908.2L723.0 909.3L724.0 910.4L725.1 911.4L726.2 912.5L727.2 913.6L728.3 914.7L729.3 915.8L730.3 916.9L731.3 918.0L732.3 919.1L733.2 920.3L734.2 921.4L735.1 922.6L736.0 923.8L736.9 925.0L737.8 926.2L738.7 927.4L739.5 928.6L740.3 929.9L741.2 931.1L742.0 932.4L742.8 933.7L743.6 934.9L744.4 936.2L745.2 937.5L746.0 938.8L746.7 940.1L747.5 941.4L748.3 942.6L749.0 943.9L749.8 945.2L750.6 946.5L751.3 947.8L752.0 949.1L752.8 950.5L753.5 951.8L754.2 953.1L754.9 954.4L755.6 955.8L756.3 957.1L756.9 958.4L757.6 959.8L758.2 961.1L758.8 962.5L759.5 963.9L760.1 965.2L760.7 966.6L761.3 968.0L761.9 969.4L762.5 970.7L763.1 972.1L763.7 973.5L764.2 974.9L764.8 976.3L765.4 977.7L766.0 979.0L766.5 980.4L767.1 981.8L767.6 983.2L768.2 984.6L768.7 986.0L769.3 987.4L769.4 987.8" fill="none" stroke="#9a28f5" stroke-width="1.1" stroke-dasharray="11.5 4.8 1.6 4.8" stroke-linejoin="round"/>
<path d="M95.5 599.3L97.0 599.6L98.5 599.8L99.9 600.1L101.4 600.3L102.9 600.6L104.4 600.9L105.8 601.1L107.3 601.4L108.8 601.7L110.3 601.9L111.7 602.2L113.2 602.5L114.7 602.8L116.2 603.1L117.6 603.3L119.1 603.6L120.6 603.9L122.1 604.2L123.5 604.5L125.0 604.7L126.5 605.0L128.0 605.3L129.4 605.6L130.9 605.9L132.4 606.2L133.9 606.5L135.3 606.8L136.8 607.2L138.2 607.6L139.7 608.0L141.1 608.5L142.5 609.0L143.8 609.7L145.0 610.6L146.2 611.5L147.4 612.4L148.6 613.4L149.7 614.3L150.9 615.3L152.0 616.3L153.1 617.4L154.1 618.4L155.2 619.5L156.3 620.5L157.3 621.6L158.4 622.7L159.3 623.8L160.3 625.0L161.2 626.1L162.1 627.4L162.9 628.6L163.8 629.8L164.6 631.1L165.4 632.4L166.2 633.7L166.9 635.0L167.7 636.3L168.4 637.6L169.1 638.9L169.8 640.2L170.5 641.6L171.1 642.9L171.8 644.3L172.4 645.6L173.1 647.0L173.7 648.3L174.3 649.7L175.0 651.1L175.6 652.4L176.2 653.8L176.8 655.2L177.4 656.5L178.0 657.9L178.6 659.3L179.2 660.7L179.8 662.1L180.4 663.4L180.9 664.8L181.5 666.2L182.1 667.6L182.7 669.0L183.2 670.4L183.8 671.8L184.3 673.2L184.9 674.6L185.4 676.0L186.0 677.4L186.5 678.7L187.1 680.1L187.6 681.5L188.2 682.9L188.8 684.3L189.3 685.7L189.9 687.1L190.5 688.5L191.1 689.8L191.7 691.2L192.3 692.6L192.9 694.0L193.5 695.4L194.1 696.7L194.7 698.1L195.4 699.5L196.0 700.8L196.7 702.2L197.3 703.5L198.0 704.8L198.7 706.1L199.4 707.5L200.2 708.8L200.9 710.0L201.7 711.3L202.5 712.6L203.3 713.9L204.1 715.2L204.9 716.4L205.8 717.7L206.6 718.9L207.4 720.2L208.3 721.4L209.1 722.6L210.0 723.8L210.9 725.0L211.8 726.3L212.7 727.4L213.6 728.6L214.6 729.8L215.5 731.0L216.4 732.2L217.4 733.3L218.3 734.5L219.3 735.7L220.2 736.8L221.2 738.0L222.2 739.1L223.2 740.2L224.2 741.3L225.2 742.5L226.2 743.6L227.2 744.7L228.2 745.8L229.1 747.0L230.1 748.1L231.1 749.2L232.1 750.4L233.0 751.5L234.0 752.6L235.0 753.8L236.0 754.9L237.0 756.0L238.0 757.1L239.0 758.2L240.0 759.4L241.0 760.5L242.1 761.6L243.1 762.7L244.1 763.8L245.1 764.9L246.2 766.0L247.2 767.0L248.3 768.1L249.4 769.1L250.4 770.2L251.5 771.2L252.6 772.2L253.8 773.2L254.9 774.1L256.1 775.1L257.2 776.0L258.4 776.9L259.6 777.9L260.8 778.8L262.0 779.7L263.2 780.6L264.5 781.4L265.7 782.3L266.9 783.2L268.1 784.0L269.4 784.9L270.6 785.8L271.8 786.6L273.1 787.4L274.3 788.2L275.6 789.1L276.9 789.9L278.2 790.6L279.4 791.4L280.7 792.2L282.0 792.9L283.3 793.7L284.6 794.4L286.0 795.1L287.3 795.8L288.6 796.5L290.0 797.2L291.3 797.8L292.7 798.5L294.0 799.1L295.4 799.7L296.8 800.3L298.2 800.8L299.6 801.4L301.0 802.0L302.3 802.6L303.7 803.1L305.1 803.7L306.5 804.2L307.9 804.8L309.3 805.3L310.7 805.8L312.1 806.3L313.6 806.8L315.0 807.3L316.4 807.8L317.8 808.3L319.2 808.7L320.7 809.2L322.1 809.6L323.5 810.1L325.0 810.5L326.4 810.9L327.9 811.3L329.3 811.7L330.7 812.2L332.2 812.6L333.6 813.0L335.1 813.4L336.5 813.8L338.0 814.2L339.4 814.7L340.8 815.1L342.3 815.5L343.7 815.9L345.2 816.3L346.6 816.8L348.0 817.2L349.5 817.6L350.9 818.1L352.3 818.5L353.8 818.9L355.2 819.3L356.7 819.8L358.1 820.2L359.5 820.6L361.0 821.0L362.4 821.4L363.9 821.8L365.3 822.2L366.8 822.7L368.2 823.1L369.7 823.5L371.1 823.9L372.5 824.2L374.0 824.6L375.4 825.0L376.9 825.4L378.3 825.8L379.8 826.1L381.2 826.5L382.7 826.9L384.2 827.2L385.6 827.6L387.1 827.9L388.5 828.3L390.0 828.6L391.4 829.0L392.9 829.3L394.4 829.7L395.8 830.0L397.3 830.4L398.8 830.7L400.2 831.0L401.7 831.4L403.1 831.7L404.6 832.0L406.1 832.4L407.5 832.7L409.0 833.0L410.5 833.4L411.9 833.7L413.4 834.0L414.9 834.3L416.3 834.7L417.8 835.0L419.2 835.3L420.7 835.6L422.2 835.9L423.6 836.3L425.1 836.6L426.6 836.9L428.0 837.2L429.5 837.5L431.0 837.8L432.4 838.1L433.9 838.5L435.4 838.8L436.8 839.1L438.3 839.4L439.8 839.7L441.3 840.0L442.7 840.3L444.2 840.6L445.7 840.9L447.1 841.2L448.6 841.5L450.1 841.8L451.5 842.1L453.0 842.4L454.5 842.7L456.0 843.0L457.4 843.3L458.9 843.6L460.4 843.9L461.8 844.1L463.3 844.4L464.8 844.7L466.3 845.0L467.7 845.3L469.2 845.6L470.7 845.9L472.1 846.1L473.6 846.4L475.1 846.7L476.6 847.0L478.0 847.3L479.5 847.6L481.0 847.8L482.5 848.1L483.9 848.4L485.4 848.7L486.9 849.0L488.4 849.2L489.8 849.5L491.3 849.8L492.8 850.1L494.3 850.4L495.7 850.6L497.2 850.9L498.7 851.2L500.1 851.5L501.6 851.7L503.1 852.0L504.6 852.3L506.0 852.6L507.5 852.8L509.0 853.1L510.5 853.4L511.9 853.7L513.4 853.9L514.9 854.2L516.4 854.5L517.8 854.7L519.3 855.0L520.8 855.3L522.3 855.6L523.7 855.9L525.2 856.1L526.7 856.4L528.2 856.7L529.6 857.0L531.1 857.2L532.6 857.5L534.1 857.8L535.5 858.1L537.0 858.3L538.5 858.6L540.0 858.9L541.4 859.2L542.9 859.4L544.4 859.7L545.9 860.0L547.3 860.3L548.8 860.5L550.3 860.8L551.8 861.1L553.2 861.4L554.7 861.6L556.2 861.9L557.7 862.2L559.1 862.5L560.6 862.8L562.1 863.0L563.6 863.3L565.0 863.6L566.5 863.9L568.0 864.1L569.4 864.4L570.9 864.7L572.4 865.0L573.9 865.2L575.3 865.5L576.8 865.8L578.3 866.1L579.8 866.3L581.2 866.6L582.7 866.9L584.2 867.2L585.7 867.5L587.1 867.8L588.6 868.0L590.1 868.3L591.6 868.6L593.0 868.9L594.5 869.2L596.0 869.5L597.4 869.8L598.9 870.2L600.4 870.5L601.8 870.8L603.3 871.1L604.8 871.4L606.2 871.7L607.7 872.1L609.2 872.4L610.6 872.7L612.1 873.0L613.6 873.4L615.0 873.7L616.5 874.0L617.9 874.4L619.4 874.7L620.9 875.1L622.3 875.4L623.8 875.8L625.2 876.1L626.7 876.5L628.1 876.9L629.6 877.3L631.0 877.6L632.5 878.0L633.9 878.4L635.4 878.8L636.8 879.2L638.3 879.6L639.7 880.0L641.1 880.5L642.6 880.9L644.0 881.3L645.5 881.8L646.9 882.2L648.3 882.7L649.8 883.2L651.2 883.6L652.6 884.1L654.0 884.6L655.4 885.1L656.8 885.6L658.2 886.1L659.6 886.7L661.0 887.2L662.4 887.7L663.8 888.3L665.2 888.9L666.6 889.5L668.0 890.1L669.4 890.7L670.7 891.3L672.1 891.9L673.5 892.6L674.8 893.2L676.2 893.9L677.5 894.6L678.8 895.2L680.1 895.9L681.5 896.6L682.8 897.4L684.1 898.1L685.4 898.9L686.7 899.6L687.9 900.4L689.2 901.2L690.5 902.0L691.8 902.8L693.0 903.7L694.3 904.5L695.5 905.4L696.7 906.2L698.0 907.1L699.2 907.9L700.4 908.8L701.6 909.7L702.8 910.6L704.0 911.5L705.2 912.4L706.4 913.4L707.5 914.3L708.7 915.3L709.9 916.2L711.0 917.2L712.2 918.2L713.3 919.2L714.4 920.1L715.5 921.2L716.6 922.2L717.7 923.2L718.8 924.2L719.9 925.3L720.9 926.3L722.0 927.4L723.0 928.4L724.1 929.5L725.1 930.6L726.1 931.7L727.1 932.8L728.2 934.0L729.1 935.1L730.1 936.3L731.1 937.4L732.0 938.6L733.0 939.7L733.9 940.9L734.8 942.1L735.7 943.3L736.6 944.5L737.5 945.7L738.3 946.9L739.2 948.2L740.0 949.4L740.8 950.7L741.6 952.0L742.4 953.2L743.2 954.5L744.0 955.8L744.8 957.1L745.6 958.4L746.4 959.6L747.1 960.9L747.9 962.2L748.6 963.5L749.4 964.8L750.1 966.1L750.9 967.4L751.6 968.7L752.3 970.0L753.0 971.4L753.8 972.7L754.5 974.0L755.2 975.3L755.9 976.7L756.6 978.0L757.3 979.3L758.0 980.6L758.7 982.0L759.4 983.3L760.0 984.6L760.7 986.0L761.4 987.3L761.5 987.5" fill="none" stroke="#ffc428" stroke-width="1.05" stroke-dasharray="4.4 4.3 1.4 4.3" stroke-linejoin="round"/>
<path d="M95.5 596.8L97.0 597.0L98.5 597.1L100.0 597.4L101.5 597.6L102.9 597.9L104.4 598.1L105.9 598.4L107.3 598.8L108.8 599.1L110.3 599.4L111.7 599.8L113.2 600.3L114.6 600.8L116.0 601.3L117.3 601.9L118.7 602.6L119.9 603.4L121.2 604.2L122.4 605.1L123.6 606.0L124.8 606.9L125.9 607.9L127.1 608.9L128.2 609.9L129.3 610.9L130.4 612.0L131.4 613.1L132.4 614.2L133.3 615.4L134.2 616.6L135.1 617.8L135.9 619.1L136.7 620.3L137.5 621.6L138.3 622.9L139.0 624.2L139.8 625.5L140.5 626.8L141.3 628.1L142.0 629.4L142.7 630.8L143.4 632.1L144.0 633.4L144.7 634.8L145.3 636.1L145.9 637.5L146.5 638.9L147.1 640.3L147.7 641.7L148.2 643.1L148.8 644.4L149.3 645.9L149.9 647.3L150.4 648.7L150.9 650.1L151.4 651.5L151.9 652.9L152.3 654.3L152.8 655.7L153.3 657.2L153.7 658.6L154.2 660.0L154.6 661.5L155.1 662.9L155.5 664.3L155.9 665.8L156.3 667.2L156.8 668.7L157.2 670.1L157.6 671.6L158.0 673.0L158.4 674.5L158.7 675.9L159.1 677.4L159.5 678.8L159.8 680.3L160.2 681.7L160.5 683.2L160.9 684.6L161.2 686.1L161.5 687.6L161.8 689.0L162.1 690.5L162.4 692.0L162.7 693.5L163.0 694.9L163.3 696.4L163.6 697.9L163.9 699.3L164.1 700.8L164.4 702.3L164.7 703.8L165.0 705.2L165.3 706.7L165.6 708.2L166.0 709.6L166.3 711.1L166.6 712.6L167.0 714.0L167.4 715.5L167.8 716.9L168.1 718.4L168.6 719.8L169.0 721.2L169.4 722.7L169.9 724.1L170.4 725.5L170.9 726.9L171.4 728.3L172.0 729.7L172.6 731.1L173.2 732.5L173.8 733.8L174.5 735.2L175.2 736.5L175.9 737.8L176.6 739.2L177.3 740.5L178.0 741.8L178.7 743.1L179.4 744.5L180.2 745.8L180.9 747.1L181.7 748.4L182.4 749.7L183.2 750.9L184.0 752.2L184.8 753.5L185.6 754.7L186.4 756.0L187.2 757.3L188.1 758.5L188.9 759.7L189.8 761.0L190.7 762.2L191.6 763.4L192.5 764.6L193.4 765.8L194.3 766.9L195.3 768.1L196.2 769.3L197.2 770.4L198.2 771.5L199.2 772.6L200.3 773.7L201.3 774.8L202.4 775.8L203.5 776.8L204.6 777.9L205.7 778.8L206.9 779.8L208.1 780.7L209.3 781.7L210.5 782.5L211.7 783.4L213.0 784.2L214.2 785.0L215.5 785.8L216.8 786.5L218.2 787.3L219.5 788.0L220.8 788.7L222.1 789.3L223.5 790.0L224.8 790.6L226.2 791.2L227.6 791.9L229.0 792.5L230.3 793.0L231.7 793.6L233.1 794.2L234.5 794.7L235.9 795.3L237.3 795.8L238.7 796.3L240.1 796.8L241.5 797.3L243.0 797.8L244.4 798.3L245.8 798.8L247.2 799.3L248.7 799.7L250.1 800.2L251.5 800.7L252.9 801.1L254.4 801.6L255.8 802.0L257.2 802.5L258.7 802.9L260.1 803.3L261.5 803.8L263.0 804.2L264.4 804.6L265.9 805.0L267.3 805.4L268.7 805.9L270.2 806.3L271.6 806.7L273.1 807.1L274.5 807.5L276.0 807.9L277.4 808.3L278.8 808.7L280.3 809.2L281.7 809.6L283.2 810.0L284.6 810.4L286.1 810.8L287.5 811.2L288.9 811.6L290.4 812.0L291.8 812.4L293.3 812.8L294.7 813.3L296.2 813.7L297.6 814.1L299.0 814.5L300.5 814.9L301.9 815.4L303.3 815.8L304.8 816.3L306.2 816.7L307.6 817.1L309.1 817.6L310.5 818.0L311.9 818.5L313.4 818.9L314.8 819.3L316.3 819.7L317.7 820.1L319.2 820.4L320.6 820.8L322.1 821.2L323.5 821.5L325.0 821.9L326.5 822.3L327.9 822.6L329.4 823.0L330.8 823.3L332.3 823.7L333.7 824.0L335.2 824.4L336.7 824.7L338.1 825.1L339.6 825.4L341.0 825.8L342.5 826.1L343.9 826.5L345.4 826.9L346.9 827.3L348.3 827.6L349.8 828.0L351.2 828.4L352.7 828.8L354.1 829.2L355.6 829.5L357.0 829.9L358.5 830.3L359.9 830.7L361.4 831.0L362.8 831.4L364.3 831.8L365.7 832.1L367.2 832.5L368.7 832.8L370.1 833.2L371.6 833.5L373.0 833.9L374.5 834.2L376.0 834.5L377.4 834.8L378.9 835.1L380.4 835.4L381.8 835.7L383.3 836.0L384.8 836.3L386.2 836.6L387.7 836.9L389.2 837.2L390.7 837.5L392.1 837.7L393.6 838.0L395.1 838.3L396.6 838.5L398.0 838.8L399.5 839.1L401.0 839.3L402.5 839.6L404.0 839.8L405.4 840.1L406.9 840.4L408.4 840.6L409.9 840.9L411.3 841.1L412.8 841.4L414.3 841.6L415.8 841.9L417.3 842.1L418.7 842.4L420.2 842.6L421.7 842.9L423.2 843.1L424.7 843.4L426.1 843.6L427.6 843.9L429.1 844.1L430.6 844.4L432.1 844.6L433.5 844.9L435.0 845.1L436.5 845.3L438.0 845.6L439.5 845.8L440.9 846.0L442.4 846.3L443.9 846.5L445.4 846.7L446.9 846.9L448.4 847.2L449.8 847.4L451.3 847.6L452.8 847.8L454.3 848.0L455.8 848.2L457.3 848.4L458.8 848.6L460.2 848.8L461.7 849.0L463.2 849.2L464.7 849.4L466.2 849.5L467.7 849.7L469.2 849.9L470.7 850.1L472.2 850.3L473.7 850.5L475.1 850.6L476.6 850.8L478.1 851.0L479.6 851.2L481.1 851.4L482.6 851.6L484.1 851.9L485.5 852.1L487.0 852.3L488.5 852.5L490.0 852.8L491.5 853.0L492.9 853.3L494.4 853.5L495.9 853.8L497.4 854.0L498.9 854.3L500.3 854.5L501.8 854.8L503.3 855.0L504.8 855.3L506.2 855.6L507.7 855.9L509.2 856.1L510.7 856.4L512.1 856.7L513.6 856.9L515.1 857.2L516.6 857.5L518.0 857.8L519.5 858.1L521.0 858.3L522.5 858.6L523.9 858.9L525.4 859.2L526.9 859.5L528.4 859.7L529.8 860.0L531.3 860.3L532.8 860.6L534.2 860.9L535.7 861.2L537.2 861.5L538.7 861.8L540.1 862.1L541.6 862.4L543.1 862.7L544.5 863.0L546.0 863.3L547.5 863.6L548.9 863.9L550.4 864.2L551.9 864.5L553.3 864.8L554.8 865.1L556.3 865.4L557.8 865.7L559.2 866.0L560.7 866.3L562.2 866.6L563.6 866.9L565.1 867.1L566.6 867.4L568.1 867.7L569.5 868.0L571.0 868.3L572.5 868.6L574.0 868.9L575.4 869.1L576.9 869.4L578.4 869.7L579.9 870.0L581.3 870.3L582.8 870.6L584.3 870.9L585.7 871.1L587.2 871.4L588.7 871.7L590.1 872.0L591.6 872.3L593.1 872.6L594.6 872.9L596.0 873.2L597.5 873.6L599.0 873.9L600.4 874.2L601.9 874.5L603.4 874.8L604.8 875.2L606.3 875.5L607.7 875.8L609.2 876.1L610.7 876.5L612.1 876.8L613.6 877.1L615.1 877.5L616.5 877.8L618.0 878.1L619.5 878.5L620.9 878.8L622.4 879.2L623.8 879.5L625.3 879.9L626.7 880.3L628.2 880.6L629.6 881.0L631.1 881.4L632.5 881.8L634.0 882.1L635.4 882.5L636.9 882.9L638.3 883.3L639.8 883.7L641.2 884.1L642.7 884.5L644.1 884.9L645.6 885.3L647.0 885.8L648.5 886.2L649.9 886.6L651.3 887.1L652.8 887.5L654.2 888.0L655.6 888.5L657.0 889.0L658.4 889.4L659.8 889.9L661.2 890.5L662.6 891.0L664.0 891.5L665.4 892.1L666.8 892.6L668.2 893.2L669.6 893.8L671.0 894.4L672.4 895.0L673.7 895.6L675.1 896.3L676.5 896.9L677.8 897.6L679.1 898.2L680.5 898.9L681.8 899.6L683.1 900.3L684.5 901.0L685.8 901.7L687.1 902.4L688.4 903.2L689.7 903.9L691.0 904.7L692.3 905.5L693.6 906.3L694.8 907.1L696.1 907.9L697.3 908.7L698.6 909.6L699.8 910.4L701.0 911.2L702.3 912.1L703.5 913.0L704.7 913.9L705.9 914.8L707.1 915.7L708.3 916.6L709.4 917.6L710.6 918.5L711.8 919.5L712.9 920.4L714.1 921.4L715.2 922.4L716.3 923.4L717.5 924.4L718.6 925.4L719.7 926.4L720.7 927.4L721.8 928.5L722.9 929.5L724.0 930.6L725.1 931.6L726.1 932.7L727.2 933.8L728.2 934.9L729.2 936.0L730.3 937.1L731.3 938.2L732.2 939.4L733.2 940.5L734.1 941.6L735.1 942.8L736.0 944.0L736.9 945.2L737.7 946.4L738.6 947.6L739.4 948.9L740.3 950.1L741.1 951.4L741.9 952.6L742.7 953.9L743.5 955.2L744.3 956.5L745.1 957.8L745.9 959.0L746.7 960.3L747.4 961.6L748.2 962.9L748.9 964.2L749.7 965.5L750.4 966.8L751.2 968.1L751.9 969.4L752.6 970.7L753.3 972.1L754.1 973.4L754.8 974.7L755.5 976.0L756.2 977.3L756.9 978.7L757.6 980.0L758.3 981.3L759.0 982.6L759.7 984.0L760.4 985.3L761.1 986.6L761.5 987.5" fill="none" stroke="#33ebd0" stroke-width="1.15" stroke-linejoin="round"/></g>
<g clip-path="url(#r0)"><path d="M801.5 197.3L803.0 197.4L804.5 197.4L806.0 197.5L807.5 197.5L809.0 197.6L810.5 197.6L812.0 197.7L813.5 197.8L815.0 197.8L816.5 197.9L818.0 198.0L819.5 198.0L821.0 198.1L822.5 198.2L823.0 198.2" fill="none" stroke="#2cc8ff" stroke-width="1.05" stroke-dasharray="1.7 2.3" stroke-linejoin="round"/>
<path d="M801.5 189.4L803.0 189.5L804.5 189.7L806.0 189.8L807.5 189.9L809.0 190.1L810.5 190.2L812.0 190.4L813.4 190.6L814.9 190.7L816.4 190.9L817.9 191.1L819.4 191.2L820.9 191.4L822.4 191.6L823.0 191.7" fill="none" stroke="#5a46ff" stroke-width="1.15" stroke-linejoin="round"/>
<path d="M801.2 189.9L802.7 190.0L804.2 190.2L805.7 190.3L807.2 190.4L808.7 190.6L810.2 190.7L811.7 190.9L813.1 191.1L814.6 191.2L816.1 191.4L817.6 191.6L819.1 191.7L820.6 191.9L822.1 192.1L822.7 192.2" fill="none" stroke="#ff2020" stroke-width="1.1" stroke-dasharray="15 13" stroke-linejoin="round"/>
<path d="M801.5 188.4L803.0 188.5L804.5 188.6L806.0 188.8L807.5 188.9L809.0 189.0L810.5 189.2L812.0 189.3L813.5 189.4L814.9 189.6L816.4 189.8L817.9 189.9L819.4 190.1L820.9 190.3L822.4 190.4L823.0 190.5" fill="none" stroke="#00e400" stroke-width="1.1" stroke-dasharray="6 2.5 1.3 2.5" stroke-linejoin="round"/>
<path d="M801.5 187.3L803.0 187.4L804.5 187.6L806.0 187.8L807.5 187.9L809.0 188.1L810.5 188.2L811.9 188.4L813.4 188.6L814.9 188.7L816.4 188.9L817.9 189.1L819.4 189.3L820.9 189.4L822.4 189.6L823.0 189.7" fill="none" stroke="#1010ff" stroke-width="1.55" stroke-dasharray="1.55 4.15" stroke-linejoin="round"/>
<path d="M801.5 186.8L803.0 187.0L804.5 187.1L806.0 187.3L807.5 187.5L808.9 187.7L810.4 187.9L811.9 188.1L813.4 188.3L814.9 188.5L816.4 188.8L817.8 189.0L819.3 189.2L820.8 189.5L822.3 189.8L823.0 189.9" fill="none" stroke="#ff22ff" stroke-width="1.15" stroke-dasharray="12 11" stroke-linejoin="round"/>
<path d="M801.5 186.6L803.0 186.8L804.5 187.1L805.9 187.3L807.4 187.6L808.9 187.8L810.4 188.0L811.9 188.3L813.3 188.5L814.8 188.7L816.3 189.0L817.8 189.2L819.3 189.4L820.8 189.7L822.2 189.9L823.0 190.0" fill="none" stroke="#9a28f5" stroke-width="1.1" stroke-dasharray="11.5 4.8 1.6 4.8" stroke-linejoin="round"/>
<path d="M801.5 186.2L803.0 186.4L804.5 186.7L805.9 186.9L807.4 187.2L808.9 187.4L810.4 187.7L811.8 188.0L813.3 188.2L814.8 188.5L816.3 188.8L817.7 189.1L819.2 189.4L820.7 189.7L822.1 190.0L823.0 190.2" fill="none" stroke="#ffc428" stroke-width="1.05" stroke-dasharray="4.4 4.3 1.4 4.3" stroke-linejoin="round"/>
<path d="M801.3 184.4L802.8 184.8L804.2 185.2L805.6 185.6L807.1 186.1L808.5 186.5L809.9 187.1L811.3 187.6L812.7 188.2L814.1 188.8L815.4 189.4L816.8 190.1L818.0 191.0L819.1 191.9L820.2 193.0L821.2 194.1L822.2 195.2L823.0 196.3" fill="none" stroke="#33ebd0" stroke-width="1.15" stroke-linejoin="round"/></g>
<g clip-path="url(#r1)"><path d="M801.5 610.6L803.0 610.7L804.5 610.7L806.0 610.8L807.5 610.8L809.0 610.9L810.5 610.9L812.0 611.0L813.5 611.1L815.0 611.1L816.5 611.2L818.0 611.3L819.5 611.3L821.0 611.4L822.5 611.5L823.0 611.5" fill="none" stroke="#2cc8ff" stroke-width="1.05" stroke-dasharray="1.7 2.3" stroke-linejoin="round"/>
<path d="M801.5 602.7L803.0 602.8L804.5 603.0L806.0 603.1L807.5 603.2L809.0 603.4L810.5 603.5L812.0 603.7L813.4 603.9L814.9 604.0L816.4 604.2L817.9 604.4L819.4 604.5L820.9 604.7L822.4 604.9L823.0 605.0" fill="none" stroke="#5a46ff" stroke-width="1.15" stroke-linejoin="round"/>
<path d="M801.2 603.2L802.7 603.3L804.2 603.5L805.7 603.6L807.2 603.7L808.7 603.9L810.2 604.0L811.7 604.2L813.1 604.4L814.6 604.5L816.1 604.7L817.6 604.9L819.1 605.0L820.6 605.2L822.1 605.4L822.7 605.5" fill="none" stroke="#ff2020" stroke-width="1.1" stroke-dasharray="15 13" stroke-linejoin="round"/>
<path d="M801.5 601.7L803.0 601.8L804.5 601.9L806.0 602.1L807.5 602.2L809.0 602.3L810.5 602.5L812.0 602.6L813.5 602.7L814.9 602.9L816.4 603.1L817.9 603.2L819.4 603.4L820.9 603.6L822.4 603.7L823.0 603.8" fill="none" stroke="#00e400" stroke-width="1.1" stroke-dasharray="6 2.5 1.3 2.5" stroke-linejoin="round"/>
<path d="M801.5 600.6L803.0 600.7L804.5 600.9L806.0 601.1L807.5 601.2L809.0 601.4L810.5 601.5L811.9 601.7L813.4 601.9L814.9 602.0L816.4 602.2L817.9 602.4L819.4 602.6L820.9 602.7L822.4 602.9L823.0 603.0" fill="none" stroke="#1010ff" stroke-width="1.55" stroke-dasharray="1.55 4.15" stroke-linejoin="round"/>
<path d="M801.5 600.1L803.0 600.3L804.5 600.4L806.0 600.6L807.5 600.8L808.9 601.0L810.4 601.2L811.9 601.4L813.4 601.6L814.9 601.8L816.4 602.1L817.8 602.3L819.3 602.5L820.8 602.8L822.3 603.1L823.0 603.2" fill="none" stroke="#ff22ff" stroke-width="1.15" stroke-dasharray="12 11" stroke-linejoin="round"/>
<path d="M801.5 599.9L803.0 600.1L804.5 600.4L805.9 600.6L807.4 600.9L808.9 601.1L810.4 601.3L811.9 601.6L813.3 601.8L814.8 602.0L816.3 602.3L817.8 602.5L819.3 602.7L820.8 603.0L822.2 603.2L823.0 603.3" fill="none" stroke="#9a28f5" stroke-width="1.1" stroke-dasharray="11.5 4.8 1.6 4.8" stroke-linejoin="round"/>
<path d="M801.5 599.5L803.0 599.7L804.5 600.0L805.9 600.2L807.4 600.5L808.9 600.7L810.4 601.0L811.8 601.3L813.3 601.5L814.8 601.8L816.3 602.1L817.7 602.4L819.2 602.7L820.7 603.0L822.1 603.3L823.0 603.5" fill="none" stroke="#ffc428" stroke-width="1.05" stroke-dasharray="4.4 4.3 1.4 4.3" stroke-linejoin="round"/>
<path d="M801.3 597.7L802.8 598.1L804.2 598.5L805.6 598.9L807.1 599.4L808.5 599.8L809.9 600.4L811.3 600.9L812.7 601.5L814.1 602.1L815.4 602.7L816.8 603.4L818.0 604.3L819.1 605.2L820.2 606.3L821.2 607.4L822.2 608.5L823.0 609.6" fill="none" stroke="#33ebd0" stroke-width="1.15" stroke-linejoin="round"/></g>
<path d="M133.0 436.50H171.1" stroke="#2cc8ff" stroke-width="1.05" fill="none" stroke-dasharray="1.7 2.3"/>
<path d="M132.4 464.00H171.1" stroke="#5a46ff" stroke-width="1.15" fill="none"/>
<path d="M134.4 492.00H171.1" stroke="#ff2020" stroke-width="1.1" fill="none" stroke-dasharray="4.6 3.6"/>
<path d="M132.4 519.45H171.1" stroke="#00e400" stroke-width="1.1" fill="none" stroke-dasharray="5.6 2.4 1.2 2.4" stroke-dashoffset="1.3"/>
<path d="M132.4 547.00H171.1" stroke="#1010ff" stroke-width="1.55" fill="none" stroke-dasharray="1.55 4.15"/>
<path d="M313.0 464.00H347.9" stroke="#ff22ff" stroke-width="1.15" fill="none" stroke-dasharray="12 11"/>
<path d="M313.0 492.00H347.9" stroke="#9a28f5" stroke-width="1.1" fill="none" stroke-dasharray="12 4.7 1.6 4.7"/>
<path d="M313.0 519.45H347.9" stroke="#ffc428" stroke-width="1.05" fill="none" stroke-dasharray="12 4.7 1.6 4.7"/>
<path d="M309.0 547.00H347.9" stroke="#33ebd0" stroke-width="1.15" fill="none"/>
<path d="M95.0 161.0H822" stroke="#000" stroke-width="1" opacity="0.88" fill="none"/>
<g stroke="#000" stroke-width="1" fill="none" shape-rendering="auto">
<path d="M95.5 160.5V988.0"/>
<path d="M801.5 160.5V988.0"/>
<path d="M95.0 574.5H822"/>
<path d="M95.0 987.5H822"/>
<path d="M95.5 560.90h5.5"/>
<path d="M801.5 560.90h5.5"/>
<path d="M95.5 547.10h5.5"/>
<path d="M801.5 547.10h5.5"/>
<path d="M95.5 533.30h5.5"/>
<path d="M801.5 533.30h5.5"/>
<path d="M95.5 519.50h11.5"/>
<path d="M801.5 519.50h11.5"/>
<path d="M95.5 505.70h5.5"/>
<path d="M801.5 505.70h5.5"/>
<path d="M95.5 491.90h5.5"/>
<path d="M801.5 491.90h5.5"/>
<path d="M95.5 478.10h5.5"/>
<path d="M801.5 478.10h5.5"/>
<path d="M95.5 464.30h11.5"/>
<path d="M801.5 464.30h11.5"/>
<path d="M95.5 450.50h5.5"/>
<path d="M801.5 450.50h5.5"/>
<path d="M95.5 436.70h5.5"/>
<path d="M801.5 436.70h5.5"/>
<path d="M95.5 422.90h5.5"/>
<path d="M801.5 422.90h5.5"/>
<path d="M95.5 409.10h11.5"/>
<path d="M801.5 409.10h11.5"/>
<path d="M95.5 395.30h5.5"/>
<path d="M801.5 395.30h5.5"/>
<path d="M95.5 381.50h5.5"/>
<path d="M801.5 381.50h5.5"/>
<path d="M95.5 367.70h5.5"/>
<path d="M801.5 367.70h5.5"/>
<path d="M95.5 353.90h11.5"/>
<path d="M801.5 353.90h11.5"/>
<path d="M95.5 340.10h5.5"/>
<path d="M801.5 340.10h5.5"/>
<path d="M95.5 326.30h5.5"/>
<path d="M801.5 326.30h5.5"/>
<path d="M95.5 312.50h5.5"/>
<path d="M801.5 312.50h5.5"/>
<path d="M95.5 298.70h11.5"/>
<path d="M801.5 298.70h11.5"/>
<path d="M95.5 284.90h5.5"/>
<path d="M801.5 284.90h5.5"/>
<path d="M95.5 271.10h5.5"/>
<path d="M801.5 271.10h5.5"/>
<path d="M95.5 257.30h5.5"/>
<path d="M801.5 257.30h5.5"/>
<path d="M95.5 243.50h11.5"/>
<path d="M801.5 243.50h11.5"/>
<path d="M95.5 229.70h5.5"/>
<path d="M801.5 229.70h5.5"/>
<path d="M95.5 215.90h5.5"/>
<path d="M801.5 215.90h5.5"/>
<path d="M95.5 202.10h5.5"/>
<path d="M801.5 202.10h5.5"/>
<path d="M95.5 188.30h11.5"/>
<path d="M801.5 188.30h11.5"/>
<path d="M95.5 174.50h5.5"/>
<path d="M801.5 174.50h5.5"/>
<path d="M95.5 974.20h5.5"/>
<path d="M801.5 974.20h5.5"/>
<path d="M95.5 960.40h5.5"/>
<path d="M801.5 960.40h5.5"/>
<path d="M95.5 946.60h5.5"/>
<path d="M801.5 946.60h5.5"/>
<path d="M95.5 932.80h11.5"/>
<path d="M801.5 932.80h11.5"/>
<path d="M95.5 919.00h5.5"/>
<path d="M801.5 919.00h5.5"/>
<path d="M95.5 905.20h5.5"/>
<path d="M801.5 905.20h5.5"/>
<path d="M95.5 891.40h5.5"/>
<path d="M801.5 891.40h5.5"/>
<path d="M95.5 877.60h11.5"/>
<path d="M801.5 877.60h11.5"/>
<path d="M95.5 863.80h5.5"/>
<path d="M801.5 863.80h5.5"/>
<path d="M95.5 850.00h5.5"/>
<path d="M801.5 850.00h5.5"/>
<path d="M95.5 836.20h5.5"/>
<path d="M801.5 836.20h5.5"/>
<path d="M95.5 822.40h11.5"/>
<path d="M801.5 822.40h11.5"/>
<path d="M95.5 808.60h5.5"/>
<path d="M801.5 808.60h5.5"/>
<path d="M95.5 794.80h5.5"/>
<path d="M801.5 794.80h5.5"/>
<path d="M95.5 781.00h5.5"/>
<path d="M801.5 781.00h5.5"/>
<path d="M95.5 767.20h11.5"/>
<path d="M801.5 767.20h11.5"/>
<path d="M95.5 753.40h5.5"/>
<path d="M801.5 753.40h5.5"/>
<path d="M95.5 739.60h5.5"/>
<path d="M801.5 739.60h5.5"/>
<path d="M95.5 725.80h5.5"/>
<path d="M801.5 725.80h5.5"/>
<path d="M95.5 712.00h11.5"/>
<path d="M801.5 712.00h11.5"/>
<path d="M95.5 698.20h5.5"/>
<path d="M801.5 698.20h5.5"/>
<path d="M95.5 684.40h5.5"/>
<path d="M801.5 684.40h5.5"/>
<path d="M95.5 670.60h5.5"/>
<path d="M801.5 670.60h5.5"/>
<path d="M95.5 656.80h11.5"/>
<path d="M801.5 656.80h11.5"/>
<path d="M95.5 643.00h5.5"/>
<path d="M801.5 643.00h5.5"/>
<path d="M95.5 629.20h5.5"/>
<path d="M801.5 629.20h5.5"/>
<path d="M95.5 615.40h5.5"/>
<path d="M801.5 615.40h5.5"/>
<path d="M95.5 601.60h11.5"/>
<path d="M801.5 601.60h11.5"/>
<path d="M95.5 587.80h5.5"/>
<path d="M801.5 587.80h5.5"/>
<path d="M158.53 574.5v-5.5"/>
<path d="M221.55 574.5v-11.5"/>
<path d="M284.57 574.5v-5.5"/>
<path d="M347.60 574.5v-5.5"/>
<path d="M410.62 574.5v-5.5"/>
<path d="M473.65 574.5v-11.5"/>
<path d="M536.67 574.5v-5.5"/>
<path d="M599.70 574.5v-5.5"/>
<path d="M662.73 574.5v-5.5"/>
<path d="M725.75 574.5v-11.5"/>
<path d="M788.77 574.5v-5.5"/>
<path d="M158.53 987.5v-5.5"/>
<path d="M221.55 987.5v-11.5"/>
<path d="M284.57 987.5v-5.5"/>
<path d="M347.60 987.5v-5.5"/>
<path d="M410.62 987.5v-5.5"/>
<path d="M473.65 987.5v-11.5"/>
<path d="M536.67 987.5v-5.5"/>
<path d="M599.70 987.5v-5.5"/>
<path d="M662.73 987.5v-5.5"/>
<path d="M725.75 987.5v-11.5"/>
<path d="M788.77 987.5v-5.5"/>
</g>
<path d="M145.96 174.53L144.38 173.00L142.01 172.24L138.85 172.24L136.48 173.00L134.90 174.53L134.90 176.06L135.69 177.59L136.48 178.36L138.06 179.12L142.80 180.65L144.38 181.42L145.17 182.18L145.96 183.71L145.96 186.01L144.38 187.54L142.01 188.30L138.85 188.30L136.48 187.54L134.90 186.01M148.20 172.24L152.15 188.30M156.10 172.24L152.15 188.30M156.10 172.24L160.05 188.30M164.00 172.24L160.05 188.30M169.90 172.24L169.90 188.30M169.90 188.30L179.38 188.30M719.92 185.94L713.60 202.00M719.92 185.94L726.24 202.00M736.50 183.49L737.27 183.13L738.42 182.03L738.42 189.70M755.36 188.23L753.78 186.70L751.41 185.94L748.25 185.94L745.88 186.70L744.30 188.23L744.30 189.76L745.09 191.29L745.88 192.06L747.46 192.82L752.20 194.35L753.78 195.12L754.57 195.88L755.36 197.41L755.36 199.71L753.78 201.24L751.41 202.00L748.25 202.00L745.88 201.24L744.30 199.71M760.71 198.44L759.55 198.80L758.78 199.89L758.40 201.72L758.40 202.81L758.78 204.64L759.55 205.73L760.71 206.10L761.48 206.10L762.63 205.73L763.40 204.64L763.79 202.81L763.79 201.72L763.40 199.89L762.63 198.80L761.48 198.44L760.71 198.44M631.52 599.13L625.20 615.20M631.52 599.13L637.84 615.20M648.40 596.70L649.17 596.33L650.32 595.24L650.32 602.90M666.46 601.43L664.88 599.90L662.51 599.13L659.35 599.13L656.98 599.90L655.40 601.43L655.40 602.96L656.19 604.49L656.98 605.25L658.56 606.02L663.30 607.55L664.88 608.32L665.67 609.08L666.46 610.61L666.46 612.91L664.88 614.44L662.51 615.20L659.35 615.20L656.98 614.44L655.40 612.91M672.61 611.64L671.45 612.00L670.68 613.10L670.30 614.92L670.30 616.02L670.68 617.84L671.45 618.94L672.61 619.30L673.38 619.30L674.53 618.94L675.30 617.84L675.69 616.02L675.69 614.92L675.30 613.10L674.53 612.00L673.38 611.64L672.61 611.64M695.48 604.49L695.48 615.20M695.48 606.79L693.90 605.25L692.32 604.49L689.95 604.49L688.37 605.25L686.79 606.79L686.00 609.08L686.00 610.61L686.79 612.91L688.37 614.44L689.95 615.20L692.32 615.20L693.90 614.44L695.48 612.91M702.10 604.49L702.10 615.20M702.10 607.55L704.47 605.25L706.05 604.49L708.42 604.49L710.00 605.25L710.79 607.55L710.79 615.20M725.78 599.13L725.78 615.20M725.78 606.79L724.20 605.25L722.62 604.49L720.25 604.49L718.67 605.25L717.09 606.79L716.30 609.08L716.30 610.61L717.09 612.91L718.67 614.44L720.25 615.20L722.62 615.20L724.20 614.44L725.78 612.91M737.27 595.24L741.50 595.24L739.20 598.16L740.35 598.16L741.12 598.52L741.50 598.89L741.89 599.98L741.89 600.71L741.50 601.81L740.74 602.54L739.58 602.90L738.42 602.90L737.27 602.54L736.88 602.17L736.50 601.44M746.00 599.13L746.00 615.20M746.00 599.13L753.11 599.13L755.48 599.90L756.27 600.67L757.06 602.20L757.06 604.49L756.27 606.02L755.48 606.79L753.11 607.55L746.00 607.55M760.28 613.46L760.28 613.10L760.67 612.37L761.05 612.00L761.82 611.64L763.37 611.64L764.13 612.00L764.52 612.37L764.90 613.10L764.90 613.83L764.52 614.56L763.75 615.65L759.90 619.30L765.29 619.30" fill="none" stroke="#1a1a1a" stroke-width="1.0" stroke-linecap="round" stroke-linejoin="round"/>
<g font-family="'Liberation Sans', sans-serif" fill="#000">
<text x="87.6" y="197.3" font-size="23.8" text-anchor="end">6.4</text>
<text x="87.6" y="252.5" font-size="23.8" text-anchor="end">6.2</text>
<text x="87.6" y="307.7" font-size="23.8" text-anchor="end">6</text>
<text x="87.6" y="362.9" font-size="23.8" text-anchor="end">5.8</text>
<text x="87.6" y="418.1" font-size="23.8" text-anchor="end">5.6</text>
<text x="87.6" y="473.3" font-size="23.8" text-anchor="end">5.4</text>
<text x="87.6" y="528.5" font-size="23.8" text-anchor="end">5.2</text>
<text x="87.6" y="583.7" font-size="23.8" text-anchor="end">5</text>
<text x="87.6" y="610.6" font-size="23.8" text-anchor="end">6.4</text>
<text x="87.6" y="665.8" font-size="23.8" text-anchor="end">6.2</text>
<text x="87.6" y="721.0" font-size="23.8" text-anchor="end">6</text>
<text x="87.6" y="776.2" font-size="23.8" text-anchor="end">5.8</text>
<text x="87.6" y="831.4" font-size="23.8" text-anchor="end">5.6</text>
<text x="87.6" y="886.6" font-size="23.8" text-anchor="end">5.4</text>
<text x="87.6" y="941.8" font-size="23.8" text-anchor="end">5.2</text>
<text x="87.6" y="997.0" font-size="23.8" text-anchor="end">5</text>
<text x="221.9" y="1013.0" font-size="23.8" text-anchor="middle">2</text>
<text x="473.9" y="1013.0" font-size="23.8" text-anchor="middle">4</text>
<text x="726.0" y="1013.0" font-size="23.8" text-anchor="middle">6</text>
<text transform="translate(395.6 1048.5) scale(1.05 1)" font-size="30.5" letter-spacing="0.0">log</text>
<text transform="translate(446.7 1048.5) scale(1.05 1)" font-size="30.5" letter-spacing="0.0">t</text>
<text transform="translate(464.9 1048.5) scale(1.05 1)" font-size="30.5" letter-spacing="1.0">[y]</text>
<g transform="translate(26.2 0.0) rotate(-90) scale(1 1.03)">
<text x="-440.4" y="0" font-size="31.4" letter-spacing="0.9">log</text>
<text x="-389.6" y="0" font-size="31.4">T</text>
<text x="-369.4" y="10.4" font-size="20.4" letter-spacing="0.4">eff</text>
<text x="-337.4" y="0" font-size="31.4" letter-spacing="2.0">[K]</text>
</g>
<g transform="translate(26.2 413.0) rotate(-90) scale(1 1.03)">
<text x="-440.4" y="0" font-size="31.4" letter-spacing="0.9">log</text>
<text x="-389.6" y="0" font-size="31.4">T</text>
<text x="-369.4" y="10.4" font-size="20.4" letter-spacing="0.4">eff</text>
<text x="-337.4" y="0" font-size="31.4" letter-spacing="2.0">[K]</text>
</g>
<text x="194.7" y="444.8" font-size="21.8">1.0</text>
<text x="194.7" y="472.4" font-size="21.8">1.4</text>
<text x="194.7" y="500.0" font-size="21.8">1.5</text>
<text x="194.7" y="527.6" font-size="21.8">1.6</text>
<text x="194.7" y="555.2" font-size="21.8">1.7</text>
<text x="371.8" y="472.4" font-size="21.8">1.8</text>
<text x="371.8" y="500.0" font-size="21.8">1.85</text>
<text x="371.8" y="527.6" font-size="21.8">1.9</text>
<text x="371.8" y="555.2" font-size="21.8">2.0</text>
</g>
</svg></body></html>
